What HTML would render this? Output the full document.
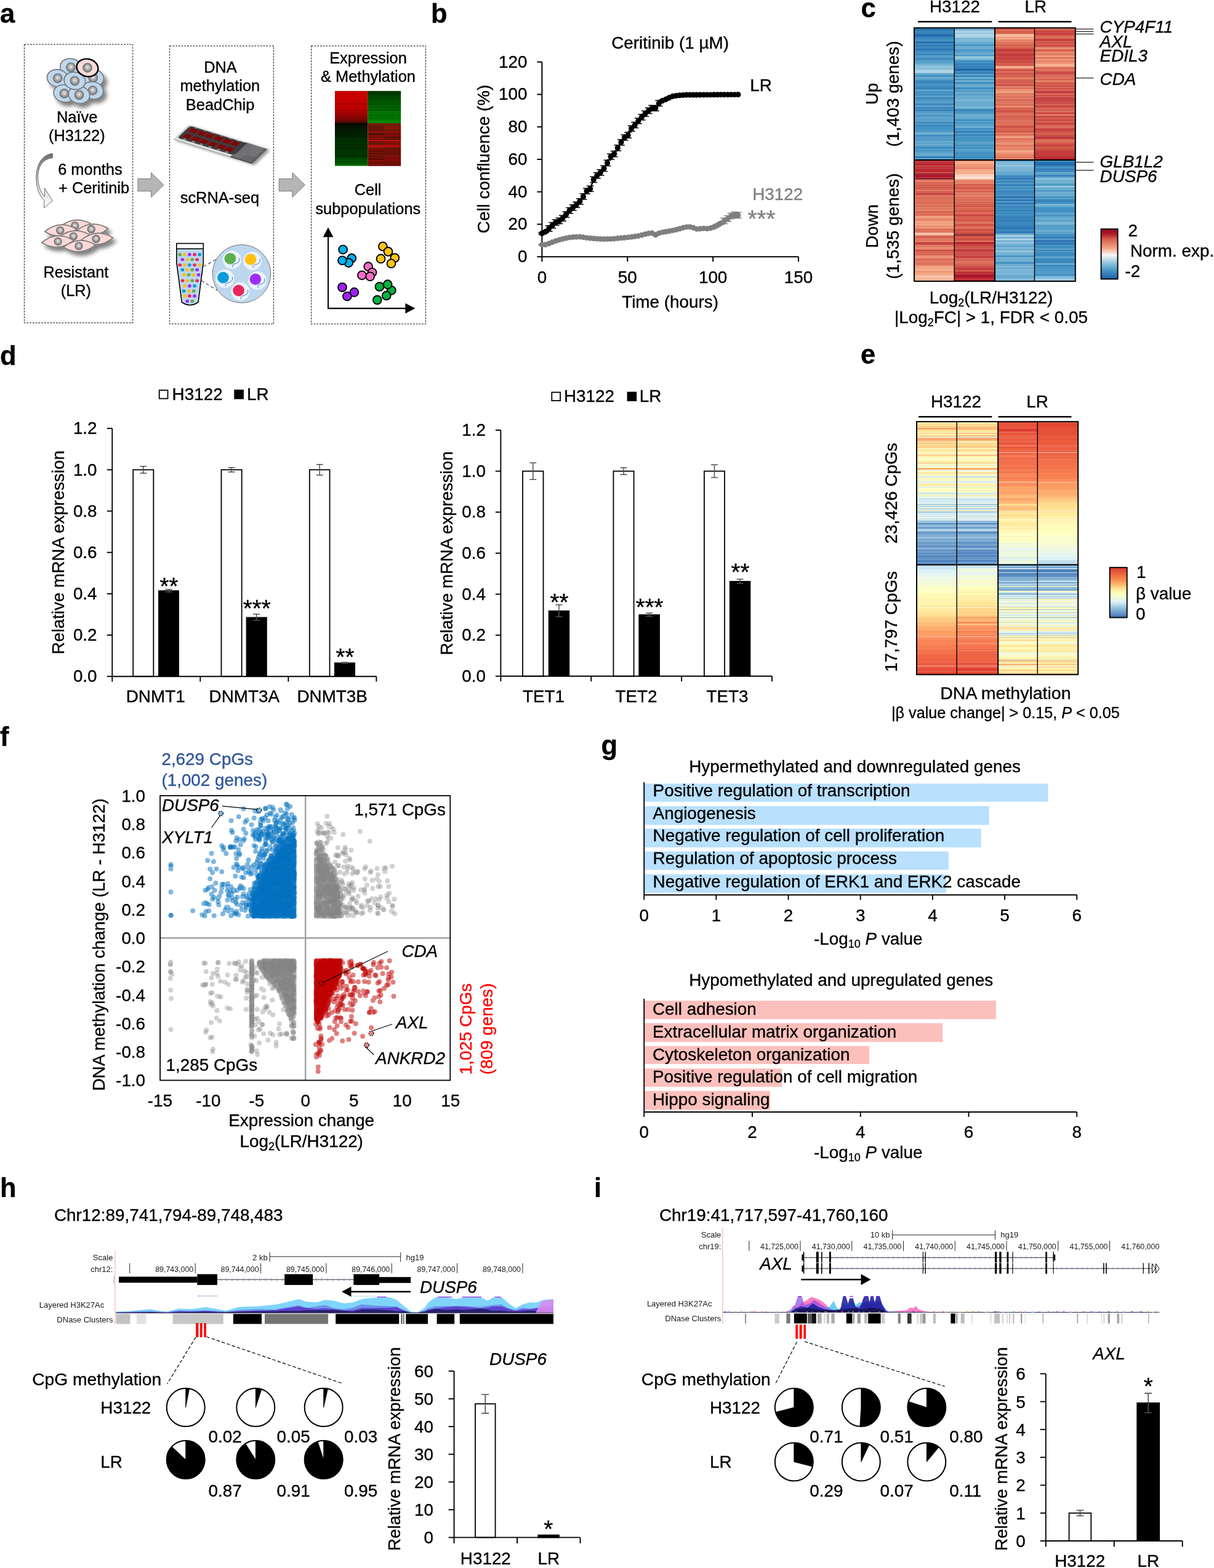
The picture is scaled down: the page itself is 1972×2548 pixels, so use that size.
<!DOCTYPE html>
<html lang="en"><head><meta charset="utf-8"><title>Figure</title>
<style>
html,body{margin:0;padding:0;background:#fff;}
body{width:1972px;height:2548px;font-family:"Liberation Sans", Arial, Helvetica, sans-serif;}
svg{display:block;}
svg text:not([fill]){fill:#000;stroke:#000;}svg text{font-family:"Liberation Sans", Arial, Helvetica, sans-serif;stroke-width:0.35px;stroke-linejoin:round;}
</style></head><body>
<svg width="1972" height="2548" viewBox="0 0 1972 2548">
<defs>
<filter id="sh" x="-30%" y="-30%" width="170%" height="180%"><feGaussianBlur in="SourceAlpha" stdDeviation="3"/><feOffset dx="4.5" dy="5.5"/><feComponentTransfer><feFuncA type="linear" slope="0.5"/></feComponentTransfer><feMerge><feMergeNode/><feMergeNode in="SourceGraphic"/></feMerge></filter>
<filter id="sh2" x="-20%" y="-30%" width="150%" height="180%"><feGaussianBlur in="SourceAlpha" stdDeviation="2"/><feOffset dx="4" dy="1.5"/><feComponentTransfer><feFuncA type="linear" slope="0.4"/></feComponentTransfer><feMerge><feMergeNode/><feMergeNode in="SourceGraphic"/></feMerge></filter>
<radialGradient id="nuc" cx="0.5" cy="0.45" r="0.55"><stop offset="0" stop-color="#f2f2f2"/><stop offset="0.45" stop-color="#b0b0b0"/><stop offset="1" stop-color="#7a7a7a"/></radialGradient>
<linearGradient id="cag" x1="0" y1="0" x2="0" y2="1"><stop offset="0" stop-color="#6a6a6a"/><stop offset="0.45" stop-color="#c8c8c8"/><stop offset="1" stop-color="#ffffff"/></linearGradient>
<linearGradient id="rim" x1="0" y1="0" x2="0" y2="1"><stop offset="0" stop-color="#d9d9d9"/><stop offset="0.8" stop-color="#cfcfcf"/><stop offset="0.93" stop-color="#e6e6e6"/><stop offset="1" stop-color="#8a8a8a"/></linearGradient>
<linearGradient id="hand" x1="0" y1="0" x2="1" y2="0"><stop offset="0" stop-color="#6c6c70"/><stop offset="0.8" stop-color="#77777a"/><stop offset="1" stop-color="#555558"/></linearGradient>
<linearGradient id="hmr" x1="0" y1="0" x2="0" y2="1"><stop offset="0" stop-color="#d80000"/><stop offset="0.55" stop-color="#c00000"/><stop offset="0.85" stop-color="#8a0505"/><stop offset="1" stop-color="#4a0a05"/></linearGradient>
<linearGradient id="hmg" x1="0" y1="0" x2="0" y2="1"><stop offset="0" stop-color="#003a00"/><stop offset="0.4" stop-color="#006a00"/><stop offset="0.8" stop-color="#008a00"/><stop offset="1" stop-color="#00a808"/></linearGradient>
<linearGradient id="hmb" x1="0" y1="0" x2="0" y2="1"><stop offset="0" stop-color="#3a2a08"/><stop offset="0.12" stop-color="#6a1208"/><stop offset="0.5" stop-color="#7a0e08"/><stop offset="1" stop-color="#8a0a08"/></linearGradient>
<linearGradient id="hmk" x1="0" y1="0" x2="0" y2="1"><stop offset="0" stop-color="#0a0a06"/><stop offset="0.3" stop-color="#002a00"/><stop offset="0.75" stop-color="#003a00"/><stop offset="1" stop-color="#006a00"/></linearGradient>

<linearGradient id="cbc" x1="0" y1="0" x2="0" y2="1"><stop offset="0" stop-color="#8e0c20"/><stop offset="0.1" stop-color="#b2182b"/><stop offset="0.2" stop-color="#d6604d"/><stop offset="0.38" stop-color="#f4a582"/><stop offset="0.52" stop-color="#f7f7f7"/><stop offset="0.68" stop-color="#92c5de"/><stop offset="0.84" stop-color="#4393c3"/><stop offset="1" stop-color="#1f5fa6"/></linearGradient>
<linearGradient id="cbe" x1="0" y1="0" x2="0" y2="1"><stop offset="0" stop-color="#dc3b2c"/><stop offset="0.25" stop-color="#f98e52"/><stop offset="0.42" stop-color="#fee090"/><stop offset="0.52" stop-color="#ffffbf"/><stop offset="0.68" stop-color="#e0f3f8"/><stop offset="0.82" stop-color="#91bfdb"/><stop offset="1" stop-color="#4272b4"/></linearGradient></defs>
<rect x="0" y="0" width="1972" height="2548" fill="#fff"/>
<text x="0" y="37" font-size="43.5" font-weight="bold">a</text>
<rect x="39.5" y="72" width="176.1" height="452.5" fill="none" stroke="#3a3a3a" stroke-width="1.25" stroke-dasharray="2.85 1.9"/>
<rect x="275.5" y="74.5" width="168.95" height="451.95" fill="none" stroke="#3a3a3a" stroke-width="1.25" stroke-dasharray="2.85 1.9"/>
<rect x="505.6" y="74.5" width="185.9" height="451.95" fill="none" stroke="#3a3a3a" stroke-width="1.25" stroke-dasharray="2.85 1.9"/>
<text x="125.2" y="199.3" font-size="25.4" text-anchor="middle">Naïve</text>
<text x="124.8" y="229.4" font-size="25.4" text-anchor="middle">(H3122)</text>
<text x="123.4" y="450.8" font-size="25.4" text-anchor="middle">Resistant</text>
<text x="123.4" y="480.7" font-size="25.4" text-anchor="middle">(LR)</text>
<text x="358" y="117.8" font-size="25.4" text-anchor="middle">DNA</text>
<text x="357.3" y="148" font-size="25.4" text-anchor="middle">methylation</text>
<text x="357.6" y="178.6" font-size="25.4" text-anchor="middle">BeadChip</text>
<text x="356.9" y="329.6" font-size="25.4" text-anchor="middle">scRNA-seq</text>
<text x="598" y="102.7" font-size="25.4" text-anchor="middle">Expression</text>
<text x="598" y="132.9" font-size="25.4" text-anchor="middle">&amp; Methylation</text>
<text x="597.6" y="317.4" font-size="25.4" text-anchor="middle">Cell</text>
<text x="597.8" y="347.5" font-size="25.4" text-anchor="middle">subpopulations</text>
<text x="94.2" y="284.3" font-size="25.4" >6 months</text>
<text x="95" y="314.2" font-size="25.4" >+ Ceritinib</text>
<g filter="url(#sh)">
<ellipse cx="151.24" cy="126.39" rx="17.4" ry="14" transform="rotate(12 151.24 126.39)" fill="#bdd7ee" stroke="#7a7a7a" stroke-width="1.7"/><circle cx="151.24" cy="126.39" r="7.2" fill="url(#nuc)" stroke="#6e6e6e" stroke-width="1.3"/>
<ellipse cx="115.03" cy="109.35" rx="17.4" ry="14" transform="rotate(12 115.03 109.35)" fill="#bdd7ee" stroke="#7a7a7a" stroke-width="1.7"/><circle cx="115.03" cy="109.35" r="7.2" fill="url(#nuc)" stroke="#6e6e6e" stroke-width="1.3"/>
<ellipse cx="93.73" cy="127.1" rx="17.4" ry="14" transform="rotate(12 93.73 127.1)" fill="#bdd7ee" stroke="#7a7a7a" stroke-width="1.7"/><circle cx="93.73" cy="127.1" r="7.2" fill="url(#nuc)" stroke="#6e6e6e" stroke-width="1.3"/>
<ellipse cx="150.53" cy="146.98" rx="17.4" ry="14" transform="rotate(12 150.53 146.98)" fill="#bdd7ee" stroke="#7a7a7a" stroke-width="1.7"/><circle cx="150.53" cy="146.98" r="7.2" fill="url(#nuc)" stroke="#6e6e6e" stroke-width="1.3"/>
<ellipse cx="104.38" cy="151.95" rx="17.4" ry="14" transform="rotate(12 104.38 151.95)" fill="#bdd7ee" stroke="#7a7a7a" stroke-width="1.7"/><circle cx="104.38" cy="151.95" r="7.2" fill="url(#nuc)" stroke="#6e6e6e" stroke-width="1.3"/>
<ellipse cx="128.52" cy="154.08" rx="17.4" ry="14" transform="rotate(12 128.52 154.08)" fill="#bdd7ee" stroke="#7a7a7a" stroke-width="1.7"/><circle cx="128.52" cy="154.08" r="7.2" fill="url(#nuc)" stroke="#6e6e6e" stroke-width="1.3"/>
<ellipse cx="121.42" cy="131.36" rx="17.4" ry="14" transform="rotate(12 121.42 131.36)" fill="#bdd7ee" stroke="#7a7a7a" stroke-width="1.7"/><circle cx="121.42" cy="131.36" r="7.2" fill="url(#nuc)" stroke="#6e6e6e" stroke-width="1.3"/>
</g>
<ellipse cx="142.01" cy="110.06" rx="17.6" ry="14.2" transform="rotate(14 142.01 110.06)" fill="#fbd9d9" stroke="#000" stroke-width="2.4"/><circle cx="142.01" cy="110.06" r="7.2" fill="url(#nuc)" stroke="#6e6e6e" stroke-width="1.3"/>
<path d="M85.3 249.5 C68 251.5 58.5 268 58.8 290 C59 305 63 317 71.8 325.5 L71.6 337.8 L85.4 326 L72.4 305.6 L72.2 319.5 C65.5 311 61.8 301 61.6 289 C61.5 272 68 258.5 85.3 256.6 Z" fill="url(#cag)" stroke="#4a4a4a" stroke-width="0.8" stroke-linejoin="round"/>
<g filter="url(#sh)">
<path d="M97.43 366.69 Q123.43 348.31 149.43 366.69 Q123.43 385.06 97.43 366.69 Z" transform="rotate(-4 123.43 366.69)" fill="#fbd9d8" stroke="#7a7a7a" stroke-width="1.7" stroke-linejoin="round"/>
<circle cx="121.78" cy="366.69" r="6" fill="url(#nuc)" stroke="#6e6e6e" stroke-width="1.3"/>
<path d="M72.58 374.47 Q98.58 356.1 124.58 374.47 Q98.58 392.85 72.58 374.47 Z" transform="rotate(-4 98.58 374.47)" fill="#fbd9d8" stroke="#7a7a7a" stroke-width="1.7" stroke-linejoin="round"/>
<circle cx="97.75" cy="374.47" r="6" fill="url(#nuc)" stroke="#6e6e6e" stroke-width="1.3"/>
<path d="M123.94 373.31 Q149.94 354.94 175.94 373.31 Q149.94 391.69 123.94 373.31 Z" transform="rotate(-4 149.94 373.31)" fill="#fbd9d8" stroke="#7a7a7a" stroke-width="1.7" stroke-linejoin="round"/>
<circle cx="148.28" cy="372.49" r="6" fill="url(#nuc)" stroke="#6e6e6e" stroke-width="1.3"/>
<path d="M94.95 384.08 Q120.95 365.71 146.95 384.08 Q120.95 402.46 94.95 384.08 Z" transform="rotate(-4 120.95 384.08)" fill="#fbd9d8" stroke="#7a7a7a" stroke-width="1.7" stroke-linejoin="round"/>
<circle cx="119.29" cy="384.08" r="6" fill="url(#nuc)" stroke="#6e6e6e" stroke-width="1.3"/>
<path d="M67.61 392.37 Q93.61 373.99 119.61 392.37 Q93.61 410.74 67.61 392.37 Z" transform="rotate(-4 93.61 392.37)" fill="#fbd9d8" stroke="#7a7a7a" stroke-width="1.7" stroke-linejoin="round"/>
<circle cx="94.11" cy="392.37" r="6" fill="url(#nuc)" stroke="#6e6e6e" stroke-width="1.3"/>
<path d="M131.73 388.23 Q157.73 369.85 183.73 388.23 Q157.73 406.6 131.73 388.23 Z" transform="rotate(-4 157.73 388.23)" fill="#fbd9d8" stroke="#7a7a7a" stroke-width="1.7" stroke-linejoin="round"/>
<circle cx="156.07" cy="388.23" r="6" fill="url(#nuc)" stroke="#6e6e6e" stroke-width="1.3"/>
<path d="M103.23 399.82 Q129.23 381.45 155.23 399.82 Q129.23 418.2 103.23 399.82 Z" transform="rotate(-4 129.23 399.82)" fill="#fbd9d8" stroke="#7a7a7a" stroke-width="1.7" stroke-linejoin="round"/>
<circle cx="127.91" cy="399.82" r="6" fill="url(#nuc)" stroke="#6e6e6e" stroke-width="1.3"/>
</g>
<path d="M224 290.5 H245.6 V280.6 L266 300.6 L245.6 320.7 V310.7 H224 Z" fill="#b5b5b5" stroke="#7a7a7a" stroke-width="1"/>
<path d="M453.3 290.5 H474.9 V280.6 L495.3 300.6 L474.9 320.7 V310.7 H453.3 Z" fill="#b5b5b5" stroke="#7a7a7a" stroke-width="1"/>
<g filter="url(#sh2)"><g transform="matrix(128.3 39.6 -25 24.1 306.2 202.6)">
<rect x="0" y="0" width="1" height="1" rx="0.015" ry="0.06" fill="url(#rim)"/>
<rect x="0.72" y="0" width="0.28" height="0.93" fill="url(#hand)"/>
<path d="M0.83 0.93L0.86 0.6L1 0.6L1 0.93Z" fill="#5c5c60" opacity="0.55"/>
<path d="M0.72 0.93H1V1H0.72Z" fill="#4a4a4d"/>
<path d="M0.055 0.03H0.745V0.6Q0.745 0.85 0.7 0.85H0.055Q0.025 0.85 0.025 0.7V0.18Q0.025 0.03 0.055 0.03Z" fill="#3c3d40"/>
<rect x="0.06" y="0.11" width="0.09" height="0.25" fill="#860a08"/>
<rect x="0.09" y="0.11" width="0.007" height="0.25" fill="#4a0505"/>
<rect x="0.12" y="0.11" width="0.007" height="0.25" fill="#4a0505"/>
<rect x="0.09" y="0.04" width="0.035" height="0.05" fill="#77777d"/>
<rect x="0.17" y="0.11" width="0.09" height="0.25" fill="#860a08"/>
<rect x="0.2" y="0.11" width="0.007" height="0.25" fill="#4a0505"/>
<rect x="0.23" y="0.11" width="0.007" height="0.25" fill="#4a0505"/>
<rect x="0.2" y="0.04" width="0.035" height="0.05" fill="#77777d"/>
<rect x="0.27" y="0.11" width="0.09" height="0.25" fill="#860a08"/>
<rect x="0.3" y="0.11" width="0.007" height="0.25" fill="#4a0505"/>
<rect x="0.33" y="0.11" width="0.007" height="0.25" fill="#4a0505"/>
<rect x="0.3" y="0.04" width="0.035" height="0.05" fill="#77777d"/>
<rect x="0.38" y="0.11" width="0.09" height="0.25" fill="#860a08"/>
<rect x="0.41" y="0.11" width="0.007" height="0.25" fill="#4a0505"/>
<rect x="0.44" y="0.11" width="0.007" height="0.25" fill="#4a0505"/>
<rect x="0.41" y="0.04" width="0.035" height="0.05" fill="#77777d"/>
<rect x="0.49" y="0.11" width="0.09" height="0.25" fill="#860a08"/>
<rect x="0.52" y="0.11" width="0.007" height="0.25" fill="#4a0505"/>
<rect x="0.55" y="0.11" width="0.007" height="0.25" fill="#4a0505"/>
<rect x="0.52" y="0.04" width="0.035" height="0.05" fill="#77777d"/>
<rect x="0.59" y="0.11" width="0.09" height="0.25" fill="#860a08"/>
<rect x="0.62" y="0.11" width="0.007" height="0.25" fill="#4a0505"/>
<rect x="0.65" y="0.11" width="0.007" height="0.25" fill="#4a0505"/>
<rect x="0.62" y="0.04" width="0.035" height="0.05" fill="#77777d"/>
<rect x="0.06" y="0.49" width="0.09" height="0.25" fill="#860a08"/>
<rect x="0.09" y="0.49" width="0.007" height="0.25" fill="#4a0505"/>
<rect x="0.12" y="0.49" width="0.007" height="0.25" fill="#4a0505"/>
<rect x="0.09" y="0.76" width="0.035" height="0.08" fill="#8a8a90"/>
<rect x="0.17" y="0.49" width="0.09" height="0.25" fill="#860a08"/>
<rect x="0.2" y="0.49" width="0.007" height="0.25" fill="#4a0505"/>
<rect x="0.23" y="0.49" width="0.007" height="0.25" fill="#4a0505"/>
<rect x="0.2" y="0.76" width="0.035" height="0.08" fill="#8a8a90"/>
<rect x="0.27" y="0.49" width="0.09" height="0.25" fill="#860a08"/>
<rect x="0.3" y="0.49" width="0.007" height="0.25" fill="#4a0505"/>
<rect x="0.33" y="0.49" width="0.007" height="0.25" fill="#4a0505"/>
<rect x="0.3" y="0.76" width="0.035" height="0.08" fill="#8a8a90"/>
<rect x="0.38" y="0.49" width="0.09" height="0.25" fill="#860a08"/>
<rect x="0.41" y="0.49" width="0.007" height="0.25" fill="#4a0505"/>
<rect x="0.44" y="0.49" width="0.007" height="0.25" fill="#4a0505"/>
<rect x="0.41" y="0.76" width="0.035" height="0.08" fill="#8a8a90"/>
<rect x="0.49" y="0.49" width="0.09" height="0.25" fill="#860a08"/>
<rect x="0.52" y="0.49" width="0.007" height="0.25" fill="#4a0505"/>
<rect x="0.55" y="0.49" width="0.007" height="0.25" fill="#4a0505"/>
<rect x="0.52" y="0.76" width="0.035" height="0.08" fill="#8a8a90"/>
<rect x="0.59" y="0.49" width="0.09" height="0.25" fill="#860a08"/>
<rect x="0.62" y="0.49" width="0.007" height="0.25" fill="#4a0505"/>
<rect x="0.65" y="0.49" width="0.007" height="0.25" fill="#4a0505"/>
<rect x="0.62" y="0.76" width="0.035" height="0.08" fill="#8a8a90"/>
</g></g>
<path d="M286.8 404.3 V426.7 L295.3 491 Q308.6 500.5 322 491 L330.3 426.7 V404.3 Z" fill="#bdd7ee" stroke="#000" stroke-width="1.6" stroke-linejoin="round"/>
<rect x="286.8" y="395.6" width="43.5" height="8.7" fill="#fff" stroke="#000" stroke-width="1.6"/>
<ellipse cx="292.28" cy="413.67" rx="2.9" ry="2.6" fill="#5fae4c"/>
<ellipse cx="299.96" cy="413.67" rx="2.9" ry="2.6" fill="#ffc010"/>
<ellipse cx="307.91" cy="413.67" rx="2.9" ry="2.6" fill="#9e2cff"/>
<ellipse cx="315.98" cy="413.67" rx="2.9" ry="2.6" fill="#e9285c"/>
<ellipse cx="324.18" cy="413.67" rx="2.9" ry="2.6" fill="#0a9ad9"/>
<ellipse cx="296.45" cy="421.74" rx="2.9" ry="2.6" fill="#9e2cff"/>
<ellipse cx="304.26" cy="421.74" rx="2.9" ry="2.6" fill="#ffc010"/>
<ellipse cx="312.33" cy="421.74" rx="2.9" ry="2.6" fill="#5fae4c"/>
<ellipse cx="320.14" cy="421.74" rx="2.9" ry="2.6" fill="#e9285c"/>
<ellipse cx="292.28" cy="430.59" rx="2.9" ry="2.6" fill="#e9285c"/>
<ellipse cx="299.96" cy="430.59" rx="2.9" ry="2.6" fill="#ffc010"/>
<ellipse cx="307.91" cy="430.59" rx="2.9" ry="2.6" fill="#0a9ad9"/>
<ellipse cx="315.98" cy="430.59" rx="2.9" ry="2.6" fill="#e9285c"/>
<ellipse cx="324.18" cy="430.59" rx="2.9" ry="2.6" fill="#ffc010"/>
<ellipse cx="296.45" cy="438.4" rx="2.9" ry="2.6" fill="#0a9ad9"/>
<ellipse cx="304.26" cy="438.4" rx="2.9" ry="2.6" fill="#ffc010"/>
<ellipse cx="312.33" cy="438.4" rx="2.9" ry="2.6" fill="#5fae4c"/>
<ellipse cx="320.14" cy="438.4" rx="2.9" ry="2.6" fill="#9e2cff"/>
<ellipse cx="298.66" cy="446.6" rx="2.9" ry="2.6" fill="#ffc010"/>
<ellipse cx="306.6" cy="446.6" rx="2.9" ry="2.6" fill="#5fae4c"/>
<ellipse cx="314.41" cy="446.6" rx="2.9" ry="2.6" fill="#ffc010"/>
<ellipse cx="322.49" cy="446.6" rx="2.9" ry="2.6" fill="#9e2cff"/>
<ellipse cx="296.45" cy="455.98" rx="2.9" ry="2.6" fill="#e9285c"/>
<ellipse cx="304.26" cy="455.98" rx="2.9" ry="2.6" fill="#ffc010"/>
<ellipse cx="312.33" cy="455.98" rx="2.9" ry="2.6" fill="#5fae4c"/>
<ellipse cx="320.14" cy="455.98" rx="2.9" ry="2.6" fill="#e9285c"/>
<ellipse cx="299.96" cy="464.7" rx="2.9" ry="2.6" fill="#ffc010"/>
<ellipse cx="307.91" cy="464.7" rx="2.9" ry="2.6" fill="#9e2cff"/>
<ellipse cx="315.98" cy="464.7" rx="2.9" ry="2.6" fill="#0a9ad9"/>
<ellipse cx="298.66" cy="472.9" rx="2.9" ry="2.6" fill="#0a9ad9"/>
<ellipse cx="306.86" cy="472.9" rx="2.9" ry="2.6" fill="#ffc010"/>
<ellipse cx="314.67" cy="472.9" rx="2.9" ry="2.6" fill="#5fae4c"/>
<ellipse cx="299.96" cy="480.97" rx="2.9" ry="2.6" fill="#ffc010"/>
<ellipse cx="307.91" cy="480.97" rx="2.9" ry="2.6" fill="#e9285c"/>
<ellipse cx="315.98" cy="480.97" rx="2.9" ry="2.6" fill="#9e2cff"/>
<ellipse cx="304.26" cy="489.43" rx="2.9" ry="2.6" fill="#9e2cff"/>
<ellipse cx="312.33" cy="489.43" rx="2.9" ry="2.6" fill="#5fae4c"/>
<line x1="330.3" y1="433.2" x2="351.78" y2="421.22" stroke="#595959" stroke-width="1.3" stroke-dasharray="5.5 3.5"/>
<line x1="327.04" y1="455.98" x2="352.69" y2="471.6" stroke="#595959" stroke-width="1.3" stroke-dasharray="5.5 3.5"/>
<circle cx="392.52" cy="444.91" r="47.3" fill="#bdd7ee" stroke="#7a7070" stroke-width="1"/>
<circle cx="376.9" cy="422.13" r="15" fill="#eaf2fb"/>
<circle cx="373.91" cy="420.18" r="9.3" fill="#5fae4c"/>
<path d="M378.11 434.18 q-1.5 -4 2 -5 q6 -1 8 -4 q2 -3 0.5 -6" fill="none" stroke="#2f80d0" stroke-width="1"/>
<circle cx="409.96" cy="424.08" r="15" fill="#eaf2fb"/>
<circle cx="407.1" cy="421.48" r="9.3" fill="#ffc010"/>
<path d="M411.3 435.48 q-1.5 -4 2 -5 q6 -1 8 -4 q2 -3 0.5 -6" fill="none" stroke="#2f80d0" stroke-width="1"/>
<circle cx="365.18" cy="452.98" r="15" fill="#eaf2fb"/>
<circle cx="362.45" cy="451.03" r="9.3" fill="#0a9ad9"/>
<path d="M366.65 465.03 q-1.5 -4 2 -5 q6 -1 8 -4 q2 -3 0.5 -6" fill="none" stroke="#2f80d0" stroke-width="1"/>
<circle cx="418.17" cy="455.98" r="15" fill="#eaf2fb"/>
<circle cx="414.91" cy="453.76" r="9.3" fill="#9e2cff"/>
<path d="M419.11 467.76 q-1.5 -4 2 -5 q6 -1 8 -4 q2 -3 0.5 -6" fill="none" stroke="#2f80d0" stroke-width="1"/>
<circle cx="390.44" cy="473.55" r="15" fill="#eaf2fb"/>
<circle cx="387.57" cy="471.99" r="9.3" fill="#e9285c"/>
<path d="M391.77 485.99 q-1.5 -4 2 -5 q6 -1 8 -4 q2 -3 0.5 -6" fill="none" stroke="#2f80d0" stroke-width="1"/>
<rect x="544" y="147.8" width="53.5" height="52.4" fill="url(#hmr)"/>
<rect x="597.3" y="147.8" width="53.9" height="52.4" fill="url(#hmg)"/>
<rect x="544" y="199.8" width="53.5" height="69.8" fill="url(#hmk)"/>
<rect x="597.5" y="199.8" width="53.7" height="69.8" fill="url(#hmb)"/>
<rect x="597.5" y="148.5" width="53.7" height="1.2" fill="#000" opacity="0.3"/>
<rect x="544" y="148.5" width="53.5" height="1.2" fill="#000" opacity="0.19"/>
<rect x="597.5" y="151.88" width="53.7" height="1.2" fill="#000" opacity="0.57"/>
<rect x="544" y="151.88" width="53.5" height="1.2" fill="#000" opacity="0.14"/>
<rect x="597.5" y="155.47" width="53.7" height="1.2" fill="#000" opacity="0.22"/>
<rect x="544" y="155.47" width="53.5" height="1.2" fill="#000" opacity="0.12"/>
<rect x="597.5" y="158.91" width="53.7" height="0.8" fill="#000" opacity="0.42"/>
<rect x="597.5" y="160.23" width="53.7" height="0.5" fill="#000" opacity="0.36"/>
<rect x="544" y="160.23" width="53.5" height="0.5" fill="#000" opacity="0.22"/>
<rect x="597.5" y="162.01" width="53.7" height="0.5" fill="#000" opacity="0.26"/>
<rect x="597.5" y="163.27" width="53.7" height="0.5" fill="#000" opacity="0.59"/>
<rect x="544" y="163.27" width="53.5" height="0.5" fill="#000" opacity="0.2"/>
<rect x="597.5" y="166.19" width="53.7" height="0.5" fill="#000" opacity="0.55"/>
<rect x="544" y="166.19" width="53.5" height="0.5" fill="#000" opacity="0.24"/>
<rect x="597.5" y="168.26" width="53.7" height="1.2" fill="#000" opacity="0.45"/>
<rect x="544" y="168.26" width="53.5" height="1.2" fill="#000" opacity="0.24"/>
<rect x="597.5" y="170.36" width="53.7" height="0.8" fill="#000" opacity="0.32"/>
<rect x="544" y="170.36" width="53.5" height="0.8" fill="#000" opacity="0.08"/>
<rect x="597.5" y="171.95" width="53.7" height="0.5" fill="#000" opacity="0.33"/>
<rect x="597.5" y="174.12" width="53.7" height="1.2" fill="#000" opacity="0.47"/>
<rect x="544" y="174.12" width="53.5" height="1.2" fill="#000" opacity="0.11"/>
<rect x="597.5" y="177.46" width="53.7" height="0.8" fill="#000" opacity="0.48"/>
<rect x="544" y="177.46" width="53.5" height="0.8" fill="#000" opacity="0.14"/>
<rect x="597.5" y="179.11" width="53.7" height="0.8" fill="#000" opacity="0.59"/>
<rect x="544" y="179.11" width="53.5" height="0.8" fill="#000" opacity="0.2"/>
<rect x="597.5" y="182.1" width="53.7" height="0.5" fill="#000" opacity="0.42"/>
<rect x="544" y="182.1" width="53.5" height="0.5" fill="#000" opacity="0.13"/>
<rect x="597.5" y="184.78" width="53.7" height="0.8" fill="#000" opacity="0.22"/>
<rect x="544" y="184.78" width="53.5" height="0.8" fill="#000" opacity="0.24"/>
<rect x="597.5" y="186.48" width="53.7" height="0.5" fill="#000" opacity="0.57"/>
<rect x="597.5" y="188.16" width="53.7" height="0.8" fill="#000" opacity="0.56"/>
<rect x="544" y="188.16" width="53.5" height="0.8" fill="#000" opacity="0.14"/>
<rect x="597.5" y="190.64" width="53.7" height="0.8" fill="#000" opacity="0.54"/>
<rect x="544" y="190.64" width="53.5" height="0.8" fill="#000" opacity="0.24"/>
<rect x="597.5" y="192.13" width="53.7" height="0.8" fill="#000" opacity="0.41"/>
<rect x="544" y="192.13" width="53.5" height="0.8" fill="#000" opacity="0.08"/>
<rect x="597.5" y="193.98" width="53.7" height="1.2" fill="#000" opacity="0.42"/>
<rect x="544" y="193.98" width="53.5" height="1.2" fill="#000" opacity="0.11"/>
<rect x="597.5" y="196.03" width="53.7" height="0.5" fill="#000" opacity="0.45"/>
<rect x="597.5" y="197.65" width="53.7" height="0.8" fill="#000" opacity="0.26"/>
<rect x="544" y="197.65" width="53.5" height="0.8" fill="#000" opacity="0.25"/>
<rect x="597.5" y="201" width="53.7" height="1" fill="#c81010" opacity="0.83"/>
<rect x="544" y="201" width="53.5" height="0.7" fill="#000" opacity="0.3"/>
<rect x="597.5" y="203.15" width="53.7" height="0.6" fill="#c81010" opacity="0.86"/>
<rect x="544" y="203.15" width="53.5" height="0.7" fill="#000" opacity="0.28"/>
<rect x="623.5" y="205.32" width="27.7" height="1.5" fill="#d81515" opacity="0.55"/>
<rect x="544" y="205.32" width="53.5" height="0.7" fill="#000" opacity="0.26"/>
<rect x="623.5" y="208.22" width="27.7" height="1" fill="#d81515" opacity="0.91"/>
<rect x="623.5" y="209.74" width="27.7" height="1.5" fill="#4a2a00" opacity="0.81"/>
<rect x="544" y="209.74" width="53.5" height="0.7" fill="#000" opacity="0.31"/>
<rect x="623.5" y="212.15" width="27.7" height="0.6" fill="#c81010" opacity="0.87"/>
<rect x="544" y="212.15" width="53.5" height="0.7" fill="#000" opacity="0.27"/>
<rect x="597.5" y="214.27" width="53.7" height="1" fill="#d81515" opacity="0.72"/>
<rect x="544" y="214.27" width="53.5" height="0.7" fill="#000" opacity="0.42"/>
<rect x="597.5" y="216.22" width="26" height="0.6" fill="#3a1800" opacity="0.81"/>
<rect x="597.5" y="218.11" width="26" height="1" fill="#2a0800" opacity="0.88"/>
<rect x="544" y="218.11" width="53.5" height="0.7" fill="#000" opacity="0.59"/>
<rect x="597.5" y="220.34" width="53.7" height="1" fill="#b00c0c" opacity="0.76"/>
<rect x="544" y="220.34" width="53.5" height="0.7" fill="#000" opacity="0.42"/>
<rect x="623.5" y="221.97" width="27.7" height="1.5" fill="#401000" opacity="0.63"/>
<rect x="544" y="221.97" width="53.5" height="0.7" fill="#000" opacity="0.47"/>
<rect x="597.5" y="224.23" width="26" height="1" fill="#b00c0c" opacity="0.83"/>
<rect x="623.5" y="225.99" width="27.7" height="0.6" fill="#3a1800" opacity="0.94"/>
<rect x="597.5" y="227.56" width="53.7" height="1.5" fill="#d81515" opacity="0.88"/>
<rect x="623.5" y="229.98" width="27.7" height="1.5" fill="#c81010" opacity="0.58"/>
<rect x="597.5" y="232.54" width="26" height="1.5" fill="#4a2a00" opacity="0.78"/>
<rect x="597.5" y="235.16" width="53.7" height="1.5" fill="#c81010" opacity="0.57"/>
<rect x="544" y="235.16" width="53.5" height="0.7" fill="#000" opacity="0.46"/>
<rect x="597.5" y="237.25" width="53.7" height="1.5" fill="#d81515" opacity="0.94"/>
<rect x="597.5" y="239.26" width="26" height="0.6" fill="#c81010" opacity="0.94"/>
<rect x="544" y="239.26" width="53.5" height="0.7" fill="#000" opacity="0.42"/>
<rect x="597.5" y="240.7" width="53.7" height="1" fill="#4a2a00" opacity="0.77"/>
<rect x="544" y="240.7" width="53.5" height="0.7" fill="#000" opacity="0.56"/>
<rect x="623.5" y="242" width="27.7" height="1" fill="#401000" opacity="0.89"/>
<rect x="597.5" y="244.02" width="26" height="0.6" fill="#2a0800" opacity="0.54"/>
<rect x="544" y="244.02" width="53.5" height="0.7" fill="#000" opacity="0.34"/>
<rect x="597.5" y="245.67" width="53.7" height="1" fill="#3a1800" opacity="0.69"/>
<rect x="597.5" y="247.81" width="53.7" height="1" fill="#4a2a00" opacity="0.57"/>
<rect x="544" y="247.81" width="53.5" height="0.7" fill="#000" opacity="0.39"/>
<rect x="597.5" y="249.36" width="53.7" height="0.6" fill="#2a0800" opacity="0.66"/>
<rect x="597.5" y="250.27" width="53.7" height="0.6" fill="#401000" opacity="0.65"/>
<rect x="597.5" y="251.9" width="53.7" height="1" fill="#4a2a00" opacity="0.72"/>
<rect x="544" y="251.9" width="53.5" height="0.7" fill="#000" opacity="0.48"/>
<rect x="597.5" y="253.7" width="26" height="0.6" fill="#2a0800" opacity="0.83"/>
<rect x="544" y="253.7" width="53.5" height="0.7" fill="#000" opacity="0.3"/>
<rect x="597.5" y="254.62" width="26" height="1" fill="#4a2a00" opacity="0.56"/>
<rect x="544" y="254.62" width="53.5" height="0.7" fill="#000" opacity="0.46"/>
<rect x="597.5" y="257.17" width="53.7" height="0.6" fill="#401000" opacity="0.85"/>
<rect x="597.5" y="258.09" width="26" height="1.5" fill="#2a0800" opacity="0.61"/>
<rect x="544" y="258.09" width="53.5" height="0.7" fill="#000" opacity="0.21"/>
<rect x="597.5" y="260.53" width="26" height="0.6" fill="#b00c0c" opacity="0.63"/>
<rect x="597.5" y="262.04" width="53.7" height="1.5" fill="#3a1800" opacity="0.51"/>
<rect x="544" y="262.04" width="53.5" height="0.7" fill="#000" opacity="0.31"/>
<rect x="597.5" y="264.77" width="53.7" height="1.5" fill="#401000" opacity="0.71"/>
<rect x="544" y="264.77" width="53.5" height="0.7" fill="#000" opacity="0.5"/>
<rect x="597.5" y="267.33" width="26" height="0.6" fill="#c81010" opacity="0.75"/>
<rect x="597.5" y="268.37" width="53.7" height="1.5" fill="#2a0800" opacity="0.51"/>
<path d="M533.1 384 V501.1 H660" fill="none" stroke="#000" stroke-width="2.1"/>
<path d="M533.1 369.4 L524.8 385.2 H541.4 Z" fill="#000"/>
<path d="M674.4 501.1 L658.4 492.8 V509.4 Z" fill="#000"/>
<circle cx="557.14" cy="405.53" r="6.9" fill="#00b0f0" stroke="#000" stroke-width="1.9"/>
<circle cx="571.22" cy="419.61" r="6.9" fill="#00b0f0" stroke="#000" stroke-width="1.9"/>
<circle cx="566.25" cy="427.07" r="6.9" fill="#00b0f0" stroke="#000" stroke-width="1.9"/>
<circle cx="555.98" cy="423.25" r="6.9" fill="#00b0f0" stroke="#000" stroke-width="1.9"/>
<circle cx="621.92" cy="400.39" r="6.9" fill="#ffc412" stroke="#000" stroke-width="1.9"/>
<circle cx="630.53" cy="408.84" r="6.9" fill="#ffc412" stroke="#000" stroke-width="1.9"/>
<circle cx="641.3" cy="419.11" r="6.9" fill="#ffc412" stroke="#000" stroke-width="1.9"/>
<circle cx="618.6" cy="420.44" r="6.9" fill="#ffc412" stroke="#000" stroke-width="1.9"/>
<circle cx="635.5" cy="428.23" r="6.9" fill="#ffc412" stroke="#000" stroke-width="1.9"/>
<circle cx="598.23" cy="433.2" r="6.9" fill="#f86cc8" stroke="#000" stroke-width="1.9"/>
<circle cx="604.52" cy="442.81" r="6.9" fill="#f86cc8" stroke="#000" stroke-width="1.9"/>
<circle cx="587.95" cy="447.28" r="6.9" fill="#f86cc8" stroke="#000" stroke-width="1.9"/>
<circle cx="601.21" cy="449.27" r="6.9" fill="#f86cc8" stroke="#000" stroke-width="1.9"/>
<circle cx="555.98" cy="466.83" r="6.9" fill="#a020f8" stroke="#000" stroke-width="1.9"/>
<circle cx="575.36" cy="474.95" r="6.9" fill="#a020f8" stroke="#000" stroke-width="1.9"/>
<circle cx="563.93" cy="481.57" r="6.9" fill="#a020f8" stroke="#000" stroke-width="1.9"/>
<circle cx="616.45" cy="465.83" r="6.9" fill="#00b341" stroke="#000" stroke-width="1.9"/>
<circle cx="635.83" cy="471.8" r="6.9" fill="#00b341" stroke="#000" stroke-width="1.9"/>
<circle cx="629.7" cy="462.19" r="6.9" fill="#00b341" stroke="#000" stroke-width="1.9"/>
<circle cx="627.72" cy="480.41" r="6.9" fill="#00b341" stroke="#000" stroke-width="1.9"/>
<circle cx="612.81" cy="487.37" r="6.9" fill="#00b341" stroke="#000" stroke-width="1.9"/>
<text x="700" y="37" font-size="43.5" font-weight="bold">b</text>
<text x="1088.6" y="79.3" font-size="27.85" text-anchor="middle">Ceritinib (1 µM)</text>
<path d="M880.4 100.7 V417.2 H1297" fill="none" stroke="#000" stroke-width="2"/>
<line x1="872.4" y1="417.2" x2="880.4" y2="417.2" stroke="#000" stroke-width="2" />
<text x="856.5" y="426.1" font-size="27.85" text-anchor="end">0</text>
<line x1="872.4" y1="364.45" x2="880.4" y2="364.45" stroke="#000" stroke-width="2" />
<text x="856.5" y="373.35" font-size="27.85" text-anchor="end">20</text>
<line x1="872.4" y1="311.7" x2="880.4" y2="311.7" stroke="#000" stroke-width="2" />
<text x="856.5" y="320.6" font-size="27.85" text-anchor="end">40</text>
<line x1="872.4" y1="258.95" x2="880.4" y2="258.95" stroke="#000" stroke-width="2" />
<text x="856.5" y="267.85" font-size="27.85" text-anchor="end">60</text>
<line x1="872.4" y1="206.2" x2="880.4" y2="206.2" stroke="#000" stroke-width="2" />
<text x="856.5" y="215.1" font-size="27.85" text-anchor="end">80</text>
<line x1="872.4" y1="153.45" x2="880.4" y2="153.45" stroke="#000" stroke-width="2" />
<text x="856.5" y="162.35" font-size="27.85" text-anchor="end">100</text>
<line x1="872.4" y1="100.7" x2="880.4" y2="100.7" stroke="#000" stroke-width="2" />
<text x="856.5" y="109.6" font-size="27.85" text-anchor="end">120</text>
<line x1="880.4" y1="417.2" x2="880.4" y2="425.2" stroke="#000" stroke-width="2" />
<text x="880.4" y="459.5" font-size="27.85" text-anchor="middle">0</text>
<line x1="1019.27" y1="417.2" x2="1019.27" y2="425.2" stroke="#000" stroke-width="2" />
<text x="1019.27" y="459.5" font-size="27.85" text-anchor="middle">50</text>
<line x1="1158.13" y1="417.2" x2="1158.13" y2="425.2" stroke="#000" stroke-width="2" />
<text x="1158.13" y="459.5" font-size="27.85" text-anchor="middle">100</text>
<line x1="1297" y1="417.2" x2="1297" y2="425.2" stroke="#000" stroke-width="2" />
<text x="1297" y="459.5" font-size="27.85" text-anchor="middle">150</text>
<text x="1088.6" y="499.5" font-size="27.85" text-anchor="middle">Time (hours)</text>
<text font-size="27.85" text-anchor="middle" transform="translate(795 258.5) rotate(-90)">Cell confluence (%)</text>
<text x="1218.2" y="147.6" font-size="27.85" >LR</text>
<text x="1222.2" y="325.4" font-size="27.85" fill="#808080" stroke="#808080">H3122</text>
<text x="1214.5" y="369.4" font-size="38.5" fill="#808080" stroke="#808080">***</text>
<path d="M880.41 397.58L886 397.58L891.59 395.83L897.18 393.59L902.76 391.55L908.35 389.87L913.94 388.2L919.52 387.03L925.11 385.91L930.7 385.22L936.28 385L941.87 384.81L947.46 385.59L953.05 386.38L958.63 387.02L964.22 387.58L969.81 388.09L975.39 388.31L980.98 388.53L986.57 388.43L992.16 388.21L997.74 387.88L1003.33 387.32L1008.92 386.77L1014.5 386.21L1020.09 385.65L1025.68 385L1031.27 384.21L1036.85 383.43L1042.44 381.99L1048.03 380.53L1053.61 379.37L1059.2 378.85L1064.79 381.74L1070.37 378.94L1075.96 377.39L1081.55 376.5L1087.14 375.56L1092.72 374.44L1098.31 373.32L1103.9 371.77L1109.48 370.09L1115.07 368.88L1120.66 368.68L1126.25 370.12L1131.83 372.13L1137.42 371.74L1143.01 371.18L1148.59 371.54L1154.18 370.74L1159.77 368.82L1165.35 366.02L1170.94 362.67L1176.53 358.94L1182.12 355.22L1187.7 350.99L1193.29 349.01L1198.88 349.94" fill="none" stroke="#7f7f7f" stroke-width="2.4"/>
<path d="M880.41 396.78V398.38M874.41 396.78h12M874.41 398.38h12M886 396.78V398.38M880 396.78h12M880 398.38h12M891.59 395.03V396.63M885.59 395.03h12M885.59 396.63h12M897.18 392.79V394.39M891.18 392.79h12M891.18 394.39h12M902.76 390.75V392.35M896.76 390.75h12M896.76 392.35h12M908.35 389.07V390.67M902.35 389.07h12M902.35 390.67h12M913.94 387.4V389M907.94 387.4h12M907.94 389h12M919.52 386.23V387.83M913.52 386.23h12M913.52 387.83h12M925.11 385.11V386.71M919.11 385.11h12M919.11 386.71h12M930.7 384.42V386.02M924.7 384.42h12M924.7 386.02h12M936.28 384.2V385.8M930.28 384.2h12M930.28 385.8h12M941.87 384.01V385.61M935.87 384.01h12M935.87 385.61h12M947.46 384.79V386.39M941.46 384.79h12M941.46 386.39h12M953.05 385.58V387.18M947.05 385.58h12M947.05 387.18h12M958.63 386.22V387.82M952.63 386.22h12M952.63 387.82h12M964.22 386.78V388.38M958.22 386.78h12M958.22 388.38h12M969.81 387.29V388.89M963.81 387.29h12M963.81 388.89h12M975.39 387.51V389.11M969.39 387.51h12M969.39 389.11h12M980.98 387.73V389.33M974.98 387.73h12M974.98 389.33h12M986.57 387.63V389.23M980.57 387.63h12M980.57 389.23h12M992.16 387.41V389.01M986.16 387.41h12M986.16 389.01h12M997.74 387.08V388.68M991.74 387.08h12M991.74 388.68h12M1003.33 386.52V388.12M997.33 386.52h12M997.33 388.12h12M1008.92 385.97V387.57M1002.92 385.97h12M1002.92 387.57h12M1014.5 385.41V387.01M1008.5 385.41h12M1008.5 387.01h12M1020.09 384.85V386.45M1014.09 384.85h12M1014.09 386.45h12M1025.68 384.2V385.8M1019.68 384.2h12M1019.68 385.8h12M1031.27 383.41V385.01M1025.27 383.41h12M1025.27 385.01h12M1036.85 382.63V384.23M1030.85 382.63h12M1030.85 384.23h12M1042.44 381.19V382.79M1036.44 381.19h12M1036.44 382.79h12M1048.03 379.73V381.33M1042.03 379.73h12M1042.03 381.33h12M1053.61 378.57V380.17M1047.61 378.57h12M1047.61 380.17h12M1059.2 378.05V379.65M1053.2 378.05h12M1053.2 379.65h12M1064.79 380.94V382.54M1058.79 380.94h12M1058.79 382.54h12M1070.37 378.14V379.74M1064.37 378.14h12M1064.37 379.74h12M1075.96 376.59V378.19M1069.96 376.59h12M1069.96 378.19h12M1081.55 375.7V377.3M1075.55 375.7h12M1075.55 377.3h12M1087.14 374.76V376.36M1081.14 374.76h12M1081.14 376.36h12M1092.72 373.64V375.24M1086.72 373.64h12M1086.72 375.24h12M1098.31 372.52V374.12M1092.31 372.52h12M1092.31 374.12h12M1103.9 370.97V372.57M1097.9 370.97h12M1097.9 372.57h12M1109.48 369.29V370.89M1103.48 369.29h12M1103.48 370.89h12M1115.07 368.08V369.68M1109.07 368.08h12M1109.07 369.68h12M1120.66 367.88V369.48M1114.66 367.88h12M1114.66 369.48h12M1126.25 369.32V370.92M1120.25 369.32h12M1120.25 370.92h12M1131.83 371.33V372.93M1125.83 371.33h12M1125.83 372.93h12M1137.42 370.94V372.54M1131.42 370.94h12M1131.42 372.54h12M1143.01 370.38V371.98M1137.01 370.38h12M1137.01 371.98h12M1148.59 370.74V372.34M1142.59 370.74h12M1142.59 372.34h12M1154.18 368.74V372.74M1148.18 368.74h12M1148.18 372.74h12M1159.77 366.82V370.82M1153.77 366.82h12M1153.77 370.82h12M1165.35 364.02V368.02M1159.35 364.02h12M1159.35 368.02h12M1170.94 360.67V364.67M1164.94 360.67h12M1164.94 364.67h12M1176.53 354.34V363.54M1170.53 354.34h12M1170.53 363.54h12M1182.12 350.62V359.82M1176.12 350.62h12M1176.12 359.82h12M1187.7 346.39V355.59M1181.7 346.39h12M1181.7 355.59h12M1193.29 344.41V353.61M1187.29 344.41h12M1187.29 353.61h12M1198.88 345.34V354.54M1192.88 345.34h12M1192.88 354.54h12" fill="none" stroke="#7f7f7f" stroke-width="1.5"/>
<path d="M875.91 397.58a4.5 4.5 0 1 0 9 0a4.5 4.5 0 1 0 -9 0M881.5 397.58a4.5 4.5 0 1 0 9 0a4.5 4.5 0 1 0 -9 0M887.09 395.83a4.5 4.5 0 1 0 9 0a4.5 4.5 0 1 0 -9 0M892.68 393.59a4.5 4.5 0 1 0 9 0a4.5 4.5 0 1 0 -9 0M898.26 391.55a4.5 4.5 0 1 0 9 0a4.5 4.5 0 1 0 -9 0M903.85 389.87a4.5 4.5 0 1 0 9 0a4.5 4.5 0 1 0 -9 0M909.44 388.2a4.5 4.5 0 1 0 9 0a4.5 4.5 0 1 0 -9 0M915.02 387.03a4.5 4.5 0 1 0 9 0a4.5 4.5 0 1 0 -9 0M920.61 385.91a4.5 4.5 0 1 0 9 0a4.5 4.5 0 1 0 -9 0M926.2 385.22a4.5 4.5 0 1 0 9 0a4.5 4.5 0 1 0 -9 0M931.78 385a4.5 4.5 0 1 0 9 0a4.5 4.5 0 1 0 -9 0M937.37 384.81a4.5 4.5 0 1 0 9 0a4.5 4.5 0 1 0 -9 0M942.96 385.59a4.5 4.5 0 1 0 9 0a4.5 4.5 0 1 0 -9 0M948.55 386.38a4.5 4.5 0 1 0 9 0a4.5 4.5 0 1 0 -9 0M954.13 387.02a4.5 4.5 0 1 0 9 0a4.5 4.5 0 1 0 -9 0M959.72 387.58a4.5 4.5 0 1 0 9 0a4.5 4.5 0 1 0 -9 0M965.31 388.09a4.5 4.5 0 1 0 9 0a4.5 4.5 0 1 0 -9 0M970.89 388.31a4.5 4.5 0 1 0 9 0a4.5 4.5 0 1 0 -9 0M976.48 388.53a4.5 4.5 0 1 0 9 0a4.5 4.5 0 1 0 -9 0M982.07 388.43a4.5 4.5 0 1 0 9 0a4.5 4.5 0 1 0 -9 0M987.66 388.21a4.5 4.5 0 1 0 9 0a4.5 4.5 0 1 0 -9 0M993.24 387.88a4.5 4.5 0 1 0 9 0a4.5 4.5 0 1 0 -9 0M998.83 387.32a4.5 4.5 0 1 0 9 0a4.5 4.5 0 1 0 -9 0M1004.42 386.77a4.5 4.5 0 1 0 9 0a4.5 4.5 0 1 0 -9 0M1010 386.21a4.5 4.5 0 1 0 9 0a4.5 4.5 0 1 0 -9 0M1015.59 385.65a4.5 4.5 0 1 0 9 0a4.5 4.5 0 1 0 -9 0M1021.18 385a4.5 4.5 0 1 0 9 0a4.5 4.5 0 1 0 -9 0M1026.77 384.21a4.5 4.5 0 1 0 9 0a4.5 4.5 0 1 0 -9 0M1032.35 383.43a4.5 4.5 0 1 0 9 0a4.5 4.5 0 1 0 -9 0M1037.94 381.99a4.5 4.5 0 1 0 9 0a4.5 4.5 0 1 0 -9 0M1043.53 380.53a4.5 4.5 0 1 0 9 0a4.5 4.5 0 1 0 -9 0M1049.11 379.37a4.5 4.5 0 1 0 9 0a4.5 4.5 0 1 0 -9 0M1054.7 378.85a4.5 4.5 0 1 0 9 0a4.5 4.5 0 1 0 -9 0M1060.29 381.74a4.5 4.5 0 1 0 9 0a4.5 4.5 0 1 0 -9 0M1065.87 378.94a4.5 4.5 0 1 0 9 0a4.5 4.5 0 1 0 -9 0M1071.46 377.39a4.5 4.5 0 1 0 9 0a4.5 4.5 0 1 0 -9 0M1077.05 376.5a4.5 4.5 0 1 0 9 0a4.5 4.5 0 1 0 -9 0M1082.64 375.56a4.5 4.5 0 1 0 9 0a4.5 4.5 0 1 0 -9 0M1088.22 374.44a4.5 4.5 0 1 0 9 0a4.5 4.5 0 1 0 -9 0M1093.81 373.32a4.5 4.5 0 1 0 9 0a4.5 4.5 0 1 0 -9 0M1099.4 371.77a4.5 4.5 0 1 0 9 0a4.5 4.5 0 1 0 -9 0M1104.98 370.09a4.5 4.5 0 1 0 9 0a4.5 4.5 0 1 0 -9 0M1110.57 368.88a4.5 4.5 0 1 0 9 0a4.5 4.5 0 1 0 -9 0M1116.16 368.68a4.5 4.5 0 1 0 9 0a4.5 4.5 0 1 0 -9 0M1121.75 370.12a4.5 4.5 0 1 0 9 0a4.5 4.5 0 1 0 -9 0M1127.33 372.13a4.5 4.5 0 1 0 9 0a4.5 4.5 0 1 0 -9 0M1132.92 371.74a4.5 4.5 0 1 0 9 0a4.5 4.5 0 1 0 -9 0M1138.51 371.18a4.5 4.5 0 1 0 9 0a4.5 4.5 0 1 0 -9 0M1144.09 371.54a4.5 4.5 0 1 0 9 0a4.5 4.5 0 1 0 -9 0M1149.68 370.74a4.5 4.5 0 1 0 9 0a4.5 4.5 0 1 0 -9 0M1155.27 368.82a4.5 4.5 0 1 0 9 0a4.5 4.5 0 1 0 -9 0M1160.85 366.02a4.5 4.5 0 1 0 9 0a4.5 4.5 0 1 0 -9 0M1166.44 362.67a4.5 4.5 0 1 0 9 0a4.5 4.5 0 1 0 -9 0M1172.03 358.94a4.5 4.5 0 1 0 9 0a4.5 4.5 0 1 0 -9 0M1177.62 355.22a4.5 4.5 0 1 0 9 0a4.5 4.5 0 1 0 -9 0M1183.2 350.99a4.5 4.5 0 1 0 9 0a4.5 4.5 0 1 0 -9 0M1188.79 349.01a4.5 4.5 0 1 0 9 0a4.5 4.5 0 1 0 -9 0M1194.38 349.94a4.5 4.5 0 1 0 9 0a4.5 4.5 0 1 0 -9 0" fill="#7f7f7f"/>
<path d="M880.41 379.34L886 376.43L891.59 371.43L897.18 366.14L902.76 361.49L908.35 358.91L913.94 354.53L919.52 348.54L925.11 342.03L930.7 337.3L936.28 332.74L941.87 327.32L947.46 319.43L953.05 310.49L958.63 306.75L964.22 291.84L969.81 285.13L975.39 280.32L980.98 273.8L986.57 264.85L992.16 254.56L997.74 250.09L1003.33 240.36L1008.92 231.29L1014.5 223.51L1020.09 219.63L1025.68 208.76L1031.27 203.17L1036.85 196.51L1042.44 190.31L1048.03 184.74L1053.61 179.81L1059.2 175.74L1064.79 175.74L1070.37 167.95L1075.96 163.63L1081.55 161.59L1087.14 158.8L1092.72 156.46L1098.31 155.53L1103.9 154.98L1109.48 154.53L1115.07 154.22L1120.66 154.19L1126.25 154.15L1131.83 154.12L1137.42 154.08L1143.01 154.05L1148.59 154.01L1154.18 153.98L1159.77 153.94L1165.35 153.91L1170.94 153.87L1176.53 153.83L1182.12 153.8L1187.7 153.76L1193.29 153.73L1198.88 153.69" fill="none" stroke="#000" stroke-width="2.4"/>
<path d="M880.41 377.84V380.84M874.41 377.84h12M874.41 380.84h12M886 374.93V377.93M880 374.93h12M880 377.93h12M891.59 366.83V376.03M885.59 366.83h12M885.59 376.03h12M897.18 361.54V370.74M891.18 361.54h12M891.18 370.74h12M902.76 356.89V366.09M896.76 356.89h12M896.76 366.09h12M908.35 354.31V363.51M902.35 354.31h12M902.35 363.51h12M913.94 349.93V359.13M907.94 349.93h12M907.94 359.13h12M919.52 343.94V353.14M913.52 343.94h12M913.52 353.14h12M925.11 337.43V346.63M919.11 337.43h12M919.11 346.63h12M930.7 332.7V341.9M924.7 332.7h12M924.7 341.9h12M936.28 328.14V337.34M930.28 328.14h12M930.28 337.34h12M941.87 322.72V331.92M935.87 322.72h12M935.87 331.92h12M947.46 314.83V324.03M941.46 314.83h12M941.46 324.03h12M953.05 305.89V315.09M947.05 305.89h12M947.05 315.09h12M958.63 302.15V311.35M952.63 302.15h12M952.63 311.35h12M964.22 287.24V296.44M958.22 287.24h12M958.22 296.44h12M969.81 280.53V289.73M963.81 280.53h12M963.81 289.73h12M975.39 275.72V284.92M969.39 275.72h12M969.39 284.92h12M980.98 269.2V278.4M974.98 269.2h12M974.98 278.4h12M986.57 260.25V269.45M980.57 260.25h12M980.57 269.45h12M992.16 249.96V259.16M986.16 249.96h12M986.16 259.16h12M997.74 245.49V254.69M991.74 245.49h12M991.74 254.69h12M1003.33 235.76V244.96M997.33 235.76h12M997.33 244.96h12M1008.92 226.69V235.89M1002.92 226.69h12M1002.92 235.89h12M1014.5 218.91V228.11M1008.5 218.91h12M1008.5 228.11h12M1020.09 215.03V224.23M1014.09 215.03h12M1014.09 224.23h12M1025.68 204.16V213.36M1019.68 204.16h12M1019.68 213.36h12M1031.27 198.57V207.77M1025.27 198.57h12M1025.27 207.77h12M1036.85 191.91V201.11M1030.85 191.91h12M1030.85 201.11h12M1042.44 185.71V194.91M1036.44 185.71h12M1036.44 194.91h12M1048.03 180.14V189.34M1042.03 180.14h12M1042.03 189.34h12M1053.61 175.21V184.41M1047.61 175.21h12M1047.61 184.41h12M1059.2 171.14V180.34M1053.2 171.14h12M1053.2 180.34h12M1064.79 171.14V180.34M1058.79 171.14h12M1058.79 180.34h12M1070.37 163.35V172.55M1064.37 163.35h12M1064.37 172.55h12M1075.96 162.13V165.13M1069.96 162.13h12M1069.96 165.13h12M1081.55 160.09V163.09M1075.55 160.09h12M1075.55 163.09h12M1087.14 157.3V160.3M1081.14 157.3h12M1081.14 160.3h12M1092.72 154.96V157.96M1086.72 154.96h12M1086.72 157.96h12M1098.31 154.03V157.03M1092.31 154.03h12M1092.31 157.03h12" fill="none" stroke="#000" stroke-width="1.5"/>
<path d="M875.81 379.34a4.6 4.6 0 1 0 9.2 0a4.6 4.6 0 1 0 -9.2 0M881.4 376.43a4.6 4.6 0 1 0 9.2 0a4.6 4.6 0 1 0 -9.2 0M886.99 371.43a4.6 4.6 0 1 0 9.2 0a4.6 4.6 0 1 0 -9.2 0M892.58 366.14a4.6 4.6 0 1 0 9.2 0a4.6 4.6 0 1 0 -9.2 0M898.16 361.49a4.6 4.6 0 1 0 9.2 0a4.6 4.6 0 1 0 -9.2 0M903.75 358.91a4.6 4.6 0 1 0 9.2 0a4.6 4.6 0 1 0 -9.2 0M909.34 354.53a4.6 4.6 0 1 0 9.2 0a4.6 4.6 0 1 0 -9.2 0M914.92 348.54a4.6 4.6 0 1 0 9.2 0a4.6 4.6 0 1 0 -9.2 0M920.51 342.03a4.6 4.6 0 1 0 9.2 0a4.6 4.6 0 1 0 -9.2 0M926.1 337.3a4.6 4.6 0 1 0 9.2 0a4.6 4.6 0 1 0 -9.2 0M931.68 332.74a4.6 4.6 0 1 0 9.2 0a4.6 4.6 0 1 0 -9.2 0M937.27 327.32a4.6 4.6 0 1 0 9.2 0a4.6 4.6 0 1 0 -9.2 0M942.86 319.43a4.6 4.6 0 1 0 9.2 0a4.6 4.6 0 1 0 -9.2 0M948.45 310.49a4.6 4.6 0 1 0 9.2 0a4.6 4.6 0 1 0 -9.2 0M954.03 306.75a4.6 4.6 0 1 0 9.2 0a4.6 4.6 0 1 0 -9.2 0M959.62 291.84a4.6 4.6 0 1 0 9.2 0a4.6 4.6 0 1 0 -9.2 0M965.21 285.13a4.6 4.6 0 1 0 9.2 0a4.6 4.6 0 1 0 -9.2 0M970.79 280.32a4.6 4.6 0 1 0 9.2 0a4.6 4.6 0 1 0 -9.2 0M976.38 273.8a4.6 4.6 0 1 0 9.2 0a4.6 4.6 0 1 0 -9.2 0M981.97 264.85a4.6 4.6 0 1 0 9.2 0a4.6 4.6 0 1 0 -9.2 0M987.56 254.56a4.6 4.6 0 1 0 9.2 0a4.6 4.6 0 1 0 -9.2 0M993.14 250.09a4.6 4.6 0 1 0 9.2 0a4.6 4.6 0 1 0 -9.2 0M998.73 240.36a4.6 4.6 0 1 0 9.2 0a4.6 4.6 0 1 0 -9.2 0M1004.32 231.29a4.6 4.6 0 1 0 9.2 0a4.6 4.6 0 1 0 -9.2 0M1009.9 223.51a4.6 4.6 0 1 0 9.2 0a4.6 4.6 0 1 0 -9.2 0M1015.49 219.63a4.6 4.6 0 1 0 9.2 0a4.6 4.6 0 1 0 -9.2 0M1021.08 208.76a4.6 4.6 0 1 0 9.2 0a4.6 4.6 0 1 0 -9.2 0M1026.67 203.17a4.6 4.6 0 1 0 9.2 0a4.6 4.6 0 1 0 -9.2 0M1032.25 196.51a4.6 4.6 0 1 0 9.2 0a4.6 4.6 0 1 0 -9.2 0M1037.84 190.31a4.6 4.6 0 1 0 9.2 0a4.6 4.6 0 1 0 -9.2 0M1043.43 184.74a4.6 4.6 0 1 0 9.2 0a4.6 4.6 0 1 0 -9.2 0M1049.01 179.81a4.6 4.6 0 1 0 9.2 0a4.6 4.6 0 1 0 -9.2 0M1054.6 175.74a4.6 4.6 0 1 0 9.2 0a4.6 4.6 0 1 0 -9.2 0M1060.19 175.74a4.6 4.6 0 1 0 9.2 0a4.6 4.6 0 1 0 -9.2 0M1065.77 167.95a4.6 4.6 0 1 0 9.2 0a4.6 4.6 0 1 0 -9.2 0M1071.36 163.63a4.6 4.6 0 1 0 9.2 0a4.6 4.6 0 1 0 -9.2 0M1076.95 161.59a4.6 4.6 0 1 0 9.2 0a4.6 4.6 0 1 0 -9.2 0M1082.54 158.8a4.6 4.6 0 1 0 9.2 0a4.6 4.6 0 1 0 -9.2 0M1088.12 156.46a4.6 4.6 0 1 0 9.2 0a4.6 4.6 0 1 0 -9.2 0M1093.71 155.53a4.6 4.6 0 1 0 9.2 0a4.6 4.6 0 1 0 -9.2 0M1099.3 154.98a4.6 4.6 0 1 0 9.2 0a4.6 4.6 0 1 0 -9.2 0M1104.88 154.53a4.6 4.6 0 1 0 9.2 0a4.6 4.6 0 1 0 -9.2 0M1110.47 154.22a4.6 4.6 0 1 0 9.2 0a4.6 4.6 0 1 0 -9.2 0M1116.06 154.19a4.6 4.6 0 1 0 9.2 0a4.6 4.6 0 1 0 -9.2 0M1121.65 154.15a4.6 4.6 0 1 0 9.2 0a4.6 4.6 0 1 0 -9.2 0M1127.23 154.12a4.6 4.6 0 1 0 9.2 0a4.6 4.6 0 1 0 -9.2 0M1132.82 154.08a4.6 4.6 0 1 0 9.2 0a4.6 4.6 0 1 0 -9.2 0M1138.41 154.05a4.6 4.6 0 1 0 9.2 0a4.6 4.6 0 1 0 -9.2 0M1143.99 154.01a4.6 4.6 0 1 0 9.2 0a4.6 4.6 0 1 0 -9.2 0M1149.58 153.98a4.6 4.6 0 1 0 9.2 0a4.6 4.6 0 1 0 -9.2 0M1155.17 153.94a4.6 4.6 0 1 0 9.2 0a4.6 4.6 0 1 0 -9.2 0M1160.75 153.91a4.6 4.6 0 1 0 9.2 0a4.6 4.6 0 1 0 -9.2 0M1166.34 153.87a4.6 4.6 0 1 0 9.2 0a4.6 4.6 0 1 0 -9.2 0M1171.93 153.83a4.6 4.6 0 1 0 9.2 0a4.6 4.6 0 1 0 -9.2 0M1177.52 153.8a4.6 4.6 0 1 0 9.2 0a4.6 4.6 0 1 0 -9.2 0M1183.1 153.76a4.6 4.6 0 1 0 9.2 0a4.6 4.6 0 1 0 -9.2 0M1188.69 153.73a4.6 4.6 0 1 0 9.2 0a4.6 4.6 0 1 0 -9.2 0M1194.28 153.69a4.6 4.6 0 1 0 9.2 0a4.6 4.6 0 1 0 -9.2 0" fill="#000"/>
<text x="1398.5" y="27.5" font-size="43.5" font-weight="bold">c</text>
<text x="1551" y="20.3" font-size="27.85" text-anchor="middle">H3122</text>
<text x="1682.3" y="20.3" font-size="27.85" text-anchor="middle">LR</text>
<line x1="1491" y1="35.2" x2="1611.3" y2="35.2" stroke="#000" stroke-width="2.6" />
<line x1="1621.5" y1="35.2" x2="1740.5" y2="35.2" stroke="#000" stroke-width="2.6" />
<path d="M1485 55.91h65.2M1485 57.16h65.2M1485 68.39h65.2" stroke="#2166ac" stroke-width="1.6" fill="none"/>
<path d="M1485 47.17h65.2M1485 48.42h65.2M1485 58.41h65.2M1485 59.65h65.2M1485 69.64h65.2M1485 79.63h65.2M1485 80.88h65.2M1485 175.74h65.2M1485 186.98h65.2" stroke="#2a71b2" stroke-width="1.6" fill="none"/>
<path d="M1485 45.92h65.2M1485 49.67h65.2M1485 53.41h65.2M1485 67.14h65.2M1485 70.89h65.2M1485 73.39h65.2M1485 74.63h65.2M1485 75.88h65.2M1485 82.12h65.2M1485 88.36h65.2M1485 95.85h65.2M1485 135.8h65.2M1485 142.04h65.2M1485 143.29h65.2M1485 170.75h65.2M1485 176.99h65.2M1485 179.49h65.2M1485 203.2h65.2M1485 220.68h65.2M1485 254.38h65.2M1485 255.63h65.2" stroke="#327cb8" stroke-width="1.6" fill="none"/>
<path d="M1485 50.92h65.2M1485 52.17h65.2M1485 54.66h65.2M1485 60.9h65.2M1485 62.15h65.2M1485 63.4h65.2M1485 72.14h65.2M1485 77.13h65.2M1485 78.38h65.2M1485 83.37h65.2M1485 89.61h65.2M1485 92.11h65.2M1485 94.61h65.2M1485 97.1h65.2M1485 130.81h65.2M1485 132.05h65.2M1485 133.3h65.2M1485 134.55h65.2M1485 138.3h65.2M1485 140.79h65.2M1485 144.54h65.2M1485 153.27h65.2M1485 154.52h65.2M1485 158.27h65.2M1485 159.52h65.2M1485 160.76h65.2M1485 169.5h65.2M1485 178.24h65.2M1485 181.98h65.2M1485 198.21h65.2M1485 200.71h65.2M1485 204.45h65.2M1485 210.69h65.2M1485 221.93h65.2M1485 228.17h65.2M1485 239.4h65.2M1485 241.9h65.2M1485 256.88h65.2M1485 259.38h65.2" stroke="#3a88bd" stroke-width="1.6" fill="none"/>
<path d="M1485 64.65h65.2M1485 65.9h65.2M1485 84.62h65.2M1485 85.87h65.2M1485 87.12h65.2M1485 102.1h65.2M1485 122.07h65.2M1485 123.32h65.2M1485 124.56h65.2M1485 127.06h65.2M1485 137.05h65.2M1485 139.54h65.2M1485 148.28h65.2M1485 149.53h65.2M1485 150.78h65.2M1485 152.03h65.2M1485 157.02h65.2M1485 162.01h65.2M1485 163.26h65.2M1485 167h65.2M1485 168.25h65.2M1485 174.49h65.2M1485 180.74h65.2M1485 183.23h65.2M1485 188.23h65.2M1485 191.97h65.2M1485 196.96h65.2M1485 199.46h65.2M1485 201.96h65.2M1485 205.7h65.2M1485 206.95h65.2M1485 208.2h65.2M1485 209.45h65.2M1485 211.94h65.2M1485 213.19h65.2M1485 219.43h65.2M1485 223.18h65.2M1485 226.92h65.2M1485 238.16h65.2M1485 240.65h65.2M1485 244.4h65.2M1485 245.65h65.2M1485 248.14h65.2" stroke="#4393c3" stroke-width="1.6" fill="none"/>
<path d="M1485 90.86h65.2M1485 93.36h65.2M1485 98.35h65.2M1485 99.6h65.2M1485 100.85h65.2M1485 120.82h65.2M1485 128.31h65.2M1485 129.56h65.2M1485 145.78h65.2M1485 147.03h65.2M1485 155.77h65.2M1485 164.51h65.2M1485 165.76h65.2M1485 172h65.2M1485 173.25h65.2M1485 185.73h65.2M1485 189.47h65.2M1485 190.72h65.2M1485 193.22h65.2M1485 194.47h65.2M1485 195.71h65.2M1485 214.44h65.2M1485 216.94h65.2M1485 224.42h65.2M1485 225.67h65.2M1485 231.91h65.2M1485 233.16h65.2M1485 236.91h65.2M1485 243.15h65.2M1485 246.89h65.2M1485 250.64h65.2M1485 253.13h65.2M1485 258.13h65.2" stroke="#57a0ca" stroke-width="1.6" fill="none"/>
<path d="M1485 103.34h65.2M1485 104.59h65.2M1485 119.57h65.2M1485 125.81h65.2M1485 184.48h65.2M1485 215.69h65.2M1485 218.18h65.2M1485 229.42h65.2M1485 230.67h65.2M1485 234.41h65.2M1485 235.66h65.2M1485 249.39h65.2M1485 251.89h65.2" stroke="#6aacd0" stroke-width="1.6" fill="none"/>
<path d="M1485 105.84h65.2M1485 107.09h65.2M1485 110.83h65.2M1485 112.08h65.2" stroke="#7eb8d7" stroke-width="1.6" fill="none"/>
<path d="M1485 108.34h65.2M1485 109.59h65.2M1485 118.32h65.2" stroke="#92c5de" stroke-width="1.6" fill="none"/>
<path d="M1485 113.33h65.2M1485 114.58h65.2" stroke="#a2cde2" stroke-width="1.6" fill="none"/>
<path d="M1485 115.83h65.2M1485 117.07h65.2" stroke="#b1d5e7" stroke-width="1.6" fill="none"/>
<path d="M1485 456.38h65.2" stroke="#fce2d3" stroke-width="1.6" fill="none"/>
<path d="M1485 380.32h65.2" stroke="#fddbc7" stroke-width="1.6" fill="none"/>
<path d="M1485 450.14h65.2" stroke="#fbceb6" stroke-width="1.6" fill="none"/>
<path d="M1485 379.07h65.2M1485 447.65h65.2M1485 448.9h65.2M1485 451.39h65.2M1485 455.13h65.2" stroke="#f8c0a4" stroke-width="1.6" fill="none"/>
<path d="M1485 360.37h65.2M1485 364.11h65.2M1485 381.57h65.2M1485 437.67h65.2M1485 438.92h65.2M1485 452.64h65.2M1485 453.88h65.2" stroke="#f6b293" stroke-width="1.6" fill="none"/>
<path d="M1485 351.64h65.2M1485 352.89h65.2M1485 361.62h65.2M1485 365.36h65.2M1485 433.93h65.2M1485 435.18h65.2M1485 436.43h65.2M1485 440.17h65.2M1485 442.66h65.2M1485 443.91h65.2M1485 445.16h65.2M1485 446.4h65.2" stroke="#f4a582" stroke-width="1.6" fill="none"/>
<path d="M1485 319.22h65.2M1485 354.14h65.2M1485 355.38h65.2M1485 359.12h65.2M1485 362.86h65.2M1485 366.6h65.2M1485 367.85h65.2M1485 369.1h65.2M1485 370.34h65.2M1485 371.59h65.2M1485 377.83h65.2M1485 402.76h65.2M1485 416.48h65.2M1485 417.72h65.2M1485 431.44h65.2M1485 432.69h65.2M1485 441.41h65.2" stroke="#ec9475" stroke-width="1.6" fill="none"/>
<path d="M1485 294.29h65.2M1485 295.53h65.2M1485 310.5h65.2M1485 331.69h65.2M1485 336.68h65.2M1485 337.93h65.2M1485 340.42h65.2M1485 341.67h65.2M1485 342.91h65.2M1485 346.66h65.2M1485 350.4h65.2M1485 356.63h65.2M1485 357.88h65.2M1485 374.09h65.2M1485 382.81h65.2M1485 387.8h65.2M1485 391.54h65.2M1485 392.79h65.2M1485 399.02h65.2M1485 401.52h65.2M1485 404.01h65.2M1485 405.26h65.2M1485 411.49h65.2M1485 415.23h65.2M1485 418.97h65.2M1485 425.21h65.2" stroke="#e58268" stroke-width="1.6" fill="none"/>
<path d="M1485 293.04h65.2M1485 299.28h65.2M1485 309.25h65.2M1485 321.72h65.2M1485 322.97h65.2M1485 324.21h65.2M1485 325.46h65.2M1485 326.71h65.2M1485 327.95h65.2M1485 329.2h65.2M1485 332.94h65.2M1485 335.43h65.2M1485 339.17h65.2M1485 347.9h65.2M1485 375.33h65.2M1485 376.58h65.2M1485 389.05h65.2M1485 390.29h65.2M1485 400.27h65.2M1485 420.22h65.2M1485 421.47h65.2M1485 423.96h65.2M1485 426.45h65.2M1485 427.7h65.2M1485 430.19h65.2" stroke="#de715a" stroke-width="1.6" fill="none"/>
<path d="M1485 280.57h65.2M1485 296.78h65.2M1485 298.03h65.2M1485 300.52h65.2M1485 303.02h65.2M1485 305.51h65.2M1485 306.76h65.2M1485 308h65.2M1485 312.99h65.2M1485 317.98h65.2M1485 320.47h65.2M1485 330.45h65.2M1485 334.19h65.2M1485 344.16h65.2M1485 345.41h65.2M1485 349.15h65.2M1485 372.84h65.2M1485 384.06h65.2M1485 386.55h65.2M1485 409h65.2M1485 410.24h65.2M1485 412.74h65.2M1485 413.98h65.2M1485 422.71h65.2M1485 428.95h65.2" stroke="#d6604d" stroke-width="1.6" fill="none"/>
<path d="M1485 269.35h65.2M1485 270.6h65.2M1485 279.33h65.2M1485 291.79h65.2M1485 301.77h65.2M1485 304.26h65.2M1485 311.74h65.2M1485 315.48h65.2M1485 316.73h65.2M1485 385.31h65.2M1485 396.53h65.2M1485 397.78h65.2M1485 406.5h65.2M1485 407.75h65.2" stroke="#cd4e45" stroke-width="1.6" fill="none"/>
<path d="M1485 260.62h65.2M1485 261.87h65.2M1485 264.36h65.2M1485 265.61h65.2M1485 273.09h65.2M1485 274.34h65.2M1485 314.24h65.2M1485 394.03h65.2M1485 395.28h65.2" stroke="#c43c3c" stroke-width="1.6" fill="none"/>
<path d="M1485 263.12h65.2M1485 268.1h65.2M1485 271.84h65.2M1485 275.59h65.2M1485 276.83h65.2M1485 281.82h65.2M1485 289.3h65.2M1485 290.55h65.2" stroke="#bb2a34" stroke-width="1.6" fill="none"/>
<path d="M1485 266.86h65.2M1485 278.08h65.2M1485 284.31h65.2M1485 285.56h65.2M1485 286.81h65.2M1485 288.05h65.2" stroke="#b2182b" stroke-width="1.6" fill="none"/>
<path d="M1485 283.07h65.2" stroke="#8d0c25" stroke-width="1.6" fill="none"/>
<path d="M1550.2 113.33h65.8" stroke="#1a5899" stroke-width="1.6" fill="none"/>
<path d="M1550.2 112.08h65.8" stroke="#2166ac" stroke-width="1.6" fill="none"/>
<path d="M1550.2 110.83h65.8M1550.2 114.58h65.8M1550.2 118.32h65.8" stroke="#2a71b2" stroke-width="1.6" fill="none"/>
<path d="M1550.2 103.34h65.8M1550.2 104.59h65.8M1550.2 107.09h65.8M1550.2 108.34h65.8M1550.2 117.07h65.8M1550.2 123.32h65.8M1550.2 179.49h65.8M1550.2 213.19h65.8M1550.2 214.44h65.8M1550.2 219.43h65.8M1550.2 256.88h65.8" stroke="#327cb8" stroke-width="1.6" fill="none"/>
<path d="M1550.2 99.6h65.8M1550.2 100.85h65.8M1550.2 105.84h65.8M1550.2 109.59h65.8M1550.2 115.83h65.8M1550.2 119.57h65.8M1550.2 122.07h65.8M1550.2 124.56h65.8M1550.2 134.55h65.8M1550.2 137.05h65.8M1550.2 142.04h65.8M1550.2 143.29h65.8M1550.2 148.28h65.8M1550.2 180.74h65.8M1550.2 200.71h65.8M1550.2 209.45h65.8M1550.2 211.94h65.8M1550.2 215.69h65.8M1550.2 218.18h65.8M1550.2 220.68h65.8M1550.2 235.66h65.8M1550.2 236.91h65.8M1550.2 239.4h65.8M1550.2 251.89h65.8M1550.2 255.63h65.8" stroke="#3a88bd" stroke-width="1.6" fill="none"/>
<path d="M1550.2 72.14h65.8M1550.2 73.39h65.8M1550.2 80.88h65.8M1550.2 82.12h65.8M1550.2 89.61h65.8M1550.2 90.86h65.8M1550.2 102.1h65.8M1550.2 128.31h65.8M1550.2 129.56h65.8M1550.2 133.3h65.8M1550.2 135.8h65.8M1550.2 144.54h65.8M1550.2 147.03h65.8M1550.2 176.99h65.8M1550.2 178.24h65.8M1550.2 181.98h65.8M1550.2 183.23h65.8M1550.2 191.97h65.8M1550.2 194.47h65.8M1550.2 195.71h65.8M1550.2 196.96h65.8M1550.2 199.46h65.8M1550.2 208.2h65.8M1550.2 210.69h65.8M1550.2 216.94h65.8M1550.2 221.93h65.8M1550.2 223.18h65.8M1550.2 224.42h65.8M1550.2 225.67h65.8M1550.2 226.92h65.8M1550.2 228.17h65.8M1550.2 229.42h65.8M1550.2 240.65h65.8M1550.2 241.9h65.8M1550.2 246.89h65.8M1550.2 248.14h65.8M1550.2 249.39h65.8M1550.2 250.64h65.8M1550.2 253.13h65.8M1550.2 254.38h65.8M1550.2 258.13h65.8" stroke="#4393c3" stroke-width="1.6" fill="none"/>
<path d="M1550.2 74.63h65.8M1550.2 83.37h65.8M1550.2 84.62h65.8M1550.2 85.87h65.8M1550.2 97.1h65.8M1550.2 98.35h65.8M1550.2 120.82h65.8M1550.2 125.81h65.8M1550.2 130.81h65.8M1550.2 145.78h65.8M1550.2 152.03h65.8M1550.2 153.27h65.8M1550.2 154.52h65.8M1550.2 175.74h65.8M1550.2 184.48h65.8M1550.2 185.73h65.8M1550.2 193.22h65.8M1550.2 198.21h65.8M1550.2 201.96h65.8M1550.2 203.2h65.8M1550.2 204.45h65.8M1550.2 230.67h65.8M1550.2 231.91h65.8M1550.2 233.16h65.8M1550.2 234.41h65.8M1550.2 238.16h65.8M1550.2 243.15h65.8M1550.2 244.4h65.8M1550.2 245.65h65.8" stroke="#57a0ca" stroke-width="1.6" fill="none"/>
<path d="M1550.2 45.92h65.8M1550.2 47.17h65.8M1550.2 48.42h65.8M1550.2 62.15h65.8M1550.2 68.39h65.8M1550.2 69.64h65.8M1550.2 70.89h65.8M1550.2 75.88h65.8M1550.2 77.13h65.8M1550.2 78.38h65.8M1550.2 79.63h65.8M1550.2 87.12h65.8M1550.2 88.36h65.8M1550.2 127.06h65.8M1550.2 132.05h65.8M1550.2 138.3h65.8M1550.2 139.54h65.8M1550.2 140.79h65.8M1550.2 149.53h65.8M1550.2 150.78h65.8M1550.2 155.77h65.8M1550.2 157.02h65.8M1550.2 158.27h65.8M1550.2 159.52h65.8M1550.2 160.76h65.8M1550.2 162.01h65.8M1550.2 164.51h65.8M1550.2 165.76h65.8M1550.2 167h65.8M1550.2 168.25h65.8M1550.2 169.5h65.8M1550.2 170.75h65.8M1550.2 172h65.8M1550.2 173.25h65.8M1550.2 186.98h65.8M1550.2 188.23h65.8M1550.2 189.47h65.8M1550.2 190.72h65.8M1550.2 205.7h65.8M1550.2 206.95h65.8M1550.2 259.38h65.8" stroke="#6aacd0" stroke-width="1.6" fill="none"/>
<path d="M1550.2 63.4h65.8M1550.2 64.65h65.8M1550.2 65.9h65.8M1550.2 67.14h65.8M1550.2 95.85h65.8M1550.2 163.26h65.8" stroke="#7eb8d7" stroke-width="1.6" fill="none"/>
<path d="M1550.2 49.67h65.8M1550.2 53.41h65.8M1550.2 54.66h65.8M1550.2 60.9h65.8M1550.2 92.11h65.8M1550.2 93.36h65.8M1550.2 94.61h65.8M1550.2 174.49h65.8" stroke="#92c5de" stroke-width="1.6" fill="none"/>
<path d="M1550.2 50.92h65.8M1550.2 57.16h65.8" stroke="#a2cde2" stroke-width="1.6" fill="none"/>
<path d="M1550.2 52.17h65.8M1550.2 55.91h65.8M1550.2 58.41h65.8M1550.2 59.65h65.8" stroke="#b1d5e7" stroke-width="1.6" fill="none"/>
<path d="M1550.2 288.05h65.8M1550.2 289.3h65.8" stroke="#fae9df" stroke-width="1.6" fill="none"/>
<path d="M1550.2 285.56h65.8" stroke="#fddbc7" stroke-width="1.6" fill="none"/>
<path d="M1550.2 284.31h65.8M1550.2 286.81h65.8M1550.2 290.55h65.8" stroke="#fbceb6" stroke-width="1.6" fill="none"/>
<path d="M1550.2 283.07h65.8" stroke="#f8c0a4" stroke-width="1.6" fill="none"/>
<path d="M1550.2 263.12h65.8M1550.2 264.36h65.8M1550.2 275.59h65.8M1550.2 278.08h65.8M1550.2 279.33h65.8M1550.2 280.57h65.8M1550.2 291.79h65.8" stroke="#f6b293" stroke-width="1.6" fill="none"/>
<path d="M1550.2 265.61h65.8M1550.2 266.86h65.8M1550.2 276.83h65.8M1550.2 281.82h65.8" stroke="#f4a582" stroke-width="1.6" fill="none"/>
<path d="M1550.2 261.87h65.8M1550.2 268.1h65.8M1550.2 269.35h65.8M1550.2 270.6h65.8M1550.2 271.84h65.8M1550.2 274.34h65.8" stroke="#ec9475" stroke-width="1.6" fill="none"/>
<path d="M1550.2 260.62h65.8M1550.2 273.09h65.8M1550.2 293.04h65.8M1550.2 294.29h65.8M1550.2 295.53h65.8M1550.2 296.78h65.8M1550.2 298.03h65.8M1550.2 314.24h65.8M1550.2 317.98h65.8M1550.2 330.45h65.8M1550.2 345.41h65.8M1550.2 362.86h65.8M1550.2 391.54h65.8" stroke="#e58268" stroke-width="1.6" fill="none"/>
<path d="M1550.2 299.28h65.8M1550.2 301.77h65.8M1550.2 308h65.8M1550.2 309.25h65.8M1550.2 310.5h65.8M1550.2 312.99h65.8M1550.2 315.48h65.8M1550.2 316.73h65.8M1550.2 319.22h65.8M1550.2 320.47h65.8M1550.2 321.72h65.8M1550.2 322.97h65.8M1550.2 325.46h65.8M1550.2 326.71h65.8M1550.2 336.68h65.8M1550.2 337.93h65.8M1550.2 340.42h65.8M1550.2 347.9h65.8M1550.2 351.64h65.8M1550.2 360.37h65.8M1550.2 361.62h65.8M1550.2 367.85h65.8M1550.2 369.1h65.8M1550.2 370.34h65.8M1550.2 371.59h65.8M1550.2 376.58h65.8M1550.2 392.79h65.8M1550.2 421.47h65.8M1550.2 425.21h65.8M1550.2 426.45h65.8M1550.2 427.7h65.8" stroke="#de715a" stroke-width="1.6" fill="none"/>
<path d="M1550.2 303.02h65.8M1550.2 304.26h65.8M1550.2 305.51h65.8M1550.2 324.21h65.8M1550.2 327.95h65.8M1550.2 331.69h65.8M1550.2 332.94h65.8M1550.2 334.19h65.8M1550.2 339.17h65.8M1550.2 341.67h65.8M1550.2 344.16h65.8M1550.2 346.66h65.8M1550.2 352.89h65.8M1550.2 354.14h65.8M1550.2 355.38h65.8M1550.2 356.63h65.8M1550.2 359.12h65.8M1550.2 364.11h65.8M1550.2 385.31h65.8M1550.2 386.55h65.8M1550.2 402.76h65.8M1550.2 410.24h65.8M1550.2 420.22h65.8M1550.2 423.96h65.8M1550.2 430.19h65.8M1550.2 431.44h65.8M1550.2 440.17h65.8" stroke="#d6604d" stroke-width="1.6" fill="none"/>
<path d="M1550.2 300.52h65.8M1550.2 306.76h65.8M1550.2 311.74h65.8M1550.2 329.2h65.8M1550.2 335.43h65.8M1550.2 342.91h65.8M1550.2 349.15h65.8M1550.2 357.88h65.8M1550.2 365.36h65.8M1550.2 366.6h65.8M1550.2 372.84h65.8M1550.2 374.09h65.8M1550.2 375.33h65.8M1550.2 377.83h65.8M1550.2 379.07h65.8M1550.2 380.32h65.8M1550.2 381.57h65.8M1550.2 387.8h65.8M1550.2 389.05h65.8M1550.2 390.29h65.8M1550.2 396.53h65.8M1550.2 400.27h65.8M1550.2 401.52h65.8M1550.2 404.01h65.8M1550.2 411.49h65.8M1550.2 412.74h65.8M1550.2 415.23h65.8M1550.2 416.48h65.8M1550.2 418.97h65.8M1550.2 422.71h65.8M1550.2 428.95h65.8M1550.2 432.69h65.8M1550.2 433.93h65.8M1550.2 438.92h65.8M1550.2 441.41h65.8" stroke="#cd4e45" stroke-width="1.6" fill="none"/>
<path d="M1550.2 350.4h65.8M1550.2 382.81h65.8M1550.2 384.06h65.8M1550.2 397.78h65.8M1550.2 399.02h65.8M1550.2 405.26h65.8M1550.2 406.5h65.8M1550.2 407.75h65.8M1550.2 409h65.8M1550.2 413.98h65.8M1550.2 435.18h65.8M1550.2 436.43h65.8M1550.2 437.67h65.8M1550.2 445.16h65.8M1550.2 452.64h65.8M1550.2 453.88h65.8" stroke="#c43c3c" stroke-width="1.6" fill="none"/>
<path d="M1550.2 417.72h65.8M1550.2 442.66h65.8M1550.2 443.91h65.8M1550.2 446.4h65.8" stroke="#bb2a34" stroke-width="1.6" fill="none"/>
<path d="M1550.2 394.03h65.8M1550.2 395.28h65.8M1550.2 448.9h65.8M1550.2 450.14h65.8M1550.2 451.39h65.8M1550.2 455.13h65.8" stroke="#b2182b" stroke-width="1.6" fill="none"/>
<path d="M1550.2 447.65h65.8" stroke="#9f1228" stroke-width="1.6" fill="none"/>
<path d="M1550.2 456.38h65.8" stroke="#8d0c25" stroke-width="1.6" fill="none"/>
<path d="M1616 57.16h64.5" stroke="#fbceb6" stroke-width="1.6" fill="none"/>
<path d="M1616 55.91h64.5M1616 59.65h64.5M1616 109.59h64.5" stroke="#f8c0a4" stroke-width="1.6" fill="none"/>
<path d="M1616 58.41h64.5M1616 62.15h64.5M1616 108.34h64.5" stroke="#f6b293" stroke-width="1.6" fill="none"/>
<path d="M1616 63.4h64.5M1616 149.53h64.5M1616 150.78h64.5M1616 223.18h64.5M1616 244.4h64.5M1616 245.65h64.5M1616 246.89h64.5M1616 249.39h64.5" stroke="#f4a582" stroke-width="1.6" fill="none"/>
<path d="M1616 60.9h64.5M1616 64.65h64.5M1616 107.09h64.5M1616 110.83h64.5M1616 145.78h64.5M1616 148.28h64.5M1616 154.52h64.5M1616 173.25h64.5M1616 221.93h64.5M1616 224.42h64.5M1616 231.91h64.5M1616 233.16h64.5M1616 234.41h64.5M1616 240.65h64.5M1616 248.14h64.5M1616 256.88h64.5" stroke="#ec9475" stroke-width="1.6" fill="none"/>
<path d="M1616 65.9h64.5M1616 67.14h64.5M1616 68.39h64.5M1616 75.88h64.5M1616 112.08h64.5M1616 127.06h64.5M1616 128.31h64.5M1616 142.04h64.5M1616 144.54h64.5M1616 147.03h64.5M1616 159.52h64.5M1616 160.76h64.5M1616 164.51h64.5M1616 168.25h64.5M1616 174.49h64.5M1616 215.69h64.5M1616 216.94h64.5M1616 220.68h64.5M1616 228.17h64.5M1616 229.42h64.5M1616 230.67h64.5M1616 235.66h64.5M1616 238.16h64.5M1616 239.4h64.5M1616 241.9h64.5M1616 243.15h64.5M1616 250.64h64.5M1616 251.89h64.5M1616 253.13h64.5M1616 254.38h64.5M1616 258.13h64.5" stroke="#e58268" stroke-width="1.6" fill="none"/>
<path d="M1616 48.42h64.5M1616 49.67h64.5M1616 54.66h64.5M1616 69.64h64.5M1616 70.89h64.5M1616 72.14h64.5M1616 103.34h64.5M1616 115.83h64.5M1616 117.07h64.5M1616 125.81h64.5M1616 134.55h64.5M1616 139.54h64.5M1616 140.79h64.5M1616 152.03h64.5M1616 153.27h64.5M1616 155.77h64.5M1616 158.27h64.5M1616 165.76h64.5M1616 169.5h64.5M1616 172h64.5M1616 184.48h64.5M1616 185.73h64.5M1616 186.98h64.5M1616 188.23h64.5M1616 190.72h64.5M1616 194.47h64.5M1616 195.71h64.5M1616 198.21h64.5M1616 199.46h64.5M1616 200.71h64.5M1616 201.96h64.5M1616 203.2h64.5M1616 209.45h64.5M1616 219.43h64.5M1616 225.67h64.5M1616 226.92h64.5M1616 236.91h64.5M1616 255.63h64.5M1616 259.38h64.5" stroke="#de715a" stroke-width="1.6" fill="none"/>
<path d="M1616 50.92h64.5M1616 52.17h64.5M1616 53.41h64.5M1616 73.39h64.5M1616 74.63h64.5M1616 77.13h64.5M1616 78.38h64.5M1616 84.62h64.5M1616 104.59h64.5M1616 118.32h64.5M1616 120.82h64.5M1616 123.32h64.5M1616 124.56h64.5M1616 129.56h64.5M1616 130.81h64.5M1616 132.05h64.5M1616 135.8h64.5M1616 143.29h64.5M1616 157.02h64.5M1616 163.26h64.5M1616 167h64.5M1616 170.75h64.5M1616 175.74h64.5M1616 176.99h64.5M1616 178.24h64.5M1616 179.49h64.5M1616 183.23h64.5M1616 191.97h64.5M1616 193.22h64.5M1616 196.96h64.5M1616 204.45h64.5M1616 208.2h64.5M1616 210.69h64.5M1616 211.94h64.5M1616 213.19h64.5M1616 218.18h64.5" stroke="#d6604d" stroke-width="1.6" fill="none"/>
<path d="M1616 47.17h64.5M1616 79.63h64.5M1616 85.87h64.5M1616 92.11h64.5M1616 93.36h64.5M1616 97.1h64.5M1616 98.35h64.5M1616 99.6h64.5M1616 100.85h64.5M1616 102.1h64.5M1616 105.84h64.5M1616 113.33h64.5M1616 114.58h64.5M1616 119.57h64.5M1616 122.07h64.5M1616 133.3h64.5M1616 137.05h64.5M1616 162.01h64.5M1616 180.74h64.5M1616 181.98h64.5M1616 189.47h64.5M1616 205.7h64.5M1616 206.95h64.5M1616 214.44h64.5" stroke="#cd4e45" stroke-width="1.6" fill="none"/>
<path d="M1616 45.92h64.5M1616 80.88h64.5M1616 82.12h64.5M1616 83.37h64.5M1616 87.12h64.5M1616 88.36h64.5M1616 89.61h64.5M1616 90.86h64.5M1616 94.61h64.5M1616 95.85h64.5M1616 138.3h64.5" stroke="#c43c3c" stroke-width="1.6" fill="none"/>
<path d="M1616 291.79h64.5M1616 312.99h64.5M1616 319.22h64.5M1616 325.46h64.5M1616 330.45h64.5M1616 331.69h64.5M1616 352.89h64.5M1616 370.34h64.5M1616 371.59h64.5M1616 377.83h64.5" stroke="#2a71b2" stroke-width="1.6" fill="none"/>
<path d="M1616 286.81h64.5M1616 290.55h64.5M1616 294.29h64.5M1616 300.52h64.5M1616 301.77h64.5M1616 308h64.5M1616 311.74h64.5M1616 314.24h64.5M1616 317.98h64.5M1616 320.47h64.5M1616 321.72h64.5M1616 324.21h64.5M1616 326.71h64.5M1616 334.19h64.5M1616 341.67h64.5M1616 342.91h64.5M1616 346.66h64.5M1616 354.14h64.5M1616 357.88h64.5M1616 359.12h64.5M1616 362.86h64.5M1616 365.36h64.5M1616 367.85h64.5M1616 369.1h64.5M1616 376.58h64.5M1616 379.07h64.5" stroke="#327cb8" stroke-width="1.6" fill="none"/>
<path d="M1616 288.05h64.5M1616 289.3h64.5M1616 295.53h64.5M1616 296.78h64.5M1616 299.28h64.5M1616 303.02h64.5M1616 306.76h64.5M1616 310.5h64.5M1616 322.97h64.5M1616 329.2h64.5M1616 335.43h64.5M1616 336.68h64.5M1616 337.93h64.5M1616 339.17h64.5M1616 344.16h64.5M1616 347.9h64.5M1616 350.4h64.5M1616 351.64h64.5M1616 355.38h64.5M1616 356.63h64.5M1616 360.37h64.5M1616 361.62h64.5M1616 364.11h64.5M1616 366.6h64.5M1616 372.84h64.5M1616 374.09h64.5M1616 375.33h64.5M1616 416.48h64.5M1616 427.7h64.5" stroke="#3a88bd" stroke-width="1.6" fill="none"/>
<path d="M1616 285.56h64.5M1616 293.04h64.5M1616 298.03h64.5M1616 304.26h64.5M1616 305.51h64.5M1616 309.25h64.5M1616 315.48h64.5M1616 316.73h64.5M1616 327.95h64.5M1616 332.94h64.5M1616 340.42h64.5M1616 345.41h64.5M1616 349.15h64.5M1616 400.27h64.5M1616 413.98h64.5M1616 426.45h64.5M1616 428.95h64.5" stroke="#4393c3" stroke-width="1.6" fill="none"/>
<path d="M1616 260.62h64.5M1616 261.87h64.5M1616 263.12h64.5M1616 266.86h64.5M1616 280.57h64.5M1616 283.07h64.5M1616 284.31h64.5M1616 380.32h64.5M1616 399.02h64.5M1616 415.23h64.5M1616 417.72h64.5M1616 420.22h64.5M1616 422.71h64.5M1616 425.21h64.5M1616 447.65h64.5M1616 450.14h64.5" stroke="#57a0ca" stroke-width="1.6" fill="none"/>
<path d="M1616 275.59h64.5M1616 278.08h64.5M1616 279.33h64.5M1616 281.82h64.5M1616 386.55h64.5M1616 391.54h64.5M1616 392.79h64.5M1616 397.78h64.5M1616 404.01h64.5M1616 405.26h64.5M1616 410.24h64.5M1616 411.49h64.5M1616 418.97h64.5M1616 423.96h64.5M1616 430.19h64.5M1616 431.44h64.5M1616 433.93h64.5M1616 435.18h64.5M1616 436.43h64.5M1616 440.17h64.5M1616 442.66h64.5M1616 448.9h64.5M1616 451.39h64.5" stroke="#6aacd0" stroke-width="1.6" fill="none"/>
<path d="M1616 265.61h64.5M1616 270.6h64.5M1616 271.84h64.5M1616 273.09h64.5M1616 274.34h64.5M1616 276.83h64.5M1616 381.57h64.5M1616 385.31h64.5M1616 387.8h64.5M1616 395.28h64.5M1616 396.53h64.5M1616 401.52h64.5M1616 402.76h64.5M1616 406.5h64.5M1616 407.75h64.5M1616 412.74h64.5M1616 421.47h64.5M1616 432.69h64.5M1616 437.67h64.5M1616 438.92h64.5M1616 441.41h64.5M1616 443.91h64.5M1616 445.16h64.5M1616 446.4h64.5M1616 452.64h64.5M1616 453.88h64.5M1616 455.13h64.5M1616 456.38h64.5" stroke="#7eb8d7" stroke-width="1.6" fill="none"/>
<path d="M1616 264.36h64.5M1616 268.1h64.5M1616 269.35h64.5M1616 384.06h64.5M1616 390.29h64.5M1616 394.03h64.5M1616 409h64.5" stroke="#92c5de" stroke-width="1.6" fill="none"/>
<path d="M1616 382.81h64.5" stroke="#a2cde2" stroke-width="1.6" fill="none"/>
<path d="M1616 389.05h64.5" stroke="#b1d5e7" stroke-width="1.6" fill="none"/>
<path d="M1680.5 104.59h66.3" stroke="#f8c0a4" stroke-width="1.6" fill="none"/>
<path d="M1680.5 90.86h66.3M1680.5 105.84h66.3M1680.5 107.09h66.3" stroke="#f6b293" stroke-width="1.6" fill="none"/>
<path d="M1680.5 92.11h66.3M1680.5 95.85h66.3M1680.5 102.1h66.3M1680.5 108.34h66.3" stroke="#f4a582" stroke-width="1.6" fill="none"/>
<path d="M1680.5 78.38h66.3M1680.5 79.63h66.3M1680.5 84.62h66.3M1680.5 87.12h66.3M1680.5 97.1h66.3M1680.5 98.35h66.3M1680.5 103.34h66.3" stroke="#ec9475" stroke-width="1.6" fill="none"/>
<path d="M1680.5 77.13h66.3M1680.5 85.87h66.3M1680.5 89.61h66.3M1680.5 99.6h66.3M1680.5 100.85h66.3M1680.5 113.33h66.3M1680.5 130.81h66.3M1680.5 132.05h66.3M1680.5 186.98h66.3" stroke="#e58268" stroke-width="1.6" fill="none"/>
<path d="M1680.5 47.17h66.3M1680.5 59.65h66.3M1680.5 60.9h66.3M1680.5 62.15h66.3M1680.5 75.88h66.3M1680.5 83.37h66.3M1680.5 88.36h66.3M1680.5 93.36h66.3M1680.5 94.61h66.3M1680.5 109.59h66.3M1680.5 112.08h66.3M1680.5 114.58h66.3M1680.5 123.32h66.3M1680.5 124.56h66.3M1680.5 127.06h66.3M1680.5 133.3h66.3M1680.5 145.78h66.3M1680.5 153.27h66.3M1680.5 169.5h66.3M1680.5 180.74h66.3M1680.5 203.2h66.3M1680.5 205.7h66.3M1680.5 228.17h66.3M1680.5 229.42h66.3M1680.5 230.67h66.3" stroke="#de715a" stroke-width="1.6" fill="none"/>
<path d="M1680.5 45.92h66.3M1680.5 48.42h66.3M1680.5 49.67h66.3M1680.5 57.16h66.3M1680.5 58.41h66.3M1680.5 67.14h66.3M1680.5 68.39h66.3M1680.5 70.89h66.3M1680.5 72.14h66.3M1680.5 73.39h66.3M1680.5 80.88h66.3M1680.5 82.12h66.3M1680.5 110.83h66.3M1680.5 115.83h66.3M1680.5 120.82h66.3M1680.5 125.81h66.3M1680.5 128.31h66.3M1680.5 129.56h66.3M1680.5 134.55h66.3M1680.5 137.05h66.3M1680.5 138.3h66.3M1680.5 142.04h66.3M1680.5 154.52h66.3M1680.5 157.02h66.3M1680.5 170.75h66.3M1680.5 174.49h66.3M1680.5 175.74h66.3M1680.5 178.24h66.3M1680.5 179.49h66.3M1680.5 181.98h66.3M1680.5 185.73h66.3M1680.5 188.23h66.3M1680.5 191.97h66.3M1680.5 193.22h66.3M1680.5 196.96h66.3M1680.5 198.21h66.3M1680.5 199.46h66.3M1680.5 204.45h66.3M1680.5 206.95h66.3M1680.5 215.69h66.3M1680.5 216.94h66.3M1680.5 218.18h66.3M1680.5 225.67h66.3M1680.5 226.92h66.3M1680.5 231.91h66.3M1680.5 233.16h66.3M1680.5 239.4h66.3M1680.5 240.65h66.3" stroke="#d6604d" stroke-width="1.6" fill="none"/>
<path d="M1680.5 52.17h66.3M1680.5 53.41h66.3M1680.5 63.4h66.3M1680.5 69.64h66.3M1680.5 117.07h66.3M1680.5 119.57h66.3M1680.5 122.07h66.3M1680.5 135.8h66.3M1680.5 139.54h66.3M1680.5 140.79h66.3M1680.5 143.29h66.3M1680.5 144.54h66.3M1680.5 147.03h66.3M1680.5 152.03h66.3M1680.5 158.27h66.3M1680.5 164.51h66.3M1680.5 165.76h66.3M1680.5 167h66.3M1680.5 176.99h66.3M1680.5 184.48h66.3M1680.5 190.72h66.3M1680.5 194.47h66.3M1680.5 208.2h66.3M1680.5 209.45h66.3M1680.5 213.19h66.3M1680.5 214.44h66.3M1680.5 219.43h66.3M1680.5 220.68h66.3M1680.5 234.41h66.3M1680.5 235.66h66.3M1680.5 238.16h66.3M1680.5 241.9h66.3M1680.5 243.15h66.3M1680.5 244.4h66.3" stroke="#cd4e45" stroke-width="1.6" fill="none"/>
<path d="M1680.5 50.92h66.3M1680.5 54.66h66.3M1680.5 55.91h66.3M1680.5 64.65h66.3M1680.5 65.9h66.3M1680.5 74.63h66.3M1680.5 118.32h66.3M1680.5 148.28h66.3M1680.5 149.53h66.3M1680.5 150.78h66.3M1680.5 155.77h66.3M1680.5 159.52h66.3M1680.5 160.76h66.3M1680.5 163.26h66.3M1680.5 168.25h66.3M1680.5 172h66.3M1680.5 173.25h66.3M1680.5 183.23h66.3M1680.5 189.47h66.3M1680.5 195.71h66.3M1680.5 200.71h66.3M1680.5 201.96h66.3M1680.5 210.69h66.3M1680.5 211.94h66.3M1680.5 223.18h66.3M1680.5 236.91h66.3M1680.5 245.65h66.3M1680.5 246.89h66.3M1680.5 248.14h66.3M1680.5 249.39h66.3M1680.5 250.64h66.3M1680.5 251.89h66.3M1680.5 253.13h66.3M1680.5 254.38h66.3" stroke="#c43c3c" stroke-width="1.6" fill="none"/>
<path d="M1680.5 162.01h66.3M1680.5 221.93h66.3M1680.5 224.42h66.3M1680.5 255.63h66.3M1680.5 256.88h66.3M1680.5 258.13h66.3" stroke="#bb2a34" stroke-width="1.6" fill="none"/>
<path d="M1680.5 259.38h66.3" stroke="#b2182b" stroke-width="1.6" fill="none"/>
<path d="M1680.5 266.86h66.3M1680.5 268.1h66.3M1680.5 391.54h66.3M1680.5 395.28h66.3" stroke="#2166ac" stroke-width="1.6" fill="none"/>
<path d="M1680.5 263.12h66.3M1680.5 264.36h66.3M1680.5 265.61h66.3M1680.5 278.08h66.3M1680.5 392.79h66.3" stroke="#2a71b2" stroke-width="1.6" fill="none"/>
<path d="M1680.5 269.35h66.3M1680.5 274.34h66.3M1680.5 275.59h66.3M1680.5 326.71h66.3M1680.5 327.95h66.3M1680.5 342.91h66.3M1680.5 384.06h66.3M1680.5 385.31h66.3M1680.5 394.03h66.3M1680.5 396.53h66.3M1680.5 397.78h66.3M1680.5 406.5h66.3M1680.5 410.24h66.3M1680.5 431.44h66.3" stroke="#327cb8" stroke-width="1.6" fill="none"/>
<path d="M1680.5 261.87h66.3M1680.5 270.6h66.3M1680.5 276.83h66.3M1680.5 284.31h66.3M1680.5 285.56h66.3M1680.5 286.81h66.3M1680.5 320.47h66.3M1680.5 325.46h66.3M1680.5 329.2h66.3M1680.5 349.15h66.3M1680.5 381.57h66.3M1680.5 386.55h66.3M1680.5 387.8h66.3M1680.5 390.29h66.3M1680.5 401.52h66.3M1680.5 412.74h66.3M1680.5 413.98h66.3M1680.5 415.23h66.3M1680.5 420.22h66.3M1680.5 421.47h66.3M1680.5 422.71h66.3M1680.5 423.96h66.3M1680.5 425.21h66.3M1680.5 426.45h66.3M1680.5 432.69h66.3M1680.5 440.17h66.3M1680.5 446.4h66.3" stroke="#3a88bd" stroke-width="1.6" fill="none"/>
<path d="M1680.5 260.62h66.3M1680.5 271.84h66.3M1680.5 273.09h66.3M1680.5 279.33h66.3M1680.5 283.07h66.3M1680.5 288.05h66.3M1680.5 300.52h66.3M1680.5 309.25h66.3M1680.5 310.5h66.3M1680.5 319.22h66.3M1680.5 322.97h66.3M1680.5 324.21h66.3M1680.5 330.45h66.3M1680.5 336.68h66.3M1680.5 337.93h66.3M1680.5 339.17h66.3M1680.5 340.42h66.3M1680.5 341.67h66.3M1680.5 344.16h66.3M1680.5 345.41h66.3M1680.5 350.4h66.3M1680.5 359.12h66.3M1680.5 367.85h66.3M1680.5 372.84h66.3M1680.5 380.32h66.3M1680.5 382.81h66.3M1680.5 389.05h66.3M1680.5 399.02h66.3M1680.5 400.27h66.3M1680.5 402.76h66.3M1680.5 404.01h66.3M1680.5 407.75h66.3M1680.5 409h66.3M1680.5 411.49h66.3M1680.5 418.97h66.3M1680.5 427.7h66.3M1680.5 430.19h66.3M1680.5 433.93h66.3M1680.5 435.18h66.3M1680.5 436.43h66.3M1680.5 438.92h66.3M1680.5 442.66h66.3M1680.5 445.16h66.3M1680.5 447.65h66.3" stroke="#4393c3" stroke-width="1.6" fill="none"/>
<path d="M1680.5 281.82h66.3M1680.5 298.03h66.3M1680.5 299.28h66.3M1680.5 301.77h66.3M1680.5 306.76h66.3M1680.5 312.99h66.3M1680.5 321.72h66.3M1680.5 331.69h66.3M1680.5 334.19h66.3M1680.5 347.9h66.3M1680.5 351.64h66.3M1680.5 352.89h66.3M1680.5 357.88h66.3M1680.5 365.36h66.3M1680.5 366.6h66.3M1680.5 369.1h66.3M1680.5 370.34h66.3M1680.5 371.59h66.3M1680.5 377.83h66.3M1680.5 379.07h66.3M1680.5 405.26h66.3M1680.5 416.48h66.3M1680.5 417.72h66.3M1680.5 437.67h66.3M1680.5 441.41h66.3M1680.5 443.91h66.3" stroke="#57a0ca" stroke-width="1.6" fill="none"/>
<path d="M1680.5 280.57h66.3M1680.5 289.3h66.3M1680.5 293.04h66.3M1680.5 294.29h66.3M1680.5 296.78h66.3M1680.5 305.51h66.3M1680.5 308h66.3M1680.5 311.74h66.3M1680.5 314.24h66.3M1680.5 315.48h66.3M1680.5 316.73h66.3M1680.5 317.98h66.3M1680.5 335.43h66.3M1680.5 346.66h66.3M1680.5 354.14h66.3M1680.5 355.38h66.3M1680.5 356.63h66.3M1680.5 360.37h66.3M1680.5 374.09h66.3M1680.5 375.33h66.3M1680.5 376.58h66.3M1680.5 428.95h66.3M1680.5 448.9h66.3" stroke="#6aacd0" stroke-width="1.6" fill="none"/>
<path d="M1680.5 291.79h66.3M1680.5 295.53h66.3M1680.5 304.26h66.3M1680.5 332.94h66.3M1680.5 361.62h66.3M1680.5 362.86h66.3M1680.5 364.11h66.3M1680.5 450.14h66.3M1680.5 451.39h66.3" stroke="#7eb8d7" stroke-width="1.6" fill="none"/>
<path d="M1680.5 290.55h66.3M1680.5 303.02h66.3M1680.5 452.64h66.3M1680.5 453.88h66.3" stroke="#92c5de" stroke-width="1.6" fill="none"/>
<path d="M1680.5 455.13h66.3M1680.5 456.38h66.3" stroke="#a2cde2" stroke-width="1.6" fill="none"/>
<rect x="1485" y="45.3" width="261.8" height="411.7" fill="none" stroke="#000" stroke-width="2"/>
<line x1="1550.2" y1="45.3" x2="1550.2" y2="457" stroke="#000" stroke-width="1.4" />
<line x1="1616" y1="45.3" x2="1616" y2="457" stroke="#000" stroke-width="2" />
<line x1="1680.5" y1="45.3" x2="1680.5" y2="457" stroke="#000" stroke-width="1.4" />
<line x1="1485" y1="260" x2="1746.8" y2="260" stroke="#000" stroke-width="2" />
<line x1="1485" y1="290.3" x2="1550.2" y2="290.3" stroke="#222" stroke-width="0.8" />
<line x1="1550.2" y1="381.3" x2="1616" y2="381.3" stroke="#222" stroke-width="0.8" />
<text x="1786.6" y="52.6" font-size="27.85" font-style="italic">CYP4F11</text>
<text x="1786.6" y="76.8" font-size="27.85" font-style="italic">AXL</text>
<text x="1786.6" y="99.7" font-size="27.85" font-style="italic">EDIL3</text>
<text x="1786.6" y="138.3" font-size="27.85" font-style="italic">CDA</text>
<text x="1786.6" y="271.6" font-size="27.85" font-style="italic">GLB1L2</text>
<text x="1786.6" y="296" font-size="27.85" font-style="italic">DUSP6</text>
<line x1="1746.8" y1="47.2" x2="1776.5" y2="47.2" stroke="#000" stroke-width="1.1" />
<line x1="1746.8" y1="51.2" x2="1776.5" y2="51.2" stroke="#000" stroke-width="1.1" />
<line x1="1746.8" y1="55.2" x2="1776.5" y2="55.2" stroke="#000" stroke-width="1.1" />
<line x1="1746.8" y1="126.8" x2="1776.5" y2="126.8" stroke="#000" stroke-width="1.1" />
<line x1="1746.8" y1="263.6" x2="1776.5" y2="263.6" stroke="#000" stroke-width="1.1" />
<line x1="1746.8" y1="276.7" x2="1776.5" y2="276.7" stroke="#000" stroke-width="1.1" />
<text font-size="27.85" text-anchor="middle" transform="translate(1426 152.5) rotate(-90)">Up</text>
<text font-size="27.85" text-anchor="middle" transform="translate(1460.3 152.5) rotate(-90)">(1,403 genes)</text>
<text font-size="27.85" text-anchor="middle" transform="translate(1426 367.5) rotate(-90)">Down</text>
<text font-size="27.85" text-anchor="middle" transform="translate(1460.3 367.5) rotate(-90)">(1,535 genes)</text>
<rect x="1788.6" y="372.2" width="27" height="81.2" fill="url(#cbc)" stroke="#000" stroke-width="1.9"/>
<text x="1832.6" y="383.6" font-size="27.85" >2</text>
<text x="1836" y="417.3" font-size="27.85" >Norm. exp.</text>
<text x="1827.5" y="449.6" font-size="27.85" >-2</text>
<text x="1610" y="492.5" font-size="27.85" text-anchor="middle">Log<tspan font-size="18" dy="5">2</tspan><tspan dy="-5">(LR/H3122)</tspan></text>
<text x="1610" y="525.3" font-size="27.85" text-anchor="middle">|Log<tspan font-size="18" dy="5">2</tspan><tspan dy="-5">FC| &gt; 1, FDR &lt; 0.05</tspan></text>
<text x="0" y="593" font-size="43.5" font-weight="bold">d</text>
<rect x="216.21" y="763.37" width="33.14" height="335.83" fill="#fff" stroke="#000" stroke-width="1.8"/>
<rect x="257.63" y="959.83" width="32.72" height="139.37" fill="#000" stroke="#000" stroke-width="1"/>
<path d="M232.78 757.66V769.08M227.28 757.66h11M227.28 769.08h11" fill="none" stroke="#505050" stroke-width="1.5"/>
<path d="M273.99 957.81V961.84M268.49 957.81h11M268.49 961.84h11" fill="none" stroke="#505050" stroke-width="1.5"/>
<text x="274.49" y="965.6" font-size="38.5" text-anchor="middle">**</text>
<text x="252.7" y="1140.6" font-size="27.85" text-anchor="middle">DNMT1</text>
<rect x="359.52" y="763.37" width="33.14" height="335.83" fill="#fff" stroke="#000" stroke-width="1.8"/>
<rect x="400.12" y="1003.15" width="33.14" height="96.05" fill="#000" stroke="#000" stroke-width="1"/>
<path d="M376.09 759.67V767.06M370.59 759.67h11M370.59 767.06h11" fill="none" stroke="#505050" stroke-width="1.5"/>
<path d="M416.68 998.11V1008.19M411.18 998.11h11M411.18 1008.19h11" fill="none" stroke="#505050" stroke-width="1.5"/>
<text x="417.18" y="1002.3" font-size="38.5" text-anchor="middle">***</text>
<text x="396.8" y="1140.6" font-size="27.85" text-anchor="middle">DNMT3A</text>
<rect x="502.84" y="763.37" width="32.72" height="335.83" fill="#fff" stroke="#000" stroke-width="1.8"/>
<rect x="543.43" y="1077.04" width="33.14" height="22.16" fill="#000" stroke="#000" stroke-width="1"/>
<path d="M519.2 754.63V772.1M513.7 754.63h11M513.7 772.1h11" fill="none" stroke="#505050" stroke-width="1.5"/>
<path d="M560 1076.36V1077.71M554.5 1076.36h11M554.5 1077.71h11" fill="none" stroke="#505050" stroke-width="1.5"/>
<text x="560.5" y="1080.6" font-size="38.5" text-anchor="middle">**</text>
<text x="539.7" y="1140.6" font-size="27.85" text-anchor="middle">DNMT3B</text>
<path d="M182.3 696.2V1099.2H611.4" fill="none" stroke="#000" stroke-width="1.9"/>
<line x1="173.8" y1="1099.2" x2="182.3" y2="1099.2" stroke="#000" stroke-width="1.9" />
<text x="157.6" y="1108.4" font-size="27.85" text-anchor="end">0.0</text>
<line x1="173.8" y1="1032.03" x2="182.3" y2="1032.03" stroke="#000" stroke-width="1.9" />
<text x="157.6" y="1041.23" font-size="27.85" text-anchor="end">0.2</text>
<line x1="173.8" y1="964.87" x2="182.3" y2="964.87" stroke="#000" stroke-width="1.9" />
<text x="157.6" y="974.07" font-size="27.85" text-anchor="end">0.4</text>
<line x1="173.8" y1="897.7" x2="182.3" y2="897.7" stroke="#000" stroke-width="1.9" />
<text x="157.6" y="906.9" font-size="27.85" text-anchor="end">0.6</text>
<line x1="173.8" y1="830.53" x2="182.3" y2="830.53" stroke="#000" stroke-width="1.9" />
<text x="157.6" y="839.73" font-size="27.85" text-anchor="end">0.8</text>
<line x1="173.8" y1="763.37" x2="182.3" y2="763.37" stroke="#000" stroke-width="1.9" />
<text x="157.6" y="772.57" font-size="27.85" text-anchor="end">1.0</text>
<line x1="173.8" y1="696.2" x2="182.3" y2="696.2" stroke="#000" stroke-width="1.9" />
<text x="157.6" y="705.4" font-size="27.85" text-anchor="end">1.2</text>
<line x1="182.3" y1="1099.2" x2="182.3" y2="1107.7" stroke="#000" stroke-width="1.9" />
<line x1="325.33" y1="1099.2" x2="325.33" y2="1107.7" stroke="#000" stroke-width="1.9" />
<line x1="468.37" y1="1099.2" x2="468.37" y2="1107.7" stroke="#000" stroke-width="1.9" />
<line x1="611.4" y1="1099.2" x2="611.4" y2="1107.7" stroke="#000" stroke-width="1.9" />
<text font-size="27.85" text-anchor="middle" transform="translate(103.6 897.7) rotate(-90)">Relative mRNA expression</text>
<rect x="258.7" y="634.1" width="13.8" height="13.6" fill="#fff" stroke="#000" stroke-width="1.8"/>
<text x="279.6" y="649.7" font-size="27.85" >H3122</text>
<rect x="381.2" y="634.1" width="13.8" height="13.6" fill="#000" stroke="#000" stroke-width="1.8"/>
<text x="401" y="649.7" font-size="27.85" >LR</text>
<rect x="848.99" y="765.63" width="33.55" height="333.17" fill="#fff" stroke="#000" stroke-width="1.8"/>
<rect x="891.24" y="992.52" width="33.55" height="106.28" fill="#000" stroke="#000" stroke-width="1"/>
<path d="M865.77 751.97V779.29M860.27 751.97h11M860.27 779.29h11" fill="none" stroke="#505050" stroke-width="1.5"/>
<path d="M908.02 982.86V1002.18M902.52 982.86h11M902.52 1002.18h11" fill="none" stroke="#505050" stroke-width="1.5"/>
<text x="908.52" y="991.5" font-size="38.5" text-anchor="middle">**</text>
<text x="883" y="1140.6" font-size="27.85" text-anchor="middle">TET1</text>
<rect x="996.45" y="765.63" width="33.14" height="333.17" fill="#fff" stroke="#000" stroke-width="1.8"/>
<rect x="1037.87" y="998.85" width="33.55" height="99.95" fill="#000" stroke="#000" stroke-width="1"/>
<path d="M1013.02 759.97V771.3M1007.52 759.97h11M1007.52 771.3h11" fill="none" stroke="#505050" stroke-width="1.5"/>
<path d="M1054.64 996.18V1001.52M1049.14 996.18h11M1049.14 1001.52h11" fill="none" stroke="#505050" stroke-width="1.5"/>
<text x="1055.14" y="999.8" font-size="38.5" text-anchor="middle">***</text>
<text x="1033.5" y="1140.6" font-size="27.85" text-anchor="middle">TET2</text>
<rect x="1143.9" y="765.63" width="33.14" height="333.17" fill="#fff" stroke="#000" stroke-width="1.8"/>
<rect x="1185.32" y="944.54" width="33.55" height="154.26" fill="#000" stroke="#000" stroke-width="1"/>
<path d="M1160.47 755.31V775.96M1154.97 755.31h11M1154.97 775.96h11" fill="none" stroke="#505050" stroke-width="1.5"/>
<path d="M1202.1 941.21V947.88M1196.6 941.21h11M1196.6 947.88h11" fill="none" stroke="#505050" stroke-width="1.5"/>
<text x="1202.6" y="943.1" font-size="38.5" text-anchor="middle">**</text>
<text x="1181.5" y="1140.6" font-size="27.85" text-anchor="middle">TET3</text>
<path d="M813.4 699V1098.8H1254" fill="none" stroke="#000" stroke-width="1.9"/>
<line x1="804.9" y1="1098.8" x2="813.4" y2="1098.8" stroke="#000" stroke-width="1.9" />
<text x="789" y="1108" font-size="27.85" text-anchor="end">0.0</text>
<line x1="804.9" y1="1032.17" x2="813.4" y2="1032.17" stroke="#000" stroke-width="1.9" />
<text x="789" y="1041.37" font-size="27.85" text-anchor="end">0.2</text>
<line x1="804.9" y1="965.53" x2="813.4" y2="965.53" stroke="#000" stroke-width="1.9" />
<text x="789" y="974.73" font-size="27.85" text-anchor="end">0.4</text>
<line x1="804.9" y1="898.9" x2="813.4" y2="898.9" stroke="#000" stroke-width="1.9" />
<text x="789" y="908.1" font-size="27.85" text-anchor="end">0.6</text>
<line x1="804.9" y1="832.27" x2="813.4" y2="832.27" stroke="#000" stroke-width="1.9" />
<text x="789" y="841.47" font-size="27.85" text-anchor="end">0.8</text>
<line x1="804.9" y1="765.63" x2="813.4" y2="765.63" stroke="#000" stroke-width="1.9" />
<text x="789" y="774.83" font-size="27.85" text-anchor="end">1.0</text>
<line x1="804.9" y1="699" x2="813.4" y2="699" stroke="#000" stroke-width="1.9" />
<text x="789" y="708.2" font-size="27.85" text-anchor="end">1.2</text>
<line x1="813.4" y1="1098.8" x2="813.4" y2="1107.3" stroke="#000" stroke-width="1.9" />
<line x1="960.27" y1="1098.8" x2="960.27" y2="1107.3" stroke="#000" stroke-width="1.9" />
<line x1="1107.13" y1="1098.8" x2="1107.13" y2="1107.3" stroke="#000" stroke-width="1.9" />
<line x1="1254" y1="1098.8" x2="1254" y2="1107.3" stroke="#000" stroke-width="1.9" />
<text font-size="27.85" text-anchor="middle" transform="translate(734.7 898.9) rotate(-90)">Relative mRNA expression</text>
<rect x="896.3" y="637.5" width="13.8" height="13.6" fill="#fff" stroke="#000" stroke-width="1.8"/>
<text x="916" y="653.1" font-size="27.85" >H3122</text>
<rect x="1019.5" y="637.5" width="13.8" height="13.6" fill="#000" stroke="#000" stroke-width="1.8"/>
<text x="1038.7" y="653.1" font-size="27.85" >LR</text>
<text x="1398" y="591" font-size="43.5" font-weight="bold">e</text>
<text x="1553" y="662.4" font-size="27.85" text-anchor="middle">H3122</text>
<text x="1685" y="662.4" font-size="27.85" text-anchor="middle">LR</text>
<line x1="1492" y1="677.3" x2="1611.3" y2="677.3" stroke="#000" stroke-width="2.6" />
<line x1="1621.5" y1="677.3" x2="1740.5" y2="677.3" stroke="#000" stroke-width="2.6" />
<path d="M1489 903.31h65.2M1489 910.22h65.2" stroke="#497ab7" stroke-width="1.5" fill="none"/>
<path d="M1489 864.18h65.2M1489 887.2h65.2M1489 892.95h65.2M1489 912.52h65.2" stroke="#4e7fba" stroke-width="1.5" fill="none"/>
<path d="M1489 856.12h65.2M1489 882.59h65.2M1489 895.26h65.2M1489 898.71h65.2M1489 901.01h65.2M1489 907.92h65.2M1489 911.37h65.2M1489 915.97h65.2M1489 917.12h65.2" stroke="#5283bd" stroke-width="1.5" fill="none"/>
<path d="M1489 850.37h65.2M1489 851.52h65.2M1489 859.58h65.2M1489 876.84h65.2M1489 879.14h65.2M1489 890.65h65.2M1489 894.1h65.2M1489 904.46h65.2M1489 914.82h65.2" stroke="#5688c0" stroke-width="1.5" fill="none"/>
<path d="M1489 857.27h65.2M1489 888.35h65.2M1489 899.86h65.2M1489 905.61h65.2M1489 906.77h65.2M1489 909.07h65.2" stroke="#5c8ec4" stroke-width="1.5" fill="none"/>
<path d="M1489 853.82h65.2M1489 866.48h65.2M1489 869.93h65.2M1489 872.24h65.2M1489 881.44h65.2M1489 884.9h65.2M1489 886.05h65.2M1489 902.16h65.2M1489 913.67h65.2" stroke="#6798c9" stroke-width="1.5" fill="none"/>
<path d="M1489 826.2h65.2M1489 865.33h65.2M1489 867.63h65.2M1489 874.54h65.2M1489 891.8h65.2M1489 897.56h65.2" stroke="#71a2cd" stroke-width="1.5" fill="none"/>
<path d="M1489 868.78h65.2M1489 871.08h65.2M1489 877.99h65.2M1489 883.75h65.2M1489 889.5h65.2M1489 896.41h65.2" stroke="#7cabd2" stroke-width="1.5" fill="none"/>
<path d="M1489 831.95h65.2M1489 846.91h65.2M1489 848.07h65.2M1489 875.69h65.2" stroke="#86b5d6" stroke-width="1.5" fill="none"/>
<path d="M1489 802.03h65.2M1489 820.44h65.2M1489 852.67h65.2M1489 858.42h65.2M1489 863.03h65.2M1489 880.29h65.2" stroke="#91bfdb" stroke-width="1.5" fill="none"/>
<path d="M1489 819.29h65.2M1489 822.74h65.2M1489 833.1h65.2M1489 849.22h65.2M1489 854.97h65.2M1489 861.88h65.2" stroke="#a0c9e1" stroke-width="1.5" fill="none"/>
<path d="M1489 810.08h65.2M1489 823.89h65.2M1489 828.5h65.2" stroke="#afd3e6" stroke-width="1.5" fill="none"/>
<path d="M1489 709.95h65.2M1489 775.55h65.2M1489 791.67h65.2M1489 811.23h65.2M1489 814.69h65.2M1489 816.99h65.2M1489 830.8h65.2M1489 835.4h65.2M1489 842.31h65.2M1489 844.61h65.2M1489 845.76h65.2M1489 873.39h65.2" stroke="#bfddec" stroke-width="1.5" fill="none"/>
<path d="M1489 783.61h65.2M1489 813.54h65.2M1489 838.86h65.2M1489 840.01h65.2M1489 860.73h65.2" stroke="#cee7f1" stroke-width="1.5" fill="none"/>
<path d="M1489 764.04h65.2M1489 769.8h65.2M1489 774.4h65.2M1489 800.87h65.2M1489 812.38h65.2M1489 834.25h65.2M1489 836.56h65.2M1489 837.71h65.2M1489 843.46h65.2" stroke="#ddf1f7" stroke-width="1.5" fill="none"/>
<path d="M1489 728.36h65.2M1489 782.46h65.2M1489 784.76h65.2M1489 804.33h65.2M1489 806.63h65.2M1489 807.78h65.2M1489 815.84h65.2M1489 818.14h65.2M1489 827.35h65.2" stroke="#e5f5ee" stroke-width="1.5" fill="none"/>
<path d="M1489 753.68h65.2M1489 757.14h65.2M1489 758.29h65.2M1489 765.19h65.2M1489 781.31h65.2M1489 808.93h65.2" stroke="#ecf8e3" stroke-width="1.5" fill="none"/>
<path d="M1489 688.08h65.2M1489 736.42h65.2M1489 738.72h65.2M1489 744.48h65.2M1489 746.78h65.2M1489 773.25h65.2M1489 789.36h65.2M1489 792.82h65.2M1489 799.72h65.2M1489 803.18h65.2M1489 821.59h65.2M1489 825.05h65.2M1489 841.16h65.2" stroke="#f2fad7" stroke-width="1.5" fill="none"/>
<path d="M1489 703.04h65.2M1489 711.1h65.2M1489 719.15h65.2M1489 732.97h65.2M1489 754.83h65.2M1489 759.44h65.2M1489 776.7h65.2M1489 779.01h65.2M1489 795.12h65.2M1489 797.42h65.2" stroke="#f9fccb" stroke-width="1.5" fill="none"/>
<path d="M1489 721.46h65.2M1489 745.63h65.2M1489 766.34h65.2M1489 790.52h65.2M1489 793.97h65.2M1489 796.27h65.2" stroke="#ffffbf" stroke-width="1.5" fill="none"/>
<path d="M1489 705.34h65.2M1489 706.49h65.2M1489 735.27h65.2M1489 743.33h65.2M1489 747.93h65.2M1489 755.99h65.2M1489 787.06h65.2M1489 798.57h65.2" stroke="#fff9b5" stroke-width="1.5" fill="none"/>
<path d="M1489 686.93h65.2M1489 698.44h65.2M1489 718h65.2M1489 729.51h65.2M1489 730.66h65.2M1489 742.17h65.2M1489 749.08h65.2M1489 750.23h65.2M1489 770.95h65.2M1489 772.1h65.2M1489 777.85h65.2M1489 780.16h65.2M1489 805.48h65.2M1489 829.65h65.2" stroke="#fff2ab" stroke-width="1.5" fill="none"/>
<path d="M1489 685.78h65.2M1489 690.38h65.2M1489 701.89h65.2M1489 715.7h65.2M1489 737.57h65.2M1489 741.02h65.2M1489 751.38h65.2M1489 760.59h65.2M1489 767.5h65.2M1489 785.91h65.2" stroke="#feeca2" stroke-width="1.5" fill="none"/>
<path d="M1489 691.53h65.2M1489 699.59h65.2M1489 724.91h65.2M1489 734.12h65.2M1489 762.89h65.2M1489 768.65h65.2" stroke="#fee598" stroke-width="1.5" fill="none"/>
<path d="M1489 692.68h65.2M1489 694.98h65.2M1489 700.74h65.2M1489 707.64h65.2M1489 713.4h65.2M1489 722.61h65.2M1489 731.82h65.2M1489 788.21h65.2" stroke="#fedd8e" stroke-width="1.5" fill="none"/>
<path d="M1489 689.23h65.2M1489 704.19h65.2M1489 708.8h65.2M1489 723.76h65.2M1489 726.06h65.2M1489 727.21h65.2M1489 752.53h65.2" stroke="#fecd83" stroke-width="1.5" fill="none"/>
<path d="M1489 693.83h65.2M1489 739.87h65.2" stroke="#fdbd79" stroke-width="1.5" fill="none"/>
<path d="M1489 696.13h65.2M1489 716.85h65.2M1489 720.31h65.2" stroke="#fdad6e" stroke-width="1.5" fill="none"/>
<path d="M1489 712.25h65.2" stroke="#fc9d64" stroke-width="1.5" fill="none"/>
<path d="M1489 697.29h65.2" stroke="#fc8d59" stroke-width="1.5" fill="none"/>
<path d="M1489 714.55h65.2M1489 761.74h65.2" stroke="#f98454" stroke-width="1.5" fill="none"/>
<path d="M1554.2 903.31h67" stroke="#4575b4" stroke-width="1.5" fill="none"/>
<path d="M1554.2 907.92h67" stroke="#497ab7" stroke-width="1.5" fill="none"/>
<path d="M1554.2 856.12h67M1554.2 864.18h67M1554.2 892.95h67M1554.2 915.97h67" stroke="#4e7fba" stroke-width="1.5" fill="none"/>
<path d="M1554.2 887.2h67M1554.2 895.26h67M1554.2 898.71h67M1554.2 899.86h67M1554.2 910.22h67M1554.2 911.37h67M1554.2 912.52h67M1554.2 917.12h67" stroke="#5283bd" stroke-width="1.5" fill="none"/>
<path d="M1554.2 851.52h67M1554.2 857.27h67M1554.2 869.93h67M1554.2 879.14h67M1554.2 881.44h67M1554.2 888.35h67M1554.2 894.1h67M1554.2 901.01h67M1554.2 904.46h67" stroke="#5688c0" stroke-width="1.5" fill="none"/>
<path d="M1554.2 850.37h67M1554.2 859.58h67M1554.2 865.33h67M1554.2 866.48h67M1554.2 876.84h67M1554.2 882.59h67M1554.2 890.65h67M1554.2 897.56h67M1554.2 902.16h67M1554.2 906.77h67M1554.2 914.82h67" stroke="#5c8ec4" stroke-width="1.5" fill="none"/>
<path d="M1554.2 826.2h67M1554.2 831.95h67M1554.2 872.24h67M1554.2 886.05h67M1554.2 889.5h67M1554.2 896.41h67M1554.2 905.61h67M1554.2 909.07h67" stroke="#6798c9" stroke-width="1.5" fill="none"/>
<path d="M1554.2 874.54h67M1554.2 883.75h67M1554.2 884.9h67" stroke="#71a2cd" stroke-width="1.5" fill="none"/>
<path d="M1554.2 846.91h67M1554.2 848.07h67M1554.2 853.82h67M1554.2 867.63h67M1554.2 868.78h67M1554.2 875.69h67M1554.2 877.99h67M1554.2 891.8h67M1554.2 913.67h67" stroke="#7cabd2" stroke-width="1.5" fill="none"/>
<path d="M1554.2 852.67h67M1554.2 871.08h67M1554.2 880.29h67" stroke="#86b5d6" stroke-width="1.5" fill="none"/>
<path d="M1554.2 802.03h67M1554.2 819.29h67M1554.2 820.44h67M1554.2 849.22h67M1554.2 863.03h67" stroke="#91bfdb" stroke-width="1.5" fill="none"/>
<path d="M1554.2 775.55h67M1554.2 822.74h67M1554.2 840.01h67M1554.2 858.42h67M1554.2 861.88h67" stroke="#a0c9e1" stroke-width="1.5" fill="none"/>
<path d="M1554.2 811.23h67M1554.2 833.1h67M1554.2 854.97h67" stroke="#afd3e6" stroke-width="1.5" fill="none"/>
<path d="M1554.2 709.95h67M1554.2 791.67h67M1554.2 814.69h67M1554.2 816.99h67M1554.2 823.89h67M1554.2 830.8h67M1554.2 873.39h67" stroke="#bfddec" stroke-width="1.5" fill="none"/>
<path d="M1554.2 774.4h67M1554.2 783.61h67M1554.2 804.33h67M1554.2 810.08h67M1554.2 812.38h67M1554.2 827.35h67M1554.2 828.5h67M1554.2 835.4h67M1554.2 837.71h67M1554.2 838.86h67M1554.2 842.31h67M1554.2 845.76h67M1554.2 860.73h67" stroke="#cee7f1" stroke-width="1.5" fill="none"/>
<path d="M1554.2 781.31h67M1554.2 784.76h67M1554.2 800.87h67M1554.2 807.78h67M1554.2 813.54h67M1554.2 834.25h67M1554.2 843.46h67M1554.2 844.61h67" stroke="#ddf1f7" stroke-width="1.5" fill="none"/>
<path d="M1554.2 757.14h67M1554.2 764.04h67M1554.2 765.19h67M1554.2 769.8h67M1554.2 782.46h67M1554.2 797.42h67M1554.2 815.84h67M1554.2 836.56h67" stroke="#e5f5ee" stroke-width="1.5" fill="none"/>
<path d="M1554.2 736.42h67M1554.2 746.78h67M1554.2 753.68h67M1554.2 808.93h67M1554.2 818.14h67M1554.2 821.59h67" stroke="#ecf8e3" stroke-width="1.5" fill="none"/>
<path d="M1554.2 688.08h67M1554.2 711.1h67M1554.2 719.15h67M1554.2 728.36h67M1554.2 738.72h67M1554.2 744.48h67M1554.2 754.83h67M1554.2 758.29h67M1554.2 766.34h67M1554.2 773.25h67M1554.2 806.63h67M1554.2 825.05h67M1554.2 841.16h67" stroke="#f2fad7" stroke-width="1.5" fill="none"/>
<path d="M1554.2 703.04h67M1554.2 776.7h67M1554.2 779.01h67M1554.2 795.12h67M1554.2 799.72h67M1554.2 803.18h67" stroke="#f9fccb" stroke-width="1.5" fill="none"/>
<path d="M1554.2 718h67M1554.2 732.97h67M1554.2 743.33h67M1554.2 759.44h67M1554.2 777.85h67M1554.2 789.36h67M1554.2 792.82h67" stroke="#ffffbf" stroke-width="1.5" fill="none"/>
<path d="M1554.2 686.93h67M1554.2 705.34h67M1554.2 721.46h67M1554.2 745.63h67M1554.2 750.23h67M1554.2 770.95h67M1554.2 780.16h67M1554.2 785.91h67M1554.2 787.06h67M1554.2 790.52h67M1554.2 796.27h67" stroke="#fff9b5" stroke-width="1.5" fill="none"/>
<path d="M1554.2 706.49h67M1554.2 730.66h67M1554.2 735.27h67M1554.2 737.57h67M1554.2 741.02h67M1554.2 742.17h67M1554.2 747.93h67M1554.2 749.08h67M1554.2 767.5h67M1554.2 772.1h67M1554.2 793.97h67M1554.2 798.57h67M1554.2 829.65h67" stroke="#fff2ab" stroke-width="1.5" fill="none"/>
<path d="M1554.2 692.68h67M1554.2 698.44h67M1554.2 701.89h67M1554.2 729.51h67M1554.2 734.12h67M1554.2 755.99h67M1554.2 805.48h67" stroke="#feeca2" stroke-width="1.5" fill="none"/>
<path d="M1554.2 690.38h67M1554.2 700.74h67M1554.2 724.91h67M1554.2 751.38h67M1554.2 760.59h67M1554.2 788.21h67" stroke="#fee598" stroke-width="1.5" fill="none"/>
<path d="M1554.2 685.78h67M1554.2 691.53h67M1554.2 694.98h67M1554.2 699.59h67M1554.2 713.4h67M1554.2 715.7h67M1554.2 722.61h67" stroke="#fedd8e" stroke-width="1.5" fill="none"/>
<path d="M1554.2 689.23h67M1554.2 716.85h67M1554.2 723.76h67M1554.2 727.21h67M1554.2 752.53h67M1554.2 762.89h67M1554.2 768.65h67" stroke="#fecd83" stroke-width="1.5" fill="none"/>
<path d="M1554.2 707.64h67M1554.2 708.8h67M1554.2 720.31h67M1554.2 726.06h67M1554.2 731.82h67" stroke="#fdbd79" stroke-width="1.5" fill="none"/>
<path d="M1554.2 693.83h67M1554.2 696.13h67M1554.2 697.29h67M1554.2 704.19h67M1554.2 739.87h67" stroke="#fdad6e" stroke-width="1.5" fill="none"/>
<path d="M1554.2 712.25h67M1554.2 761.74h67" stroke="#fc8d59" stroke-width="1.5" fill="none"/>
<path d="M1554.2 714.55h67" stroke="#f98454" stroke-width="1.5" fill="none"/>
<path d="M1621.2 906.77h64.1M1621.2 917.12h64.1" stroke="#bfddec" stroke-width="1.5" fill="none"/>
<path d="M1621.2 892.95h64.1M1621.2 910.22h64.1" stroke="#cee7f1" stroke-width="1.5" fill="none"/>
<path d="M1621.2 899.86h64.1M1621.2 915.97h64.1" stroke="#ddf1f7" stroke-width="1.5" fill="none"/>
<path d="M1621.2 883.75h64.1M1621.2 884.9h64.1M1621.2 890.65h64.1M1621.2 894.1h64.1M1621.2 896.41h64.1M1621.2 897.56h64.1M1621.2 901.01h64.1M1621.2 905.61h64.1M1621.2 909.07h64.1M1621.2 914.82h64.1" stroke="#e5f5ee" stroke-width="1.5" fill="none"/>
<path d="M1621.2 888.35h64.1M1621.2 889.5h64.1M1621.2 891.8h64.1M1621.2 904.46h64.1M1621.2 907.92h64.1M1621.2 913.67h64.1" stroke="#ecf8e3" stroke-width="1.5" fill="none"/>
<path d="M1621.2 879.14h64.1M1621.2 887.2h64.1M1621.2 895.26h64.1M1621.2 902.16h64.1M1621.2 903.31h64.1M1621.2 911.37h64.1M1621.2 912.52h64.1" stroke="#f2fad7" stroke-width="1.5" fill="none"/>
<path d="M1621.2 865.33h64.1M1621.2 867.63h64.1M1621.2 869.93h64.1M1621.2 871.08h64.1M1621.2 872.24h64.1M1621.2 876.84h64.1M1621.2 882.59h64.1M1621.2 886.05h64.1M1621.2 898.71h64.1" stroke="#f9fccb" stroke-width="1.5" fill="none"/>
<path d="M1621.2 860.73h64.1M1621.2 863.03h64.1M1621.2 868.78h64.1M1621.2 874.54h64.1M1621.2 875.69h64.1M1621.2 880.29h64.1M1621.2 881.44h64.1" stroke="#ffffbf" stroke-width="1.5" fill="none"/>
<path d="M1621.2 844.61h64.1M1621.2 854.97h64.1M1621.2 857.27h64.1M1621.2 864.18h64.1M1621.2 866.48h64.1M1621.2 873.39h64.1M1621.2 877.99h64.1" stroke="#fff9b5" stroke-width="1.5" fill="none"/>
<path d="M1621.2 842.31h64.1M1621.2 845.76h64.1M1621.2 846.91h64.1M1621.2 848.07h64.1M1621.2 849.22h64.1M1621.2 852.67h64.1M1621.2 859.58h64.1M1621.2 861.88h64.1" stroke="#fff2ab" stroke-width="1.5" fill="none"/>
<path d="M1621.2 834.25h64.1M1621.2 843.46h64.1M1621.2 851.52h64.1M1621.2 856.12h64.1" stroke="#feeca2" stroke-width="1.5" fill="none"/>
<path d="M1621.2 819.29h64.1M1621.2 820.44h64.1M1621.2 826.2h64.1M1621.2 831.95h64.1M1621.2 835.4h64.1M1621.2 836.56h64.1M1621.2 840.01h64.1M1621.2 841.16h64.1M1621.2 850.37h64.1M1621.2 853.82h64.1M1621.2 858.42h64.1" stroke="#fee598" stroke-width="1.5" fill="none"/>
<path d="M1621.2 810.08h64.1M1621.2 833.1h64.1M1621.2 837.71h64.1M1621.2 838.86h64.1" stroke="#fedd8e" stroke-width="1.5" fill="none"/>
<path d="M1621.2 821.59h64.1M1621.2 822.74h64.1M1621.2 828.5h64.1M1621.2 829.65h64.1M1621.2 830.8h64.1" stroke="#fecd83" stroke-width="1.5" fill="none"/>
<path d="M1621.2 796.27h64.1M1621.2 803.18h64.1M1621.2 805.48h64.1M1621.2 806.63h64.1M1621.2 807.78h64.1M1621.2 813.54h64.1M1621.2 815.84h64.1M1621.2 818.14h64.1M1621.2 823.89h64.1" stroke="#fdbd79" stroke-width="1.5" fill="none"/>
<path d="M1621.2 782.46h64.1M1621.2 790.52h64.1M1621.2 792.82h64.1M1621.2 793.97h64.1M1621.2 797.42h64.1M1621.2 799.72h64.1M1621.2 804.33h64.1M1621.2 812.38h64.1M1621.2 814.69h64.1M1621.2 816.99h64.1M1621.2 825.05h64.1M1621.2 827.35h64.1" stroke="#fdad6e" stroke-width="1.5" fill="none"/>
<path d="M1621.2 783.61h64.1M1621.2 791.67h64.1M1621.2 798.57h64.1M1621.2 800.87h64.1M1621.2 808.93h64.1" stroke="#fc9d64" stroke-width="1.5" fill="none"/>
<path d="M1621.2 758.29h64.1M1621.2 774.4h64.1M1621.2 775.55h64.1M1621.2 785.91h64.1M1621.2 787.06h64.1M1621.2 789.36h64.1M1621.2 795.12h64.1M1621.2 802.03h64.1M1621.2 811.23h64.1" stroke="#fc8d59" stroke-width="1.5" fill="none"/>
<path d="M1621.2 760.59h64.1M1621.2 766.34h64.1M1621.2 768.65h64.1M1621.2 769.8h64.1M1621.2 772.1h64.1M1621.2 780.16h64.1M1621.2 781.31h64.1M1621.2 784.76h64.1M1621.2 788.21h64.1" stroke="#f98454" stroke-width="1.5" fill="none"/>
<path d="M1621.2 743.33h64.1M1621.2 752.53h64.1M1621.2 764.04h64.1M1621.2 770.95h64.1M1621.2 773.25h64.1M1621.2 776.7h64.1M1621.2 777.85h64.1M1621.2 779.01h64.1" stroke="#f67c50" stroke-width="1.5" fill="none"/>
<path d="M1621.2 723.76h64.1M1621.2 739.87h64.1M1621.2 742.17h64.1M1621.2 745.63h64.1M1621.2 751.38h64.1M1621.2 755.99h64.1M1621.2 761.74h64.1M1621.2 762.89h64.1M1621.2 765.19h64.1" stroke="#f4744c" stroke-width="1.5" fill="none"/>
<path d="M1621.2 719.15h64.1M1621.2 724.91h64.1M1621.2 728.36h64.1M1621.2 731.82h64.1M1621.2 732.97h64.1M1621.2 738.72h64.1M1621.2 741.02h64.1M1621.2 746.78h64.1M1621.2 749.08h64.1M1621.2 753.68h64.1M1621.2 757.14h64.1M1621.2 767.5h64.1" stroke="#f16b47" stroke-width="1.5" fill="none"/>
<path d="M1621.2 690.38h64.1M1621.2 704.19h64.1M1621.2 706.49h64.1M1621.2 707.64h64.1M1621.2 708.8h64.1M1621.2 711.1h64.1M1621.2 713.4h64.1M1621.2 715.7h64.1M1621.2 716.85h64.1M1621.2 722.61h64.1M1621.2 729.51h64.1M1621.2 730.66h64.1M1621.2 734.12h64.1M1621.2 735.27h64.1M1621.2 736.42h64.1M1621.2 737.57h64.1M1621.2 744.48h64.1M1621.2 747.93h64.1M1621.2 750.23h64.1M1621.2 754.83h64.1M1621.2 759.44h64.1" stroke="#ee6242" stroke-width="1.5" fill="none"/>
<path d="M1621.2 692.68h64.1M1621.2 694.98h64.1M1621.2 696.13h64.1M1621.2 703.04h64.1M1621.2 712.25h64.1M1621.2 714.55h64.1M1621.2 721.46h64.1M1621.2 726.06h64.1" stroke="#eb5a3e" stroke-width="1.5" fill="none"/>
<path d="M1621.2 688.08h64.1M1621.2 691.53h64.1M1621.2 701.89h64.1M1621.2 709.95h64.1M1621.2 718h64.1M1621.2 720.31h64.1" stroke="#e64f38" stroke-width="1.5" fill="none"/>
<path d="M1621.2 685.78h64.1M1621.2 686.93h64.1M1621.2 689.23h64.1M1621.2 693.83h64.1M1621.2 700.74h64.1M1621.2 705.34h64.1M1621.2 727.21h64.1" stroke="#e14533" stroke-width="1.5" fill="none"/>
<path d="M1621.2 697.29h64.1M1621.2 698.44h64.1M1621.2 699.59h64.1" stroke="#dc3b2d" stroke-width="1.5" fill="none"/>
<path d="M1685.3 915.97h65.9M1685.3 917.12h65.9" stroke="#afd3e6" stroke-width="1.5" fill="none"/>
<path d="M1685.3 911.37h65.9M1685.3 912.52h65.9M1685.3 913.67h65.9M1685.3 914.82h65.9" stroke="#bfddec" stroke-width="1.5" fill="none"/>
<path d="M1685.3 907.92h65.9M1685.3 910.22h65.9" stroke="#cee7f1" stroke-width="1.5" fill="none"/>
<path d="M1685.3 905.61h65.9M1685.3 906.77h65.9M1685.3 909.07h65.9" stroke="#ddf1f7" stroke-width="1.5" fill="none"/>
<path d="M1685.3 898.71h65.9M1685.3 899.86h65.9M1685.3 901.01h65.9M1685.3 902.16h65.9M1685.3 903.31h65.9M1685.3 904.46h65.9" stroke="#e5f5ee" stroke-width="1.5" fill="none"/>
<path d="M1685.3 891.8h65.9M1685.3 892.95h65.9M1685.3 894.1h65.9M1685.3 895.26h65.9M1685.3 896.41h65.9M1685.3 897.56h65.9" stroke="#ecf8e3" stroke-width="1.5" fill="none"/>
<path d="M1685.3 884.9h65.9M1685.3 886.05h65.9M1685.3 887.2h65.9M1685.3 888.35h65.9M1685.3 889.5h65.9M1685.3 890.65h65.9" stroke="#f2fad7" stroke-width="1.5" fill="none"/>
<path d="M1685.3 867.63h65.9M1685.3 871.08h65.9M1685.3 872.24h65.9M1685.3 873.39h65.9M1685.3 874.54h65.9M1685.3 875.69h65.9M1685.3 876.84h65.9M1685.3 877.99h65.9M1685.3 879.14h65.9M1685.3 880.29h65.9M1685.3 881.44h65.9M1685.3 882.59h65.9M1685.3 883.75h65.9" stroke="#f9fccb" stroke-width="1.5" fill="none"/>
<path d="M1685.3 853.82h65.9M1685.3 854.97h65.9M1685.3 856.12h65.9M1685.3 857.27h65.9M1685.3 858.42h65.9M1685.3 860.73h65.9M1685.3 861.88h65.9M1685.3 863.03h65.9M1685.3 864.18h65.9M1685.3 865.33h65.9M1685.3 866.48h65.9M1685.3 868.78h65.9M1685.3 869.93h65.9" stroke="#ffffbf" stroke-width="1.5" fill="none"/>
<path d="M1685.3 845.76h65.9M1685.3 849.22h65.9M1685.3 850.37h65.9M1685.3 851.52h65.9M1685.3 852.67h65.9M1685.3 859.58h65.9" stroke="#fff9b5" stroke-width="1.5" fill="none"/>
<path d="M1685.3 838.86h65.9M1685.3 840.01h65.9M1685.3 841.16h65.9M1685.3 842.31h65.9M1685.3 843.46h65.9M1685.3 844.61h65.9M1685.3 846.91h65.9M1685.3 848.07h65.9" stroke="#fff2ab" stroke-width="1.5" fill="none"/>
<path d="M1685.3 834.25h65.9M1685.3 835.4h65.9M1685.3 837.71h65.9" stroke="#feeca2" stroke-width="1.5" fill="none"/>
<path d="M1685.3 826.2h65.9M1685.3 827.35h65.9M1685.3 828.5h65.9M1685.3 829.65h65.9M1685.3 830.8h65.9M1685.3 831.95h65.9M1685.3 833.1h65.9M1685.3 836.56h65.9" stroke="#fee598" stroke-width="1.5" fill="none"/>
<path d="M1685.3 816.99h65.9M1685.3 818.14h65.9M1685.3 819.29h65.9M1685.3 820.44h65.9M1685.3 821.59h65.9M1685.3 822.74h65.9M1685.3 823.89h65.9M1685.3 825.05h65.9" stroke="#fedd8e" stroke-width="1.5" fill="none"/>
<path d="M1685.3 810.08h65.9M1685.3 812.38h65.9M1685.3 813.54h65.9M1685.3 814.69h65.9M1685.3 815.84h65.9" stroke="#fecd83" stroke-width="1.5" fill="none"/>
<path d="M1685.3 804.33h65.9M1685.3 806.63h65.9M1685.3 807.78h65.9M1685.3 808.93h65.9M1685.3 811.23h65.9" stroke="#fdbd79" stroke-width="1.5" fill="none"/>
<path d="M1685.3 796.27h65.9M1685.3 797.42h65.9M1685.3 798.57h65.9M1685.3 799.72h65.9M1685.3 800.87h65.9M1685.3 802.03h65.9M1685.3 803.18h65.9M1685.3 805.48h65.9" stroke="#fdad6e" stroke-width="1.5" fill="none"/>
<path d="M1685.3 784.76h65.9M1685.3 785.91h65.9M1685.3 787.06h65.9M1685.3 788.21h65.9M1685.3 789.36h65.9M1685.3 790.52h65.9M1685.3 791.67h65.9M1685.3 792.82h65.9M1685.3 793.97h65.9M1685.3 795.12h65.9" stroke="#fc9d64" stroke-width="1.5" fill="none"/>
<path d="M1685.3 780.16h65.9M1685.3 781.31h65.9M1685.3 782.46h65.9M1685.3 783.61h65.9" stroke="#fc8d59" stroke-width="1.5" fill="none"/>
<path d="M1685.3 769.8h65.9M1685.3 770.95h65.9M1685.3 774.4h65.9M1685.3 775.55h65.9M1685.3 776.7h65.9M1685.3 777.85h65.9M1685.3 779.01h65.9" stroke="#f98454" stroke-width="1.5" fill="none"/>
<path d="M1685.3 764.04h65.9M1685.3 765.19h65.9M1685.3 766.34h65.9M1685.3 767.5h65.9M1685.3 768.65h65.9M1685.3 772.1h65.9M1685.3 773.25h65.9" stroke="#f67c50" stroke-width="1.5" fill="none"/>
<path d="M1685.3 746.78h65.9M1685.3 751.38h65.9M1685.3 752.53h65.9M1685.3 754.83h65.9M1685.3 755.99h65.9M1685.3 757.14h65.9M1685.3 758.29h65.9M1685.3 759.44h65.9M1685.3 760.59h65.9M1685.3 761.74h65.9M1685.3 762.89h65.9" stroke="#f4744c" stroke-width="1.5" fill="none"/>
<path d="M1685.3 739.87h65.9M1685.3 741.02h65.9M1685.3 742.17h65.9M1685.3 743.33h65.9M1685.3 744.48h65.9M1685.3 745.63h65.9M1685.3 747.93h65.9M1685.3 749.08h65.9M1685.3 750.23h65.9M1685.3 753.68h65.9" stroke="#f16b47" stroke-width="1.5" fill="none"/>
<path d="M1685.3 722.61h65.9M1685.3 723.76h65.9M1685.3 726.06h65.9M1685.3 728.36h65.9M1685.3 729.51h65.9M1685.3 730.66h65.9M1685.3 731.82h65.9M1685.3 734.12h65.9M1685.3 735.27h65.9M1685.3 736.42h65.9M1685.3 737.57h65.9M1685.3 738.72h65.9" stroke="#ee6242" stroke-width="1.5" fill="none"/>
<path d="M1685.3 707.64h65.9M1685.3 708.8h65.9M1685.3 709.95h65.9M1685.3 711.1h65.9M1685.3 712.25h65.9M1685.3 714.55h65.9M1685.3 715.7h65.9M1685.3 716.85h65.9M1685.3 718h65.9M1685.3 719.15h65.9M1685.3 720.31h65.9M1685.3 721.46h65.9M1685.3 724.91h65.9M1685.3 727.21h65.9M1685.3 732.97h65.9" stroke="#eb5a3e" stroke-width="1.5" fill="none"/>
<path d="M1685.3 686.93h65.9M1685.3 691.53h65.9M1685.3 693.83h65.9M1685.3 694.98h65.9M1685.3 696.13h65.9M1685.3 697.29h65.9M1685.3 698.44h65.9M1685.3 699.59h65.9M1685.3 700.74h65.9M1685.3 701.89h65.9M1685.3 703.04h65.9M1685.3 704.19h65.9M1685.3 705.34h65.9M1685.3 706.49h65.9M1685.3 713.4h65.9" stroke="#e64f38" stroke-width="1.5" fill="none"/>
<path d="M1685.3 685.78h65.9M1685.3 688.08h65.9M1685.3 689.23h65.9M1685.3 690.38h65.9M1685.3 692.68h65.9" stroke="#e14533" stroke-width="1.5" fill="none"/>
<path d="M1489 918.28h65.2M1489 919.43h65.2M1489 920.58h65.2" stroke="#bfddec" stroke-width="1.5" fill="none"/>
<path d="M1489 921.73h65.2M1489 922.88h65.2M1489 924.03h65.2M1489 925.19h65.2" stroke="#cee7f1" stroke-width="1.5" fill="none"/>
<path d="M1489 926.34h65.2M1489 927.49h65.2M1489 928.64h65.2M1489 929.79h65.2M1489 930.94h65.2" stroke="#ddf1f7" stroke-width="1.5" fill="none"/>
<path d="M1489 932.1h65.2M1489 933.25h65.2M1489 934.4h65.2M1489 935.55h65.2M1489 936.7h65.2M1489 939h65.2" stroke="#e5f5ee" stroke-width="1.5" fill="none"/>
<path d="M1489 937.85h65.2M1489 940.16h65.2M1489 942.46h65.2M1489 943.61h65.2M1489 948.22h65.2" stroke="#ecf8e3" stroke-width="1.5" fill="none"/>
<path d="M1489 941.31h65.2M1489 944.76h65.2M1489 945.91h65.2M1489 947.07h65.2M1489 949.37h65.2M1489 950.52h65.2" stroke="#f2fad7" stroke-width="1.5" fill="none"/>
<path d="M1489 951.67h65.2M1489 952.82h65.2M1489 953.98h65.2M1489 955.13h65.2M1489 957.43h65.2M1489 958.58h65.2M1489 959.73h65.2" stroke="#f9fccb" stroke-width="1.5" fill="none"/>
<path d="M1489 956.28h65.2M1489 960.89h65.2M1489 962.04h65.2M1489 963.19h65.2M1489 965.49h65.2" stroke="#ffffbf" stroke-width="1.5" fill="none"/>
<path d="M1489 964.34h65.2M1489 966.64h65.2M1489 967.8h65.2M1489 968.95h65.2M1489 970.1h65.2M1489 971.25h65.2M1489 972.4h65.2M1489 977.01h65.2" stroke="#fff9b5" stroke-width="1.5" fill="none"/>
<path d="M1489 973.55h65.2M1489 974.7h65.2M1489 975.86h65.2M1489 978.16h65.2M1489 979.31h65.2M1489 980.46h65.2M1489 981.61h65.2M1489 982.77h65.2" stroke="#fff2ab" stroke-width="1.5" fill="none"/>
<path d="M1489 983.92h65.2M1489 985.07h65.2M1489 986.22h65.2M1489 987.37h65.2M1489 988.52h65.2M1489 989.68h65.2M1489 990.83h65.2M1489 991.98h65.2" stroke="#feeca2" stroke-width="1.5" fill="none"/>
<path d="M1489 993.13h65.2M1489 994.28h65.2M1489 995.43h65.2M1489 996.59h65.2M1489 998.89h65.2" stroke="#fee598" stroke-width="1.5" fill="none"/>
<path d="M1489 997.74h65.2M1489 1000.04h65.2M1489 1001.19h65.2M1489 1002.34h65.2" stroke="#fedd8e" stroke-width="1.5" fill="none"/>
<path d="M1489 1003.5h65.2M1489 1004.65h65.2M1489 1005.8h65.2M1489 1006.95h65.2M1489 1009.25h65.2M1489 1010.4h65.2" stroke="#fecd83" stroke-width="1.5" fill="none"/>
<path d="M1489 1008.1h65.2M1489 1011.56h65.2M1489 1012.71h65.2M1489 1013.86h65.2M1489 1015.01h65.2M1489 1016.16h65.2M1489 1017.31h65.2" stroke="#fdbd79" stroke-width="1.5" fill="none"/>
<path d="M1489 1018.47h65.2M1489 1019.62h65.2M1489 1020.77h65.2M1489 1021.92h65.2M1489 1023.07h65.2M1489 1024.22h65.2" stroke="#fdad6e" stroke-width="1.5" fill="none"/>
<path d="M1489 1025.38h65.2M1489 1026.53h65.2M1489 1027.68h65.2M1489 1028.83h65.2M1489 1029.98h65.2M1489 1031.13h65.2M1489 1032.29h65.2M1489 1033.44h65.2" stroke="#fc9d64" stroke-width="1.5" fill="none"/>
<path d="M1489 1034.59h65.2M1489 1035.74h65.2M1489 1036.89h65.2M1489 1038.04h65.2M1489 1040.35h65.2" stroke="#fc8d59" stroke-width="1.5" fill="none"/>
<path d="M1489 1039.2h65.2M1489 1041.5h65.2M1489 1042.65h65.2M1489 1043.8h65.2M1489 1046.1h65.2M1489 1047.26h65.2M1489 1048.41h65.2" stroke="#f98454" stroke-width="1.5" fill="none"/>
<path d="M1489 1044.95h65.2M1489 1049.56h65.2M1489 1050.71h65.2M1489 1051.86h65.2M1489 1053.01h65.2M1489 1056.47h65.2" stroke="#f67c50" stroke-width="1.5" fill="none"/>
<path d="M1489 1054.17h65.2M1489 1055.32h65.2M1489 1057.62h65.2M1489 1058.77h65.2M1489 1059.92h65.2M1489 1061.08h65.2M1489 1062.23h65.2" stroke="#f4744c" stroke-width="1.5" fill="none"/>
<path d="M1489 1063.38h65.2M1489 1064.53h65.2M1489 1066.83h65.2M1489 1067.99h65.2M1489 1069.14h65.2" stroke="#f16b47" stroke-width="1.5" fill="none"/>
<path d="M1489 1065.68h65.2M1489 1070.29h65.2M1489 1071.44h65.2M1489 1072.59h65.2M1489 1073.74h65.2M1489 1074.9h65.2M1489 1077.2h65.2" stroke="#ee6242" stroke-width="1.5" fill="none"/>
<path d="M1489 1076.05h65.2M1489 1078.35h65.2M1489 1079.5h65.2M1489 1080.65h65.2M1489 1081.8h65.2M1489 1082.96h65.2M1489 1084.11h65.2M1489 1086.41h65.2" stroke="#eb5a3e" stroke-width="1.5" fill="none"/>
<path d="M1489 1085.26h65.2M1489 1087.56h65.2M1489 1088.71h65.2M1489 1089.87h65.2M1489 1092.17h65.2" stroke="#e64f38" stroke-width="1.5" fill="none"/>
<path d="M1489 1091.02h65.2M1489 1093.32h65.2M1489 1094.47h65.2M1489 1095.62h65.2" stroke="#e14533" stroke-width="1.5" fill="none"/>
<path d="M1554.2 918.28h67" stroke="#afd3e6" stroke-width="1.5" fill="none"/>
<path d="M1554.2 920.58h67" stroke="#bfddec" stroke-width="1.5" fill="none"/>
<path d="M1554.2 921.73h67M1554.2 922.88h67" stroke="#cee7f1" stroke-width="1.5" fill="none"/>
<path d="M1554.2 919.43h67M1554.2 930.94h67M1554.2 932.1h67M1554.2 939h67" stroke="#ddf1f7" stroke-width="1.5" fill="none"/>
<path d="M1554.2 924.03h67M1554.2 933.25h67" stroke="#e5f5ee" stroke-width="1.5" fill="none"/>
<path d="M1554.2 925.19h67M1554.2 926.34h67M1554.2 928.64h67M1554.2 929.79h67M1554.2 934.4h67M1554.2 935.55h67M1554.2 942.46h67M1554.2 948.22h67" stroke="#ecf8e3" stroke-width="1.5" fill="none"/>
<path d="M1554.2 927.49h67M1554.2 936.7h67M1554.2 943.61h67M1554.2 951.67h67" stroke="#f2fad7" stroke-width="1.5" fill="none"/>
<path d="M1554.2 940.16h67M1554.2 941.31h67M1554.2 944.76h67M1554.2 947.07h67M1554.2 949.37h67M1554.2 950.52h67M1554.2 952.82h67" stroke="#f9fccb" stroke-width="1.5" fill="none"/>
<path d="M1554.2 937.85h67M1554.2 953.98h67M1554.2 955.13h67M1554.2 956.28h67M1554.2 958.58h67M1554.2 959.73h67M1554.2 964.34h67M1554.2 974.7h67" stroke="#ffffbf" stroke-width="1.5" fill="none"/>
<path d="M1554.2 945.91h67M1554.2 957.43h67M1554.2 965.49h67M1554.2 966.64h67M1554.2 970.1h67" stroke="#fff9b5" stroke-width="1.5" fill="none"/>
<path d="M1554.2 960.89h67M1554.2 962.04h67M1554.2 963.19h67" stroke="#fff2ab" stroke-width="1.5" fill="none"/>
<path d="M1554.2 967.8h67M1554.2 968.95h67M1554.2 971.25h67M1554.2 972.4h67M1554.2 973.55h67M1554.2 977.01h67M1554.2 978.16h67M1554.2 980.46h67M1554.2 991.98h67" stroke="#feeca2" stroke-width="1.5" fill="none"/>
<path d="M1554.2 975.86h67M1554.2 979.31h67M1554.2 981.61h67M1554.2 982.77h67M1554.2 985.07h67M1554.2 986.22h67" stroke="#fee598" stroke-width="1.5" fill="none"/>
<path d="M1554.2 983.92h67M1554.2 987.37h67M1554.2 988.52h67M1554.2 995.43h67M1554.2 997.74h67" stroke="#fedd8e" stroke-width="1.5" fill="none"/>
<path d="M1554.2 989.68h67M1554.2 990.83h67M1554.2 993.13h67M1554.2 994.28h67M1554.2 996.59h67M1554.2 998.89h67M1554.2 1000.04h67M1554.2 1001.19h67M1554.2 1013.86h67" stroke="#fecd83" stroke-width="1.5" fill="none"/>
<path d="M1554.2 1002.34h67M1554.2 1006.95h67M1554.2 1009.25h67M1554.2 1015.01h67" stroke="#fdbd79" stroke-width="1.5" fill="none"/>
<path d="M1554.2 1004.65h67M1554.2 1005.8h67M1554.2 1008.1h67M1554.2 1010.4h67M1554.2 1016.16h67M1554.2 1023.07h67" stroke="#fdad6e" stroke-width="1.5" fill="none"/>
<path d="M1554.2 1003.5h67M1554.2 1018.47h67M1554.2 1019.62h67" stroke="#fc9d64" stroke-width="1.5" fill="none"/>
<path d="M1554.2 1012.71h67M1554.2 1017.31h67M1554.2 1024.22h67M1554.2 1028.83h67M1554.2 1029.98h67M1554.2 1033.44h67M1554.2 1038.04h67M1554.2 1044.95h67" stroke="#fc8d59" stroke-width="1.5" fill="none"/>
<path d="M1554.2 1011.56h67M1554.2 1020.77h67M1554.2 1025.38h67M1554.2 1026.53h67M1554.2 1027.68h67M1554.2 1031.13h67M1554.2 1032.29h67M1554.2 1035.74h67M1554.2 1047.26h67" stroke="#f98454" stroke-width="1.5" fill="none"/>
<path d="M1554.2 1021.92h67M1554.2 1034.59h67M1554.2 1040.35h67M1554.2 1041.5h67M1554.2 1042.65h67M1554.2 1046.1h67M1554.2 1049.56h67M1554.2 1058.77h67" stroke="#f67c50" stroke-width="1.5" fill="none"/>
<path d="M1554.2 1036.89h67M1554.2 1039.2h67M1554.2 1043.8h67M1554.2 1048.41h67M1554.2 1050.71h67M1554.2 1056.47h67M1554.2 1057.62h67M1554.2 1061.08h67" stroke="#f4744c" stroke-width="1.5" fill="none"/>
<path d="M1554.2 1051.86h67M1554.2 1054.17h67M1554.2 1055.32h67M1554.2 1064.53h67M1554.2 1070.29h67M1554.2 1071.44h67M1554.2 1076.05h67" stroke="#f16b47" stroke-width="1.5" fill="none"/>
<path d="M1554.2 1053.01h67M1554.2 1062.23h67M1554.2 1065.68h67M1554.2 1066.83h67M1554.2 1067.99h67M1554.2 1072.59h67M1554.2 1073.74h67M1554.2 1074.9h67M1554.2 1082.96h67M1554.2 1084.11h67" stroke="#ee6242" stroke-width="1.5" fill="none"/>
<path d="M1554.2 1063.38h67M1554.2 1069.14h67M1554.2 1079.5h67M1554.2 1080.65h67M1554.2 1089.87h67" stroke="#eb5a3e" stroke-width="1.5" fill="none"/>
<path d="M1554.2 1077.2h67M1554.2 1078.35h67M1554.2 1085.26h67M1554.2 1087.56h67M1554.2 1092.17h67M1554.2 1094.47h67" stroke="#e64f38" stroke-width="1.5" fill="none"/>
<path d="M1554.2 1059.92h67M1554.2 1091.02h67M1554.2 1093.32h67" stroke="#e14533" stroke-width="1.5" fill="none"/>
<path d="M1554.2 1081.8h67M1554.2 1086.41h67" stroke="#dc3b2d" stroke-width="1.5" fill="none"/>
<path d="M1554.2 1088.71h67M1554.2 1095.62h67" stroke="#d73027" stroke-width="1.5" fill="none"/>
<path d="M1621.2 918.28h64.1M1621.2 928.64h64.1M1621.2 932.1h64.1M1621.2 933.25h64.1" stroke="#4575b4" stroke-width="1.5" fill="none"/>
<path d="M1621.2 927.49h64.1M1621.2 935.55h64.1M1621.2 936.7h64.1M1621.2 947.07h64.1" stroke="#4e7fba" stroke-width="1.5" fill="none"/>
<path d="M1621.2 922.88h64.1" stroke="#5283bd" stroke-width="1.5" fill="none"/>
<path d="M1621.2 925.19h64.1M1621.2 926.34h64.1M1621.2 939h64.1" stroke="#5688c0" stroke-width="1.5" fill="none"/>
<path d="M1621.2 990.83h64.1" stroke="#5c8ec4" stroke-width="1.5" fill="none"/>
<path d="M1621.2 934.4h64.1M1621.2 951.67h64.1" stroke="#6798c9" stroke-width="1.5" fill="none"/>
<path d="M1621.2 921.73h64.1M1621.2 942.46h64.1M1621.2 965.49h64.1M1621.2 1029.98h64.1" stroke="#71a2cd" stroke-width="1.5" fill="none"/>
<path d="M1621.2 940.16h64.1M1621.2 945.91h64.1M1621.2 948.22h64.1M1621.2 957.43h64.1M1621.2 958.58h64.1M1621.2 959.73h64.1" stroke="#7cabd2" stroke-width="1.5" fill="none"/>
<path d="M1621.2 929.79h64.1M1621.2 930.94h64.1M1621.2 937.85h64.1M1621.2 941.31h64.1M1621.2 953.98h64.1M1621.2 955.13h64.1M1621.2 972.4h64.1" stroke="#86b5d6" stroke-width="1.5" fill="none"/>
<path d="M1621.2 919.43h64.1M1621.2 920.58h64.1M1621.2 943.61h64.1M1621.2 956.28h64.1M1621.2 963.19h64.1M1621.2 1000.04h64.1M1621.2 1003.5h64.1" stroke="#91bfdb" stroke-width="1.5" fill="none"/>
<path d="M1621.2 968.95h64.1M1621.2 986.22h64.1M1621.2 1072.59h64.1" stroke="#a0c9e1" stroke-width="1.5" fill="none"/>
<path d="M1621.2 944.76h64.1M1621.2 950.52h64.1M1621.2 964.34h64.1M1621.2 966.64h64.1M1621.2 995.43h64.1M1621.2 1011.56h64.1M1621.2 1032.29h64.1" stroke="#afd3e6" stroke-width="1.5" fill="none"/>
<path d="M1621.2 949.37h64.1M1621.2 970.1h64.1M1621.2 974.7h64.1M1621.2 980.46h64.1M1621.2 1035.74h64.1" stroke="#bfddec" stroke-width="1.5" fill="none"/>
<path d="M1621.2 1013.86h64.1M1621.2 1028.83h64.1" stroke="#cee7f1" stroke-width="1.5" fill="none"/>
<path d="M1621.2 924.03h64.1M1621.2 967.8h64.1M1621.2 971.25h64.1M1621.2 979.31h64.1M1621.2 997.74h64.1M1621.2 1009.25h64.1M1621.2 1025.38h64.1M1621.2 1027.68h64.1" stroke="#ddf1f7" stroke-width="1.5" fill="none"/>
<path d="M1621.2 975.86h64.1M1621.2 982.77h64.1M1621.2 985.07h64.1M1621.2 1005.8h64.1M1621.2 1017.31h64.1M1621.2 1018.47h64.1M1621.2 1031.13h64.1M1621.2 1043.8h64.1" stroke="#e5f5ee" stroke-width="1.5" fill="none"/>
<path d="M1621.2 962.04h64.1M1621.2 977.01h64.1M1621.2 994.28h64.1M1621.2 998.89h64.1M1621.2 1001.19h64.1M1621.2 1006.95h64.1M1621.2 1023.07h64.1M1621.2 1059.92h64.1M1621.2 1062.23h64.1M1621.2 1078.35h64.1" stroke="#ecf8e3" stroke-width="1.5" fill="none"/>
<path d="M1621.2 981.61h64.1M1621.2 983.92h64.1M1621.2 993.13h64.1M1621.2 1004.65h64.1M1621.2 1015.01h64.1M1621.2 1026.53h64.1M1621.2 1061.08h64.1M1621.2 1064.53h64.1M1621.2 1081.8h64.1M1621.2 1082.96h64.1" stroke="#f2fad7" stroke-width="1.5" fill="none"/>
<path d="M1621.2 952.82h64.1M1621.2 989.68h64.1M1621.2 1002.34h64.1M1621.2 1038.04h64.1M1621.2 1042.65h64.1M1621.2 1063.38h64.1M1621.2 1065.68h64.1M1621.2 1066.83h64.1M1621.2 1085.26h64.1M1621.2 1087.56h64.1" stroke="#f9fccb" stroke-width="1.5" fill="none"/>
<path d="M1621.2 960.89h64.1M1621.2 973.55h64.1M1621.2 978.16h64.1M1621.2 1012.71h64.1M1621.2 1020.77h64.1M1621.2 1039.2h64.1M1621.2 1044.95h64.1M1621.2 1046.1h64.1M1621.2 1053.01h64.1M1621.2 1093.32h64.1" stroke="#ffffbf" stroke-width="1.5" fill="none"/>
<path d="M1621.2 988.52h64.1M1621.2 1010.4h64.1M1621.2 1047.26h64.1M1621.2 1049.56h64.1M1621.2 1051.86h64.1M1621.2 1054.17h64.1M1621.2 1056.47h64.1M1621.2 1067.99h64.1M1621.2 1077.2h64.1" stroke="#fff9b5" stroke-width="1.5" fill="none"/>
<path d="M1621.2 987.37h64.1M1621.2 991.98h64.1M1621.2 996.59h64.1M1621.2 1008.1h64.1M1621.2 1016.16h64.1M1621.2 1024.22h64.1M1621.2 1033.44h64.1M1621.2 1034.59h64.1M1621.2 1041.5h64.1M1621.2 1057.62h64.1M1621.2 1069.14h64.1M1621.2 1070.29h64.1M1621.2 1086.41h64.1M1621.2 1091.02h64.1" stroke="#fff2ab" stroke-width="1.5" fill="none"/>
<path d="M1621.2 1055.32h64.1M1621.2 1084.11h64.1M1621.2 1092.17h64.1" stroke="#feeca2" stroke-width="1.5" fill="none"/>
<path d="M1621.2 1048.41h64.1M1621.2 1058.77h64.1M1621.2 1071.44h64.1M1621.2 1095.62h64.1" stroke="#fee598" stroke-width="1.5" fill="none"/>
<path d="M1621.2 1036.89h64.1M1621.2 1050.71h64.1M1621.2 1074.9h64.1M1621.2 1076.05h64.1" stroke="#fedd8e" stroke-width="1.5" fill="none"/>
<path d="M1621.2 1019.62h64.1M1621.2 1021.92h64.1M1621.2 1040.35h64.1M1621.2 1080.65h64.1M1621.2 1088.71h64.1M1621.2 1089.87h64.1" stroke="#fecd83" stroke-width="1.5" fill="none"/>
<path d="M1621.2 1073.74h64.1M1621.2 1094.47h64.1" stroke="#fdad6e" stroke-width="1.5" fill="none"/>
<path d="M1621.2 1079.5h64.1" stroke="#fc9d64" stroke-width="1.5" fill="none"/>
<path d="M1685.3 918.28h65.9M1685.3 932.1h65.9M1685.3 933.25h65.9" stroke="#4575b4" stroke-width="1.5" fill="none"/>
<path d="M1685.3 927.49h65.9M1685.3 928.64h65.9M1685.3 936.7h65.9" stroke="#497ab7" stroke-width="1.5" fill="none"/>
<path d="M1685.3 926.34h65.9M1685.3 935.55h65.9" stroke="#4e7fba" stroke-width="1.5" fill="none"/>
<path d="M1685.3 947.07h65.9" stroke="#5283bd" stroke-width="1.5" fill="none"/>
<path d="M1685.3 925.19h65.9" stroke="#5688c0" stroke-width="1.5" fill="none"/>
<path d="M1685.3 922.88h65.9M1685.3 939h65.9" stroke="#5c8ec4" stroke-width="1.5" fill="none"/>
<path d="M1685.3 921.73h65.9M1685.3 929.79h65.9M1685.3 990.83h65.9" stroke="#6798c9" stroke-width="1.5" fill="none"/>
<path d="M1685.3 934.4h65.9M1685.3 942.46h65.9M1685.3 945.91h65.9M1685.3 958.58h65.9" stroke="#71a2cd" stroke-width="1.5" fill="none"/>
<path d="M1685.3 940.16h65.9M1685.3 951.67h65.9M1685.3 953.98h65.9M1685.3 957.43h65.9M1685.3 1003.5h65.9" stroke="#7cabd2" stroke-width="1.5" fill="none"/>
<path d="M1685.3 920.58h65.9M1685.3 930.94h65.9M1685.3 937.85h65.9M1685.3 941.31h65.9M1685.3 955.13h65.9M1685.3 959.73h65.9M1685.3 965.49h65.9M1685.3 1029.98h65.9" stroke="#86b5d6" stroke-width="1.5" fill="none"/>
<path d="M1685.3 948.22h65.9M1685.3 950.52h65.9M1685.3 956.28h65.9M1685.3 968.95h65.9M1685.3 972.4h65.9" stroke="#91bfdb" stroke-width="1.5" fill="none"/>
<path d="M1685.3 919.43h65.9M1685.3 970.1h65.9M1685.3 986.22h65.9M1685.3 995.43h65.9M1685.3 1000.04h65.9" stroke="#a0c9e1" stroke-width="1.5" fill="none"/>
<path d="M1685.3 943.61h65.9M1685.3 966.64h65.9M1685.3 1011.56h65.9M1685.3 1027.68h65.9M1685.3 1032.29h65.9" stroke="#afd3e6" stroke-width="1.5" fill="none"/>
<path d="M1685.3 949.37h65.9M1685.3 964.34h65.9M1685.3 1035.74h65.9M1685.3 1072.59h65.9" stroke="#bfddec" stroke-width="1.5" fill="none"/>
<path d="M1685.3 924.03h65.9M1685.3 944.76h65.9M1685.3 963.19h65.9M1685.3 1013.86h65.9M1685.3 1028.83h65.9" stroke="#cee7f1" stroke-width="1.5" fill="none"/>
<path d="M1685.3 971.25h65.9M1685.3 979.31h65.9M1685.3 985.07h65.9M1685.3 993.13h65.9M1685.3 997.74h65.9M1685.3 1006.95h65.9M1685.3 1018.47h65.9" stroke="#ddf1f7" stroke-width="1.5" fill="none"/>
<path d="M1685.3 974.7h65.9M1685.3 980.46h65.9M1685.3 982.77h65.9M1685.3 994.28h65.9M1685.3 998.89h65.9M1685.3 1001.19h65.9M1685.3 1005.8h65.9M1685.3 1025.38h65.9" stroke="#e5f5ee" stroke-width="1.5" fill="none"/>
<path d="M1685.3 962.04h65.9M1685.3 967.8h65.9M1685.3 977.01h65.9M1685.3 1004.65h65.9M1685.3 1012.71h65.9M1685.3 1015.01h65.9M1685.3 1017.31h65.9M1685.3 1026.53h65.9M1685.3 1031.13h65.9M1685.3 1064.53h65.9M1685.3 1081.8h65.9" stroke="#ecf8e3" stroke-width="1.5" fill="none"/>
<path d="M1685.3 975.86h65.9M1685.3 981.61h65.9M1685.3 983.92h65.9M1685.3 988.52h65.9M1685.3 1009.25h65.9M1685.3 1023.07h65.9M1685.3 1039.2h65.9M1685.3 1042.65h65.9M1685.3 1043.8h65.9M1685.3 1044.95h65.9M1685.3 1046.1h65.9M1685.3 1059.92h65.9M1685.3 1061.08h65.9M1685.3 1062.23h65.9M1685.3 1082.96h65.9" stroke="#f2fad7" stroke-width="1.5" fill="none"/>
<path d="M1685.3 952.82h65.9M1685.3 1063.38h65.9M1685.3 1066.83h65.9M1685.3 1078.35h65.9M1685.3 1085.26h65.9" stroke="#f9fccb" stroke-width="1.5" fill="none"/>
<path d="M1685.3 989.68h65.9M1685.3 991.98h65.9M1685.3 1010.4h65.9M1685.3 1020.77h65.9M1685.3 1038.04h65.9M1685.3 1041.5h65.9M1685.3 1087.56h65.9M1685.3 1093.32h65.9" stroke="#ffffbf" stroke-width="1.5" fill="none"/>
<path d="M1685.3 960.89h65.9M1685.3 978.16h65.9M1685.3 987.37h65.9M1685.3 1002.34h65.9M1685.3 1016.16h65.9M1685.3 1056.47h65.9M1685.3 1065.68h65.9" stroke="#fff9b5" stroke-width="1.5" fill="none"/>
<path d="M1685.3 973.55h65.9M1685.3 996.59h65.9M1685.3 1051.86h65.9M1685.3 1053.01h65.9M1685.3 1057.62h65.9M1685.3 1069.14h65.9M1685.3 1070.29h65.9M1685.3 1077.2h65.9M1685.3 1091.02h65.9M1685.3 1092.17h65.9" stroke="#fff2ab" stroke-width="1.5" fill="none"/>
<path d="M1685.3 1008.1h65.9M1685.3 1024.22h65.9M1685.3 1033.44h65.9M1685.3 1034.59h65.9M1685.3 1047.26h65.9M1685.3 1050.71h65.9M1685.3 1054.17h65.9M1685.3 1055.32h65.9M1685.3 1067.99h65.9M1685.3 1071.44h65.9M1685.3 1095.62h65.9" stroke="#feeca2" stroke-width="1.5" fill="none"/>
<path d="M1685.3 1019.62h65.9M1685.3 1040.35h65.9M1685.3 1048.41h65.9M1685.3 1049.56h65.9M1685.3 1080.65h65.9M1685.3 1086.41h65.9" stroke="#fee598" stroke-width="1.5" fill="none"/>
<path d="M1685.3 1021.92h65.9M1685.3 1036.89h65.9M1685.3 1058.77h65.9M1685.3 1074.9h65.9M1685.3 1088.71h65.9M1685.3 1089.87h65.9" stroke="#fedd8e" stroke-width="1.5" fill="none"/>
<path d="M1685.3 1073.74h65.9M1685.3 1076.05h65.9M1685.3 1084.11h65.9" stroke="#fecd83" stroke-width="1.5" fill="none"/>
<path d="M1685.3 1079.5h65.9" stroke="#fdbd79" stroke-width="1.5" fill="none"/>
<path d="M1685.3 1094.47h65.9" stroke="#fdad6e" stroke-width="1.5" fill="none"/>
<path d="M1621.2 735.5H1751.2M1621.2 783.8H1751.2M1621.2 831.2H1751.2M1621.2 844.3H1751.2M1621.2 879.6H1751.2M1621.2 891.6H1751.2M1489 939H1621.2M1489 987.4H1621.2M1489 1034.7H1621.2M1489 1082H1621.2M1489 891.6H1621.2" fill="none" stroke="#fff" stroke-width="0.9" opacity="0.6"/>
<rect x="1489" y="685.2" width="262.2" height="411" fill="none" stroke="#000" stroke-width="2"/>
<line x1="1554.2" y1="685.2" x2="1554.2" y2="1096.2" stroke="#000" stroke-width="1.4" />
<line x1="1621.2" y1="685.2" x2="1621.2" y2="1096.2" stroke="#000" stroke-width="2" />
<line x1="1685.3" y1="685.2" x2="1685.3" y2="1096.2" stroke="#000" stroke-width="1.4" />
<line x1="1489" y1="917.7" x2="1751.2" y2="917.7" stroke="#000" stroke-width="2" />
<text font-size="27.85" text-anchor="middle" transform="translate(1457 801.5) rotate(-90)">23,426 CpGs</text>
<text font-size="27.85" text-anchor="middle" transform="translate(1457 1010) rotate(-90)">17,797 CpGs</text>
<rect x="1802.7" y="922.2" width="28" height="81.3" fill="url(#cbe)" stroke="#000" stroke-width="1.9"/>
<text x="1846" y="939.3" font-size="27.85" >1</text>
<text x="1845" y="974" font-size="27.85" >β value</text>
<text x="1845" y="1007" font-size="27.85" >0</text>
<text x="1633.4" y="1135.7" font-size="28.5" text-anchor="middle">DNA methylation</text>
<text x="1633.4" y="1166.5" font-size="25.2" text-anchor="middle">|β value change| &gt; 0.15, <tspan font-style="italic">P</tspan> &lt; 0.05</text>
<text x="0" y="1211.7" font-size="43.5" font-weight="bold">f</text>
<path d="M478.2 1489.3L412.4 1489.3L412.4 1459.8L435.6 1410.5L458.8 1381.5L478.2 1367.0Z" fill="#0070c0" stroke="#0070c0" stroke-width="6.5" stroke-linejoin="round" opacity="0.8"/>
<g stroke="#0070c0" stroke-opacity="0.5" stroke-width="8" stroke-linecap="round" fill="none">
<path d="M449.0 1489.2h0M440.9 1475.8h0M412.9 1441.1h0M445.2 1360.5h0M459.5 1445.1h0M425.7 1477.1h0M469.4 1395.5h0M448.4 1347.0h0M407.5 1478.1h0M467.6 1434.7h0M469.6 1417.8h0M470.9 1454.3h0M471.6 1472.0h0M277.5 1407.6h0M459.4 1470.3h0M419.3 1473.6h0M469.4 1388.5h0M465.3 1409.8h0M441.6 1419.2h0M458.9 1424.7h0M452.2 1427.5h0M456.9 1457.4h0M427.6 1487.8h0M441.4 1471.5h0M436.0 1414.4h0M464.1 1448.4h0M468.4 1431.5h0M412.9 1468.0h0M435.5 1420.3h0M428.2 1394.7h0M465.0 1427.8h0M478.1 1466.9h0M421.1 1355.0h0M420.7 1456.7h0M448.6 1417.3h0M474.9 1415.7h0M460.4 1430.4h0M469.0 1397.4h0M360.5 1442.6h0M436.2 1425.8h0M404.5 1470.6h0M442.0 1478.0h0M442.2 1431.3h0M409.4 1408.9h0M458.0 1328.1h0M453.1 1363.8h0M476.8 1464.5h0M453.4 1460.8h0M449.7 1448.7h0M429.6 1473.0h0M445.0 1414.6h0M419.7 1477.3h0M445.1 1465.2h0M428.0 1447.3h0M467.2 1397.3h0M421.5 1484.4h0M463.4 1430.2h0M462.5 1422.7h0M375.1 1375.7h0M429.0 1419.9h0M468.7 1331.9h0M443.6 1423.5h0M452.2 1385.6h0M456.7 1371.3h0M398.2 1336.0h0M401.3 1459.7h0M466.1 1437.1h0M454.6 1436.9h0M448.4 1409.6h0M436.5 1458.5h0M467.7 1472.8h0M434.7 1431.4h0M461.6 1486.4h0M470.6 1364.4h0M369.5 1440.8h0M475.9 1382.7h0M444.6 1457.7h0M433.7 1476.2h0M458.6 1442.3h0M466.0 1307.5h0M455.9 1387.7h0M445.2 1390.0h0M394.2 1466.5h0M456.5 1440.8h0M447.4 1343.9h0M277.5 1411.9h0M375.2 1441.0h0M427.3 1426.2h0M420.1 1426.0h0M456.3 1438.3h0M415.1 1468.2h0M456.1 1478.9h0M441.1 1343.2h0M450.0 1352.6h0M425.7 1463.7h0M460.0 1355.0h0M462.4 1430.2h0M451.9 1421.1h0M463.6 1422.1h0M433.3 1445.9h0M428.1 1447.6h0M466.9 1419.4h0M452.8 1407.2h0M460.8 1368.1h0M437.4 1416.4h0M468.8 1369.8h0M423.8 1447.5h0M466.5 1427.6h0M455.9 1409.4h0M423.8 1449.2h0M472.6 1470.5h0M446.7 1460.8h0M466.3 1458.0h0M443.3 1415.8h0M475.8 1411.4h0M478.2 1450.9h0M414.9 1363.9h0M414.4 1439.2h0M390.7 1372.7h0M478.5 1332.6h0M467.3 1365.1h0M438.4 1423.3h0M449.5 1437.2h0M460.3 1411.9h0M439.6 1444.6h0M421.9 1435.5h0M442.6 1476.2h0M416.0 1485.7h0M474.6 1460.8h0M435.3 1429.7h0M474.8 1362.6h0M456.2 1448.2h0M414.3 1473.9h0M473.5 1461.3h0M421.8 1463.1h0M455.4 1451.1h0M367.8 1474.2h0M445.9 1387.2h0M438.5 1418.8h0M464.5 1451.5h0M457.6 1412.5h0M475.4 1441.3h0M428.6 1439.9h0M435.2 1433.9h0M446.8 1446.2h0M477.3 1442.5h0M440.7 1485.1h0M436.1 1421.3h0M410.7 1461.4h0M466.3 1365.2h0M466.2 1455.3h0M475.0 1462.6h0M458.4 1354.6h0M470.7 1405.4h0M465.1 1470.1h0M471.7 1355.1h0M419.8 1459.1h0M418.6 1437.0h0M459.9 1424.5h0M440.1 1390.3h0M414.7 1435.0h0M430.2 1417.6h0M443.7 1415.0h0M362.0 1485.1h0M470.9 1423.6h0M467.3 1470.3h0M448.9 1429.3h0M469.6 1482.1h0M417.9 1475.7h0M449.0 1400.3h0M423.2 1464.2h0M453.8 1376.7h0M409.2 1453.3h0M422.8 1470.7h0M460.2 1397.8h0M431.8 1445.9h0M441.7 1451.6h0M477.0 1445.2h0M453.3 1476.8h0M434.5 1418.9h0M436.8 1480.3h0M429.3 1454.0h0M445.4 1468.4h0M412.8 1473.3h0M426.2 1459.8h0M468.4 1386.5h0M439.5 1483.0h0M435.5 1403.5h0M465.3 1394.0h0M421.9 1450.5h0M421.2 1348.1h0M459.9 1444.3h0M454.2 1349.3h0M449.5 1436.5h0M445.4 1439.8h0M459.9 1373.6h0M429.3 1406.9h0M472.5 1364.5h0M439.3 1445.6h0M418.1 1479.9h0M408.0 1480.0h0M439.8 1392.6h0M458.5 1438.4h0M431.5 1457.7h0M442.0 1442.9h0M424.6 1435.2h0M475.9 1462.6h0M384.2 1481.0h0M379.5 1409.6h0M458.1 1422.1h0M428.3 1454.8h0M418.0 1408.1h0M475.5 1368.5h0M477.1 1366.0h0M476.4 1370.4h0M471.2 1445.2h0M477.5 1356.7h0M434.6 1436.7h0M473.5 1370.5h0M452.4 1402.4h0M413.7 1449.5h0M478.2 1400.4h0M430.0 1416.3h0M474.6 1379.8h0M470.9 1357.8h0M429.7 1414.2h0M447.3 1429.5h0M420.8 1487.7h0M394.2 1411.8h0M448.3 1381.6h0M426.4 1465.8h0M336.1 1468.3h0M419.6 1316.8h0M425.0 1470.9h0M439.8 1472.0h0M469.3 1412.7h0M445.1 1449.5h0M376.1 1349.6h0M385.3 1406.3h0M457.8 1465.9h0M459.8 1482.2h0M460.2 1417.7h0M456.0 1470.2h0M382.6 1482.5h0M417.3 1482.0h0M466.8 1329.6h0M440.8 1323.1h0M384.6 1361.6h0M458.4 1381.9h0M464.7 1409.9h0M453.7 1416.9h0M416.7 1465.2h0M476.5 1424.3h0M436.3 1426.7h0M434.3 1466.5h0M457.5 1448.5h0M435.1 1356.5h0M420.3 1484.7h0M448.1 1425.7h0M477.8 1368.7h0M457.2 1420.9h0M436.7 1429.5h0M440.7 1467.4h0M420.2 1423.9h0M457.6 1409.6h0M420.6 1439.5h0M449.0 1455.4h0M399.3 1353.9h0M427.0 1460.6h0M370.4 1474.3h0M426.3 1440.2h0M422.4 1389.4h0M443.2 1439.4h0M430.0 1388.8h0M439.6 1410.4h0M447.0 1483.7h0M455.4 1391.4h0M435.1 1416.8h0M412.0 1450.0h0M448.5 1431.2h0M447.2 1477.7h0M433.3 1407.3h0M454.0 1393.8h0M473.9 1368.3h0M455.1 1389.7h0M450.4 1459.1h0M453.4 1412.7h0M464.2 1470.7h0M438.5 1424.0h0M426.5 1463.1h0M415.0 1383.4h0M359.1 1449.6h0M477.5 1394.3h0M474.7 1469.6h0M417.1 1458.3h0M449.1 1424.2h0M465.2 1393.5h0M442.8 1430.1h0M464.8 1473.1h0M463.3 1421.8h0M334.4 1481.2h0M434.5 1424.7h0"/>
<path d="M464.1 1371.4h0M458.4 1363.9h0M445.5 1480.2h0M477.8 1458.6h0M387.8 1327.2h0M471.0 1381.2h0M466.2 1487.0h0M458.3 1427.3h0M453.4 1427.1h0M476.4 1364.1h0M476.0 1479.3h0M448.2 1431.0h0M469.6 1466.3h0M474.0 1350.2h0M449.5 1444.9h0M469.1 1378.1h0M354.1 1465.3h0M451.9 1437.3h0M419.5 1452.3h0M464.6 1378.5h0M421.1 1363.2h0M473.7 1484.2h0M472.2 1377.3h0M430.3 1485.3h0M452.4 1465.9h0M444.6 1415.0h0M455.7 1427.8h0M470.4 1374.0h0M461.2 1471.2h0M447.5 1469.9h0M475.2 1398.5h0M428.9 1425.5h0M421.0 1424.5h0M476.2 1440.4h0M424.3 1444.0h0M450.2 1467.8h0M458.2 1380.3h0M445.5 1399.7h0M434.8 1429.4h0M438.4 1448.0h0M437.9 1378.5h0M442.1 1367.7h0M454.4 1397.7h0M455.4 1332.5h0M476.4 1371.1h0M475.5 1460.0h0M426.1 1416.1h0M463.5 1345.2h0M446.6 1434.6h0M442.6 1366.6h0M407.6 1470.0h0M425.4 1379.0h0M449.4 1361.9h0M460.3 1435.4h0M463.8 1401.0h0M452.7 1473.8h0M385.5 1457.7h0M383.4 1366.4h0M458.7 1486.6h0M344.2 1440.9h0M458.7 1421.0h0M461.3 1392.5h0M431.3 1431.6h0M471.5 1372.6h0M468.9 1370.9h0M444.6 1438.8h0M430.2 1356.1h0M442.0 1476.4h0M395.6 1366.1h0M477.5 1383.4h0M465.9 1423.0h0M437.1 1396.5h0M333.5 1467.0h0M472.7 1355.7h0M412.7 1468.2h0M460.4 1355.0h0M475.2 1380.2h0M458.5 1452.4h0M450.9 1365.4h0M465.0 1444.2h0M410.5 1451.8h0M392.6 1477.9h0M460.6 1339.8h0M457.5 1412.1h0M431.3 1365.2h0M475.7 1380.9h0M433.3 1460.7h0M475.6 1371.7h0M466.9 1372.7h0M434.7 1358.2h0M430.5 1415.1h0M470.4 1454.2h0M456.2 1345.3h0M370.7 1454.6h0M398.1 1479.3h0M456.4 1394.4h0M459.3 1484.6h0M443.9 1390.6h0M449.7 1444.5h0M445.8 1409.0h0M448.3 1395.3h0M406.9 1471.0h0M452.2 1398.4h0M428.5 1489.2h0M462.1 1451.1h0M439.6 1395.5h0M450.3 1423.0h0M331.0 1468.2h0M439.7 1462.2h0M427.8 1481.8h0M422.4 1461.7h0M428.7 1420.0h0M339.3 1480.3h0M459.5 1420.8h0M416.0 1487.1h0M387.3 1380.9h0M438.2 1489.0h0M468.3 1330.2h0M439.2 1479.0h0M434.6 1484.3h0M378.8 1376.6h0M453.9 1367.7h0M446.5 1458.6h0M427.1 1351.0h0M464.5 1389.7h0M382.8 1466.3h0M453.8 1406.6h0M458.9 1464.6h0M462.5 1425.1h0M455.0 1432.5h0M427.2 1487.8h0M421.8 1386.4h0M475.7 1485.1h0M414.4 1486.8h0M425.1 1415.0h0M447.9 1384.4h0M452.4 1486.7h0M424.9 1439.7h0M428.2 1355.8h0M444.4 1409.9h0M442.8 1442.1h0M450.8 1359.8h0M439.3 1358.9h0M414.3 1453.6h0M413.2 1468.0h0M428.5 1436.6h0M440.3 1436.0h0M412.6 1374.1h0M470.5 1436.3h0M460.7 1370.7h0M459.3 1485.1h0M438.8 1470.2h0M419.2 1318.7h0M472.4 1355.4h0M439.0 1375.5h0M410.6 1356.8h0M411.1 1349.4h0M473.9 1455.8h0M452.1 1336.7h0M461.6 1473.4h0M450.7 1487.6h0M465.3 1436.5h0M471.3 1413.2h0M339.8 1470.1h0M463.1 1383.0h0M435.7 1333.8h0M430.7 1470.8h0M411.4 1488.8h0M434.3 1428.1h0M460.4 1413.9h0M455.4 1419.1h0M431.4 1414.5h0M464.6 1414.5h0M447.8 1374.3h0M477.5 1366.5h0M460.6 1466.3h0M455.5 1482.3h0M429.2 1475.5h0M394.0 1457.1h0M373.3 1448.6h0M438.6 1321.5h0M360.2 1416.4h0M457.0 1390.3h0M471.8 1367.1h0M441.1 1427.7h0M457.6 1366.5h0M435.6 1347.1h0M466.1 1447.7h0M455.5 1442.9h0M429.6 1468.5h0M436.3 1354.8h0M451.5 1362.9h0M447.5 1460.9h0M433.1 1462.1h0M463.8 1375.7h0M438.4 1482.0h0M458.2 1478.2h0M440.0 1394.3h0M453.9 1389.0h0M459.5 1396.0h0M410.2 1474.2h0M466.2 1427.5h0M475.0 1420.2h0M471.8 1362.5h0M467.6 1362.5h0M473.0 1439.8h0M437.7 1403.2h0M343.7 1452.9h0M433.5 1462.5h0M449.5 1424.8h0M437.6 1446.9h0M440.8 1404.9h0M474.0 1445.2h0M437.8 1436.6h0M474.7 1489.3h0M464.4 1448.0h0M370.2 1436.0h0M438.1 1459.8h0M475.4 1336.6h0M447.3 1382.3h0M458.6 1383.7h0M399.4 1471.2h0M469.7 1365.2h0M465.5 1423.0h0M447.2 1388.4h0M471.8 1354.8h0M446.4 1479.6h0M391.8 1442.2h0M453.9 1383.2h0M449.8 1324.5h0M421.0 1409.5h0M460.2 1478.5h0M460.2 1431.6h0M339.2 1442.1h0M464.5 1452.3h0M466.1 1397.9h0M454.3 1434.6h0M453.4 1469.0h0M466.4 1462.8h0M448.8 1439.4h0M414.7 1468.2h0M455.9 1393.2h0M427.9 1483.4h0M445.8 1440.3h0M474.5 1367.5h0M459.3 1452.5h0M420.6 1453.3h0M429.1 1446.7h0M474.3 1421.7h0M439.6 1401.8h0M445.6 1452.4h0M467.7 1470.1h0M458.3 1421.6h0M453.5 1455.7h0M423.4 1445.5h0M474.1 1421.0h0M455.1 1427.0h0M449.0 1400.1h0M473.8 1394.9h0M332.6 1488.2h0M460.4 1446.8h0M408.7 1340.3h0M412.7 1479.2h0M464.8 1389.0h0M386.6 1414.8h0M476.4 1406.4h0M465.3 1455.3h0M474.6 1349.0h0M461.4 1483.1h0M444.1 1422.2h0M465.4 1484.5h0M446.3 1479.4h0M437.1 1454.8h0M471.2 1377.0h0M441.7 1477.4h0M434.2 1428.0h0M390.0 1442.7h0M465.1 1484.4h0M375.2 1487.9h0M453.4 1459.4h0M363.3 1436.7h0M431.7 1450.2h0M451.0 1390.5h0M343.5 1386.8h0M467.3 1396.2h0M476.8 1385.8h0M341.2 1412.3h0M466.8 1472.5h0M426.9 1486.3h0M453.1 1410.4h0M448.0 1340.0h0M383.2 1387.3h0M467.2 1396.8h0M431.8 1426.6h0M341.2 1427.9h0M441.6 1462.6h0M426.1 1330.6h0M417.2 1348.2h0M462.6 1440.0h0M414.8 1475.5h0M467.5 1465.0h0"/>
<path d="M448.2 1337.0h0M426.9 1426.1h0M426.4 1444.7h0M445.3 1456.8h0M468.1 1487.4h0M457.5 1368.2h0M447.6 1412.0h0M477.5 1418.1h0M439.5 1435.8h0M473.6 1430.6h0M465.4 1362.7h0M419.3 1431.0h0M360.2 1374.2h0M472.6 1447.1h0M450.9 1379.5h0M433.8 1437.0h0M418.4 1397.8h0M477.8 1441.4h0M453.1 1410.0h0M395.8 1426.3h0M417.6 1442.8h0M453.1 1365.9h0M458.6 1480.7h0M426.8 1466.7h0M421.5 1422.2h0M388.7 1389.1h0M444.4 1414.1h0M461.6 1423.8h0M468.7 1397.9h0M407.7 1458.0h0M456.9 1452.4h0M418.4 1479.7h0M463.5 1337.2h0M413.4 1475.8h0M410.9 1453.8h0M433.2 1351.7h0M463.1 1367.3h0M434.9 1406.9h0M445.4 1485.7h0M436.0 1422.9h0M473.3 1467.3h0M472.0 1376.4h0M425.1 1468.2h0M445.8 1454.8h0M423.7 1403.2h0M447.3 1465.4h0M431.5 1354.6h0M446.7 1408.3h0M464.5 1448.0h0M468.6 1441.6h0M466.4 1467.0h0M436.1 1343.4h0M467.2 1385.8h0M431.6 1372.3h0M457.9 1407.0h0M460.8 1456.5h0M457.0 1482.2h0M474.5 1419.0h0M408.2 1417.0h0M399.9 1474.5h0M450.1 1456.5h0M433.6 1413.5h0M403.8 1397.6h0M463.7 1398.9h0M435.2 1354.8h0M473.5 1356.8h0M377.5 1352.7h0M415.1 1434.5h0M468.2 1341.4h0M472.4 1488.3h0M435.0 1475.2h0M432.7 1459.3h0M395.6 1347.4h0M476.1 1433.2h0M383.6 1484.4h0M468.0 1457.3h0M442.2 1461.0h0M419.0 1474.9h0M472.1 1361.7h0M432.9 1475.0h0M459.2 1396.1h0M436.9 1440.8h0M417.3 1460.6h0M459.2 1427.3h0M418.9 1356.6h0M447.6 1435.3h0M448.1 1463.0h0M412.8 1329.3h0M462.9 1415.4h0M448.3 1343.8h0M277.8 1487.6h0M413.1 1442.9h0M467.8 1414.3h0M445.5 1450.9h0M454.4 1481.0h0M472.1 1403.2h0M350.4 1435.1h0M471.1 1429.6h0M468.0 1475.2h0M455.3 1385.0h0M372.3 1455.3h0M474.6 1397.9h0M473.2 1466.0h0M423.6 1342.3h0M457.8 1439.2h0M404.5 1452.0h0M461.4 1426.3h0M452.6 1410.6h0M421.6 1429.6h0M430.3 1448.8h0M443.9 1362.9h0M454.7 1487.7h0M429.7 1484.1h0M450.5 1385.2h0M475.4 1403.6h0M424.9 1428.9h0M477.7 1392.9h0M456.5 1476.1h0M467.3 1437.0h0M476.8 1432.4h0M433.6 1451.2h0M445.3 1471.1h0M419.9 1433.6h0M409.2 1473.5h0M463.8 1470.3h0M420.0 1471.6h0M437.9 1473.2h0M450.1 1465.0h0M429.3 1419.6h0M463.7 1383.6h0M477.7 1404.8h0M464.6 1369.8h0M476.3 1366.2h0M477.6 1424.9h0M476.4 1359.8h0M277.5 1449.6h0M461.0 1438.1h0M454.0 1451.1h0M428.9 1437.7h0M462.1 1433.0h0M460.7 1433.2h0M413.4 1457.7h0M431.4 1434.3h0M429.1 1448.2h0M445.8 1474.5h0M476.4 1361.7h0M442.8 1399.7h0M447.5 1418.9h0M466.8 1468.2h0M415.2 1438.4h0M430.8 1328.5h0M462.0 1453.1h0M455.9 1424.5h0M413.3 1357.4h0M433.9 1362.2h0M461.4 1420.7h0M475.8 1327.7h0M469.8 1385.9h0M431.2 1445.4h0M437.1 1399.1h0M435.4 1464.2h0M415.7 1376.1h0M419.3 1435.6h0M465.8 1336.2h0M447.3 1394.1h0M424.3 1486.9h0M444.2 1316.1h0M431.9 1481.2h0M447.3 1327.9h0M409.4 1473.1h0M461.5 1435.5h0M432.8 1407.0h0M440.8 1363.9h0M469.3 1428.4h0M451.2 1386.1h0M433.8 1438.7h0M426.3 1480.7h0M475.2 1488.7h0M443.7 1420.5h0M415.4 1413.8h0M422.3 1402.1h0M411.8 1455.4h0M421.5 1473.6h0M473.8 1323.4h0M347.7 1488.0h0M442.6 1479.0h0M445.5 1418.7h0M420.1 1362.7h0M458.4 1375.3h0M456.3 1440.9h0M414.8 1352.0h0M476.8 1425.9h0M440.9 1468.7h0M441.0 1415.0h0M408.5 1460.6h0M477.4 1440.1h0M437.1 1432.4h0M465.2 1406.3h0M435.6 1441.4h0M463.1 1437.8h0M462.8 1400.0h0M373.5 1376.5h0M433.6 1383.3h0M446.5 1426.9h0M391.2 1471.3h0M431.2 1465.8h0M474.3 1358.4h0M471.4 1427.1h0M465.1 1306.7h0M430.2 1440.9h0M472.0 1471.6h0M446.0 1396.4h0M432.6 1422.8h0M456.0 1465.6h0M426.5 1473.8h0M440.9 1459.9h0M428.6 1464.1h0M456.0 1419.6h0M443.0 1475.7h0M430.8 1387.5h0M463.8 1451.7h0M415.6 1481.2h0M464.8 1368.2h0M385.2 1469.4h0M376.3 1451.5h0M451.3 1462.5h0M421.8 1459.2h0M439.9 1443.4h0M430.3 1449.6h0M410.8 1449.6h0M449.3 1427.2h0M443.4 1464.8h0M439.4 1439.2h0M478.6 1374.1h0M447.9 1431.1h0M436.4 1420.8h0M438.6 1431.8h0M453.7 1400.1h0M444.3 1415.2h0M355.4 1470.4h0M451.9 1476.1h0M420.5 1473.7h0M474.0 1444.4h0M461.2 1386.0h0M356.1 1456.3h0M427.7 1425.8h0M434.0 1445.9h0M438.4 1408.7h0M461.6 1370.1h0M461.2 1380.3h0M474.6 1482.3h0M474.0 1417.9h0M433.7 1429.3h0M478.6 1420.4h0M475.8 1381.9h0M470.0 1420.0h0M454.7 1457.1h0M432.8 1427.0h0M444.8 1347.3h0M467.7 1391.5h0M471.3 1436.7h0M478.1 1488.8h0M443.4 1354.2h0M430.9 1359.4h0M477.1 1485.5h0M434.2 1487.3h0M478.3 1366.8h0M419.3 1461.3h0M413.2 1435.4h0M453.2 1394.8h0M460.1 1326.7h0M470.8 1414.0h0M424.1 1488.6h0M430.4 1405.2h0M419.0 1482.9h0M409.5 1419.2h0M439.3 1400.2h0M477.9 1424.9h0M467.9 1436.6h0M414.6 1458.0h0M466.0 1345.6h0M454.3 1426.3h0M469.2 1431.0h0M467.5 1375.2h0M450.1 1472.0h0M436.6 1467.8h0M412.9 1470.8h0M354.6 1459.6h0M460.2 1381.9h0M429.1 1389.3h0M457.1 1394.8h0M407.6 1458.4h0M453.9 1468.7h0M468.6 1486.1h0M424.9 1455.8h0M434.4 1425.5h0M452.5 1437.5h0M472.6 1489.0h0M451.2 1466.3h0M465.2 1478.0h0M471.0 1365.2h0"/>
<path d="M431.0 1483.5h0M422.9 1424.5h0M469.0 1476.6h0M455.0 1389.4h0M428.7 1427.5h0M476.1 1376.9h0M450.5 1447.4h0M429.5 1445.2h0M462.8 1458.7h0M439.7 1396.5h0M409.8 1479.6h0M456.5 1479.6h0M449.6 1482.5h0M399.2 1418.2h0M430.9 1455.9h0M434.2 1427.2h0M450.8 1368.3h0M477.4 1459.5h0M459.8 1368.8h0M377.8 1463.4h0M430.8 1447.4h0M438.3 1452.5h0M475.2 1406.8h0M464.9 1350.8h0M346.9 1399.9h0M436.8 1448.5h0M414.4 1360.0h0M460.3 1392.9h0M380.5 1484.7h0M464.8 1352.3h0M449.0 1456.3h0M467.8 1483.0h0M399.5 1467.5h0M457.2 1414.6h0M461.6 1370.4h0M471.1 1338.0h0M423.0 1468.3h0M464.6 1416.7h0M453.5 1457.4h0M437.2 1418.8h0M455.3 1404.4h0M450.2 1347.4h0M443.2 1399.2h0M472.7 1422.0h0M441.3 1407.4h0M464.7 1441.7h0M455.0 1393.5h0M446.0 1486.3h0M395.7 1443.9h0M440.6 1412.8h0M475.0 1406.8h0M396.8 1363.1h0M433.4 1456.8h0M438.6 1343.3h0M456.7 1317.4h0M463.4 1383.4h0M435.7 1455.5h0M452.1 1463.5h0M463.3 1321.2h0M416.5 1476.3h0M444.8 1439.9h0M467.4 1435.1h0M427.7 1461.8h0M431.9 1432.9h0M457.0 1359.5h0M424.5 1477.4h0M417.4 1454.5h0M413.5 1451.0h0M421.7 1365.2h0M445.0 1352.7h0M402.9 1488.8h0M412.3 1456.6h0M456.1 1374.7h0M445.4 1406.0h0M478.0 1422.2h0M414.1 1317.8h0M476.3 1420.4h0M457.7 1439.1h0M408.2 1482.2h0M438.4 1467.3h0M431.0 1432.2h0M425.1 1468.6h0M385.2 1446.9h0M468.1 1428.1h0M459.8 1395.8h0M469.6 1470.7h0M464.2 1461.3h0M471.5 1400.3h0M422.9 1475.1h0M376.2 1478.7h0M436.9 1484.1h0M451.8 1390.1h0M478.0 1449.9h0M431.5 1473.0h0M425.9 1480.4h0M443.1 1367.9h0M465.7 1453.9h0M432.5 1443.5h0M419.6 1424.6h0M443.0 1405.6h0M434.1 1455.7h0M460.1 1449.0h0M442.1 1431.5h0M389.5 1443.5h0M383.9 1403.9h0M367.3 1387.0h0M422.1 1449.0h0M466.0 1339.9h0M472.3 1458.5h0M464.8 1405.3h0M450.4 1400.7h0M437.5 1427.0h0M476.8 1482.2h0M445.2 1394.8h0M474.9 1361.9h0M440.7 1441.6h0M421.9 1477.7h0M458.7 1429.0h0M448.0 1424.9h0M459.9 1428.0h0M429.6 1450.8h0M455.6 1363.6h0M455.4 1316.1h0M415.1 1356.3h0M471.5 1434.1h0M362.9 1380.9h0M424.0 1442.2h0M442.7 1438.3h0M413.6 1445.8h0M469.0 1437.3h0M351.5 1411.9h0M460.4 1386.7h0M437.6 1443.5h0M442.1 1408.3h0M463.5 1410.3h0M430.4 1443.1h0M472.4 1448.9h0M408.6 1463.8h0M457.0 1403.5h0M437.1 1461.1h0M471.5 1486.3h0M392.8 1441.2h0M394.4 1409.9h0M429.4 1414.3h0M406.5 1420.3h0M431.8 1408.7h0M477.4 1428.3h0M423.3 1485.6h0M422.2 1361.0h0M411.9 1488.5h0M476.1 1470.3h0M424.9 1383.5h0M413.9 1355.5h0M397.6 1409.6h0M469.9 1376.5h0M453.2 1478.7h0M451.4 1435.9h0M465.6 1481.2h0M419.4 1451.1h0M467.2 1485.9h0M460.8 1483.0h0M422.0 1432.3h0M462.8 1471.1h0M447.4 1439.4h0M450.7 1334.4h0M433.0 1402.1h0M461.0 1376.1h0M476.8 1420.3h0M437.8 1431.9h0M313.2 1480.1h0M444.2 1462.1h0M450.1 1478.5h0M473.7 1403.0h0M463.0 1396.1h0M423.0 1433.1h0M465.6 1406.5h0M411.3 1475.4h0M424.3 1355.2h0M426.8 1488.3h0M400.7 1456.6h0M421.2 1447.8h0M414.5 1355.0h0M450.3 1422.5h0M454.4 1382.4h0M452.3 1466.7h0M428.8 1451.4h0M408.7 1486.6h0M467.1 1458.7h0M468.5 1386.0h0M390.7 1439.5h0M382.7 1461.5h0M445.9 1460.7h0M449.0 1351.8h0M371.0 1480.4h0M423.4 1340.9h0M476.6 1487.5h0M469.8 1338.6h0M465.1 1389.1h0M427.8 1333.7h0M418.1 1447.0h0M437.4 1487.7h0M462.6 1473.5h0M412.5 1470.4h0M429.1 1435.0h0M469.7 1477.2h0M451.0 1432.8h0M431.2 1314.2h0M447.2 1484.9h0M445.6 1485.4h0M458.5 1408.6h0M469.8 1419.8h0M449.0 1400.5h0M464.0 1342.6h0M412.3 1457.2h0M418.9 1488.1h0M475.9 1448.1h0M466.4 1448.8h0M469.0 1430.0h0M446.5 1436.2h0M429.3 1408.4h0M430.4 1462.1h0M465.0 1449.1h0M374.7 1377.2h0M411.7 1482.3h0M424.4 1466.7h0M408.5 1480.7h0M449.9 1400.6h0M446.6 1467.5h0M463.3 1441.1h0M414.6 1458.2h0M423.6 1476.4h0M437.9 1310.9h0M403.3 1409.6h0M472.2 1392.9h0M471.7 1364.7h0M468.3 1362.2h0M478.4 1354.1h0M445.0 1439.8h0M452.8 1419.6h0M424.6 1444.2h0M408.1 1462.6h0M454.1 1467.2h0M360.7 1437.1h0M466.1 1453.6h0M412.2 1405.2h0M348.6 1446.7h0M347.5 1458.3h0M426.2 1471.9h0M474.7 1397.3h0M464.1 1445.2h0M435.4 1434.5h0M431.8 1472.6h0M463.1 1385.8h0M457.1 1469.2h0M447.9 1467.4h0M428.3 1408.9h0M407.6 1479.2h0M439.0 1488.8h0M402.0 1404.8h0M469.2 1363.7h0M433.8 1433.8h0M333.5 1446.7h0M436.2 1437.4h0M430.3 1373.0h0M365.8 1478.5h0M435.6 1361.5h0M422.9 1421.6h0M475.6 1360.8h0M431.4 1433.0h0M448.3 1451.2h0M461.4 1389.8h0M435.8 1421.8h0M440.1 1462.5h0M474.1 1375.1h0M429.8 1455.4h0M358.7 1322.0h0M461.0 1376.5h0M470.7 1468.3h0M475.7 1384.9h0M476.4 1413.1h0M476.6 1442.6h0M428.8 1408.4h0M428.2 1388.8h0M454.8 1469.9h0M453.0 1373.1h0M417.3 1487.8h0M449.2 1471.5h0M444.4 1459.6h0M439.0 1406.0h0M476.4 1428.2h0M449.3 1405.7h0M474.4 1487.2h0M435.9 1398.9h0M442.0 1456.2h0M411.9 1458.7h0M458.2 1338.3h0M414.5 1446.3h0M465.6 1407.3h0M471.2 1310.4h0M441.0 1473.1h0M449.4 1392.3h0"/>
<path d="M382.3 1423.8h0M413.9 1484.1h0M436.2 1480.4h0M467.5 1441.2h0M467.6 1377.4h0M464.7 1375.1h0M453.7 1386.8h0M478.2 1428.4h0M419.9 1392.8h0M381.6 1376.2h0M459.7 1393.4h0M475.8 1464.3h0M454.2 1480.3h0M466.3 1420.7h0M466.2 1387.7h0M452.8 1431.4h0M455.8 1468.5h0M460.7 1378.6h0M433.6 1324.2h0M453.3 1435.8h0M404.9 1469.1h0M454.9 1454.2h0M426.8 1465.2h0M472.9 1472.5h0M446.8 1450.8h0M473.9 1479.1h0M438.4 1447.8h0M433.8 1456.9h0M408.8 1479.6h0M461.3 1404.4h0M435.1 1488.6h0M474.1 1406.6h0M461.3 1445.0h0M415.5 1458.6h0M455.7 1426.0h0M475.5 1388.8h0M477.6 1477.4h0M422.6 1394.1h0M416.4 1452.2h0M436.4 1457.7h0M477.2 1348.7h0M455.5 1482.9h0M464.5 1454.7h0M429.4 1422.5h0M442.3 1458.2h0M476.4 1345.0h0M443.0 1311.9h0M468.9 1473.9h0M440.1 1350.2h0M464.2 1348.2h0M380.0 1447.7h0M472.1 1415.3h0M438.0 1477.1h0M472.7 1361.7h0M478.3 1329.1h0M426.0 1470.5h0M436.8 1438.7h0M409.3 1486.0h0M457.2 1389.6h0M419.8 1485.1h0M427.3 1419.8h0M431.2 1346.0h0M470.4 1386.2h0M455.1 1462.8h0M465.6 1484.8h0M468.7 1386.7h0M430.1 1482.1h0M423.8 1449.3h0M466.9 1356.9h0M277.5 1487.3h0M406.7 1445.6h0M436.2 1429.8h0M465.7 1362.6h0M449.7 1436.1h0M460.0 1457.3h0M424.0 1331.1h0M426.9 1480.8h0M445.7 1332.9h0M363.1 1377.1h0M451.6 1470.8h0M421.8 1409.2h0M453.6 1349.8h0M455.3 1388.1h0M434.1 1460.8h0M427.9 1464.1h0M469.1 1348.7h0M445.9 1420.1h0M472.1 1453.8h0M467.7 1449.9h0M418.6 1484.0h0M415.0 1487.0h0M464.4 1477.7h0M433.4 1404.9h0M460.1 1356.6h0M443.0 1469.2h0M430.4 1488.6h0M375.5 1333.6h0M463.9 1450.1h0M447.4 1480.7h0M442.4 1473.2h0M421.3 1475.7h0M395.6 1314.3h0M465.4 1461.4h0M469.8 1472.8h0M416.4 1444.1h0M443.9 1420.7h0M430.6 1436.4h0M413.6 1444.1h0M454.3 1418.9h0M452.9 1447.4h0M337.2 1398.3h0M419.9 1483.6h0M425.1 1478.8h0M445.0 1410.7h0M460.3 1368.2h0M444.6 1395.4h0M454.8 1346.7h0M474.4 1409.8h0M436.9 1439.9h0M465.7 1402.7h0M458.3 1456.4h0M427.6 1477.9h0M376.9 1458.7h0M459.3 1438.5h0M466.5 1432.2h0M450.9 1382.5h0M458.0 1399.9h0M465.1 1384.8h0M422.4 1481.5h0M473.4 1390.0h0M466.6 1431.2h0M454.3 1440.3h0M465.7 1476.9h0M423.6 1357.7h0M438.8 1470.4h0M453.5 1457.7h0M459.0 1444.6h0M448.4 1376.1h0M428.7 1449.3h0M465.9 1389.4h0M432.3 1455.6h0M477.7 1372.0h0M426.9 1429.9h0M400.8 1332.8h0M469.0 1345.8h0M470.8 1448.8h0M417.3 1421.0h0M450.6 1378.8h0M433.5 1444.7h0M446.1 1463.8h0M431.9 1371.1h0M410.3 1456.0h0M441.6 1417.6h0M440.7 1426.0h0M440.3 1433.5h0M471.3 1450.2h0M459.0 1395.4h0M426.4 1469.0h0M466.6 1397.3h0M424.8 1417.5h0M416.4 1459.4h0M444.7 1421.9h0M473.6 1361.9h0M345.1 1418.1h0M442.4 1380.7h0M420.8 1447.9h0M384.1 1395.1h0M451.7 1410.9h0M337.3 1445.1h0M453.7 1469.9h0M420.4 1447.4h0M437.5 1350.7h0M458.9 1457.0h0M410.4 1480.2h0M471.0 1413.4h0M458.7 1378.6h0M405.3 1462.3h0M443.9 1487.8h0M440.3 1447.6h0M461.7 1489.3h0M452.3 1388.6h0M466.2 1364.3h0M474.0 1411.6h0M431.3 1313.6h0M466.5 1402.8h0M424.9 1438.0h0M451.8 1466.6h0M444.4 1480.4h0M462.1 1420.1h0M395.7 1452.8h0M443.2 1420.2h0M467.3 1481.8h0M424.8 1404.5h0M427.5 1408.4h0M369.4 1462.5h0M392.6 1425.4h0M417.2 1401.4h0M369.3 1447.4h0M412.2 1459.0h0M425.2 1439.4h0M468.9 1419.7h0M448.8 1447.7h0M417.3 1449.0h0M453.8 1416.1h0M414.9 1484.0h0M472.5 1488.9h0M387.4 1486.6h0M457.3 1380.6h0M419.0 1430.8h0M475.8 1390.7h0M454.9 1366.9h0M440.3 1391.1h0M463.2 1438.0h0M477.0 1385.9h0M417.5 1435.6h0M437.9 1358.1h0M432.0 1382.0h0M446.4 1405.0h0M454.0 1401.1h0M439.0 1448.8h0M454.4 1464.8h0M445.0 1477.5h0M411.5 1466.3h0M444.8 1452.1h0M387.4 1409.2h0M469.1 1470.0h0M422.8 1336.3h0M446.1 1435.0h0M466.9 1314.1h0M467.4 1365.1h0M472.6 1471.9h0M433.8 1421.2h0M431.4 1447.3h0M328.3 1486.4h0M456.3 1468.5h0M465.9 1362.3h0M416.2 1469.9h0M476.0 1431.7h0M478.1 1390.1h0M426.2 1480.2h0M433.7 1413.2h0M475.8 1470.2h0M452.5 1388.3h0M469.0 1400.7h0M441.0 1484.8h0M379.1 1446.0h0M435.3 1355.2h0M425.5 1449.5h0M460.7 1463.2h0M455.3 1375.0h0M469.2 1413.2h0M465.8 1418.4h0M442.1 1401.2h0M458.4 1393.6h0M420.9 1447.9h0M414.0 1478.6h0M467.8 1347.8h0M442.5 1485.5h0M436.9 1451.1h0M424.1 1352.5h0M474.8 1357.0h0M458.4 1360.3h0M426.1 1407.9h0M437.2 1476.3h0M424.0 1403.3h0M436.9 1427.6h0M465.4 1322.8h0M454.0 1450.4h0M389.1 1387.2h0M464.3 1486.8h0M443.1 1457.1h0M448.8 1475.4h0M465.2 1487.7h0M443.6 1409.7h0M426.7 1435.3h0M418.4 1424.9h0M463.2 1399.7h0M468.3 1430.3h0M475.7 1356.9h0M404.1 1416.5h0M345.1 1460.9h0M420.5 1440.1h0M474.1 1373.6h0M443.2 1430.9h0M458.4 1485.0h0M467.4 1414.7h0M424.2 1463.4h0M460.6 1457.9h0M425.1 1440.2h0M466.5 1473.4h0M473.8 1469.0h0M455.0 1383.2h0M456.0 1454.4h0M277.5 1404.7h0M465.2 1412.6h0M430.9 1479.9h0M453.0 1432.2h0M460.5 1471.3h0M389.1 1364.6h0M478.2 1418.0h0M464.9 1428.6h0"/>
</g>
<path d="M513.3 1489.3L513.3 1396.0L522.5 1396.0L537.0 1419.2L548.6 1448.2L551.5 1489.3Z" fill="#7f7f7f" stroke="#7f7f7f" stroke-width="6.5" stroke-linejoin="round" opacity="0.62"/>
<g stroke="#7f7f7f" stroke-opacity="0.36" stroke-width="8" stroke-linecap="round" fill="none">
<path d="M614.0 1421.3h0M540.6 1463.0h0M528.3 1486.3h0M529.8 1419.3h0M519.4 1441.1h0M520.8 1454.3h0M559.5 1420.0h0M632.2 1451.4h0M624.0 1410.5h0M519.2 1420.9h0M548.3 1437.9h0M596.9 1464.3h0M523.6 1437.7h0M516.2 1378.0h0M618.4 1457.5h0M517.3 1452.5h0M594.0 1408.5h0M527.6 1478.3h0M516.7 1477.9h0M549.2 1456.3h0M531.0 1441.1h0M538.9 1450.3h0M591.7 1445.0h0M523.6 1424.9h0M515.5 1479.3h0M515.1 1425.9h0M545.5 1458.9h0M518.8 1383.9h0M544.6 1466.0h0M616.0 1432.0h0M529.6 1413.6h0M522.1 1484.3h0M531.5 1424.6h0M520.5 1470.7h0M608.7 1467.2h0M546.3 1479.8h0M578.8 1482.7h0M574.9 1442.4h0M536.2 1464.3h0M528.6 1427.9h0M527.7 1488.9h0M520.7 1454.2h0M524.8 1394.8h0M533.6 1428.5h0M531.1 1451.6h0M531.1 1442.9h0M546.0 1454.7h0M600.8 1367.0h0M535.7 1448.6h0M548.2 1407.0h0M580.3 1418.5h0M612.2 1427.9h0M531.7 1399.5h0M619.3 1475.1h0M528.2 1438.4h0M542.3 1422.7h0M520.8 1442.6h0M532.0 1420.4h0M552.3 1469.8h0M554.2 1485.3h0M635.9 1480.5h0M533.0 1402.1h0M526.7 1444.5h0M550.5 1466.8h0M598.5 1463.6h0M536.5 1476.7h0M537.3 1486.6h0M546.3 1446.5h0M555.9 1461.6h0M522.7 1419.1h0M559.2 1454.6h0M523.5 1391.0h0M534.6 1353.1h0M520.0 1392.3h0M631.5 1465.6h0M516.4 1477.3h0M554.9 1487.8h0M526.3 1413.5h0M521.3 1487.2h0M527.2 1474.7h0M529.0 1424.6h0M542.1 1424.2h0M521.9 1476.5h0M581.4 1416.3h0M522.1 1393.9h0M536.7 1429.1h0M544.1 1421.5h0M513.5 1387.6h0M517.3 1421.6h0M545.6 1474.8h0M513.7 1407.0h0M525.9 1437.5h0M548.1 1448.2h0M539.3 1446.0h0M520.4 1399.5h0M622.3 1477.6h0M530.0 1468.1h0M514.8 1397.6h0M531.3 1414.0h0M531.7 1409.2h0M525.6 1468.5h0M521.8 1411.2h0M519.0 1428.0h0M549.0 1454.6h0M533.3 1407.8h0M527.5 1389.1h0M527.8 1481.9h0M589.6 1483.0h0M570.8 1437.6h0M631.3 1440.5h0M571.0 1462.0h0M544.0 1449.9h0M520.7 1382.2h0M516.2 1475.3h0M636.8 1481.5h0M604.8 1430.6h0M552.0 1417.3h0M529.4 1425.1h0M521.6 1478.5h0M567.8 1468.7h0M523.4 1376.7h0M540.6 1423.3h0M539.8 1479.7h0M523.1 1429.2h0M563.1 1417.8h0M637.1 1407.6h0M550.8 1441.7h0M532.4 1485.4h0M543.0 1439.5h0M531.0 1397.2h0M514.3 1431.6h0M568.4 1472.8h0M518.7 1353.4h0M536.9 1408.1h0M542.4 1468.6h0M521.5 1407.3h0M523.4 1470.0h0M518.7 1390.2h0M572.6 1442.0h0"/>
<path d="M543.1 1417.8h0M525.4 1431.1h0M517.6 1470.7h0M514.8 1427.3h0M516.9 1354.7h0M530.0 1442.5h0M540.7 1454.3h0M601.4 1417.8h0M549.1 1432.9h0M540.4 1471.5h0M641.3 1484.8h0M614.3 1470.6h0M578.0 1463.7h0M520.7 1468.1h0M518.5 1429.2h0M524.5 1405.9h0M520.0 1432.3h0M530.7 1457.9h0M520.3 1414.5h0M523.0 1403.6h0M534.6 1457.7h0M532.8 1476.7h0M522.0 1422.8h0M547.5 1435.4h0M532.5 1409.0h0M527.6 1392.2h0M549.1 1390.9h0M529.5 1477.5h0M520.9 1444.0h0M544.5 1452.5h0M523.0 1398.7h0M534.5 1438.9h0M567.5 1394.7h0M518.2 1471.3h0M539.8 1431.0h0M568.0 1477.6h0M520.7 1454.4h0M519.8 1427.2h0M537.0 1464.8h0M519.5 1397.2h0M531.4 1454.0h0M530.1 1435.4h0M520.1 1391.2h0M527.5 1354.0h0M592.7 1428.2h0M515.7 1338.5h0M520.6 1399.0h0M544.5 1470.9h0M524.7 1397.7h0M527.6 1405.6h0M569.4 1439.4h0M513.7 1388.2h0M521.3 1462.2h0M518.1 1378.3h0M516.7 1474.3h0M530.7 1482.1h0M515.7 1414.1h0M562.8 1474.3h0M546.4 1482.4h0M546.1 1443.3h0M523.1 1426.3h0M527.4 1416.1h0M587.5 1471.1h0M519.4 1401.7h0M596.4 1471.6h0M545.3 1466.7h0M518.9 1390.3h0M628.4 1454.5h0M530.6 1415.3h0M513.7 1457.9h0M518.8 1479.8h0M556.5 1470.5h0M552.8 1456.5h0M534.7 1446.7h0M531.3 1417.8h0M598.9 1463.9h0M513.9 1370.4h0M520.1 1392.4h0M534.3 1453.2h0M517.9 1347.8h0M527.3 1450.4h0M518.9 1405.8h0M536.5 1489.2h0M531.0 1417.4h0M514.6 1427.9h0M577.0 1480.8h0M539.8 1486.8h0M545.9 1441.6h0M529.4 1392.2h0M537.8 1458.3h0M523.5 1483.5h0M533.0 1485.8h0M529.5 1418.8h0M514.5 1384.0h0M544.1 1449.2h0M521.8 1368.8h0M532.1 1395.7h0M546.3 1442.2h0M538.3 1420.6h0M528.2 1434.9h0M520.4 1449.6h0M589.6 1474.4h0M529.7 1370.8h0M533.8 1481.2h0M519.5 1418.6h0M540.9 1447.7h0M530.8 1475.4h0M537.3 1434.7h0M522.3 1345.1h0M553.0 1450.0h0M518.3 1412.1h0M524.7 1420.9h0M525.4 1485.7h0M557.3 1356.0h0M522.6 1437.5h0M528.9 1416.5h0M525.8 1432.7h0M541.2 1346.9h0M524.1 1429.1h0M561.1 1399.2h0M524.0 1482.2h0M561.9 1389.0h0M516.5 1449.8h0M539.8 1412.0h0M533.2 1479.7h0M529.5 1454.9h0M541.3 1423.8h0M527.0 1478.8h0M522.4 1419.0h0M548.4 1477.6h0M525.1 1435.8h0M518.7 1393.3h0M529.8 1338.0h0M517.5 1460.3h0M524.5 1392.6h0M534.6 1405.2h0M518.1 1477.4h0M516.8 1432.7h0"/>
<path d="M538.4 1414.3h0M513.5 1469.1h0M531.5 1359.0h0M514.3 1382.0h0M517.9 1436.4h0M536.7 1426.5h0M521.7 1375.4h0M532.8 1475.0h0M568.4 1397.6h0M534.7 1466.8h0M625.5 1416.3h0M523.3 1411.2h0M553.3 1468.8h0M544.1 1428.1h0M518.4 1391.7h0M525.4 1430.9h0M555.4 1386.9h0M531.6 1471.3h0M544.8 1486.2h0M517.2 1406.7h0M537.0 1421.5h0M542.7 1486.2h0M550.4 1451.8h0M534.9 1427.6h0M579.9 1417.0h0M587.0 1484.7h0M531.1 1424.1h0M524.9 1386.7h0M602.8 1415.5h0M564.4 1411.5h0M547.2 1458.8h0M572.6 1460.8h0M572.9 1476.2h0M521.9 1473.5h0M536.4 1438.7h0M566.2 1440.4h0M533.7 1415.0h0M536.5 1452.2h0M572.2 1475.6h0M525.4 1353.8h0M532.1 1419.9h0M637.8 1472.4h0M545.4 1454.8h0M521.7 1397.5h0M516.6 1478.3h0M624.9 1415.4h0M553.3 1479.2h0M547.3 1452.1h0M526.5 1419.5h0M515.4 1351.3h0M542.7 1441.1h0M515.8 1479.8h0M517.5 1373.8h0M566.0 1447.6h0M548.1 1480.2h0M547.0 1488.1h0M628.2 1459.5h0M539.6 1461.4h0M524.8 1428.2h0M530.9 1441.5h0M537.0 1427.1h0M532.2 1423.8h0M543.8 1470.0h0M525.6 1430.5h0M554.5 1456.6h0M545.3 1390.2h0M539.6 1414.5h0M540.5 1411.1h0M531.1 1449.3h0M600.9 1479.2h0M544.9 1440.9h0M613.8 1484.4h0M517.9 1412.2h0M540.8 1452.4h0M517.6 1451.4h0M542.5 1473.9h0M564.3 1487.7h0M544.7 1431.8h0M543.5 1487.9h0M520.4 1482.5h0M605.3 1443.7h0M558.2 1483.9h0M535.0 1458.8h0M543.6 1463.0h0M544.4 1461.0h0M547.2 1446.4h0M523.1 1419.4h0M576.8 1417.3h0M513.6 1487.4h0M614.0 1475.6h0M515.5 1409.0h0M526.1 1487.8h0M527.4 1395.9h0M522.7 1451.4h0M519.0 1447.1h0M536.6 1479.8h0M535.0 1484.7h0M549.6 1390.8h0M626.7 1410.4h0M527.5 1444.8h0M551.9 1473.4h0M539.0 1451.5h0M548.4 1463.9h0M532.1 1450.9h0M573.0 1478.2h0M629.0 1459.0h0M535.2 1338.4h0M523.0 1379.9h0M557.2 1436.2h0M524.4 1426.4h0M553.7 1461.1h0M529.6 1407.8h0M514.2 1475.9h0M560.5 1376.7h0M612.6 1411.2h0M551.9 1461.4h0M549.6 1474.2h0M558.5 1408.8h0M515.7 1484.6h0M550.8 1483.4h0M527.0 1484.7h0M546.6 1443.2h0M530.4 1460.2h0M544.9 1450.3h0M548.3 1466.3h0M548.3 1441.2h0M535.2 1426.1h0M539.7 1427.2h0M539.9 1449.6h0M552.3 1477.7h0M560.9 1473.8h0M518.0 1394.7h0M518.2 1475.0h0M517.5 1414.1h0M592.2 1451.3h0M529.6 1467.7h0M586.7 1473.8h0M522.2 1425.8h0"/>
<path d="M514.4 1448.4h0M526.2 1467.1h0M535.5 1451.9h0M515.1 1475.3h0M521.7 1454.7h0M514.6 1384.0h0M565.9 1478.1h0M556.3 1444.1h0M534.7 1431.7h0M547.2 1388.9h0M571.2 1409.2h0M516.8 1458.9h0M521.6 1401.7h0M572.2 1434.0h0M515.8 1369.3h0M515.9 1370.6h0M549.8 1486.0h0M516.8 1382.2h0M569.9 1474.7h0M516.9 1461.2h0M534.9 1447.5h0M517.1 1446.1h0M514.3 1464.5h0M629.3 1431.3h0M613.8 1483.8h0M539.8 1460.2h0M541.7 1489.2h0M523.0 1426.3h0M537.7 1426.8h0M521.2 1425.2h0M531.8 1474.3h0M516.5 1487.2h0M526.7 1443.7h0M530.2 1447.5h0M550.3 1438.7h0M540.8 1410.4h0M530.9 1428.8h0M518.5 1388.2h0M515.4 1482.8h0M537.7 1444.9h0M586.2 1445.9h0M545.3 1428.1h0M574.2 1446.8h0M539.9 1482.2h0M522.1 1391.6h0M559.5 1444.3h0M532.0 1396.7h0M562.5 1447.6h0M613.9 1472.1h0M554.0 1473.8h0M540.5 1432.9h0M549.7 1485.6h0M516.1 1369.1h0M520.4 1431.5h0M518.6 1438.5h0M539.3 1442.6h0M615.8 1462.1h0M517.8 1368.5h0M554.1 1488.6h0M514.4 1419.8h0M531.6 1367.8h0M529.4 1477.1h0M543.5 1414.7h0M517.7 1368.1h0M541.0 1479.9h0M518.5 1429.2h0M542.8 1352.5h0M553.0 1472.9h0M534.0 1437.8h0M555.2 1433.6h0M532.2 1412.1h0M545.5 1420.1h0M521.7 1413.0h0M527.6 1468.2h0M517.8 1437.0h0M515.0 1392.8h0M534.3 1465.1h0M545.1 1484.1h0M528.4 1453.4h0M572.7 1446.0h0M570.3 1381.5h0M514.8 1415.9h0M525.1 1389.4h0M543.1 1481.7h0M541.0 1463.5h0M592.0 1446.3h0M560.9 1380.3h0M540.7 1432.1h0M554.7 1481.8h0M518.1 1343.0h0M532.9 1440.8h0M529.3 1401.3h0M526.8 1470.3h0M565.9 1449.7h0M545.4 1461.2h0M529.9 1390.8h0M541.3 1421.2h0M534.2 1432.2h0M526.5 1414.9h0M539.3 1481.3h0M623.6 1478.4h0M550.9 1478.2h0M545.1 1419.3h0M596.1 1438.2h0M525.8 1407.2h0M520.0 1455.8h0M520.2 1381.4h0M584.9 1351.0h0M523.1 1375.9h0M525.6 1428.4h0M557.8 1384.2h0M515.9 1443.5h0M530.4 1472.8h0M519.0 1372.4h0M573.3 1459.0h0M517.6 1474.2h0M527.8 1453.7h0M547.3 1443.5h0M550.1 1458.9h0M540.8 1452.6h0M544.1 1401.1h0M515.3 1413.2h0M557.5 1457.6h0M531.2 1326.4h0M534.3 1483.1h0M528.9 1403.0h0M517.1 1419.0h0M514.6 1386.2h0M519.2 1476.2h0M534.9 1438.9h0M565.4 1407.5h0M543.8 1489.2h0M563.5 1481.9h0M537.3 1404.9h0M538.6 1454.1h0M614.4 1440.8h0M550.3 1406.2h0M526.2 1445.9h0"/>
<path d="M544.4 1438.1h0M610.0 1460.4h0M544.8 1428.7h0M529.9 1441.7h0M567.4 1452.7h0M551.7 1445.1h0M555.1 1430.6h0M517.7 1430.2h0M537.2 1344.1h0M560.3 1475.4h0M517.5 1468.7h0M521.8 1429.1h0M550.4 1429.6h0M528.5 1467.2h0M570.5 1486.9h0M543.0 1414.0h0M518.5 1486.2h0M529.0 1457.2h0M542.2 1424.1h0M531.8 1440.2h0M532.0 1352.0h0M547.6 1430.6h0M580.0 1483.0h0M545.1 1428.0h0M528.1 1425.9h0M528.7 1390.6h0M532.9 1420.6h0M518.4 1459.6h0M549.0 1474.8h0M545.5 1464.6h0M515.1 1370.3h0M520.2 1370.0h0M548.1 1469.0h0M528.7 1412.5h0M550.2 1482.7h0M637.3 1471.6h0M534.4 1426.3h0M517.5 1446.6h0M536.1 1407.8h0M522.8 1456.7h0M534.7 1408.1h0M592.4 1411.8h0M537.8 1434.6h0M534.8 1450.5h0M515.4 1471.0h0M617.7 1440.4h0M541.1 1470.3h0M545.1 1438.8h0M521.0 1383.4h0M541.0 1439.3h0M573.8 1412.6h0M543.5 1489.2h0M519.9 1475.0h0M546.6 1466.6h0M566.4 1436.3h0M520.4 1390.7h0M526.2 1422.3h0M539.6 1478.7h0M522.4 1399.0h0M524.4 1483.9h0M516.0 1427.1h0M519.3 1396.0h0M548.8 1377.5h0M548.9 1454.5h0M544.1 1464.1h0M527.5 1439.4h0M537.8 1436.4h0M522.0 1395.6h0M538.8 1419.8h0M531.2 1479.3h0M522.8 1455.5h0M543.9 1459.0h0M544.7 1460.3h0M516.9 1468.8h0M518.6 1481.2h0M546.6 1484.8h0M548.9 1473.9h0M534.4 1361.9h0M535.4 1483.3h0M544.3 1455.8h0M534.7 1455.6h0M537.5 1445.1h0M543.3 1448.5h0M524.4 1353.5h0M541.9 1479.8h0M514.4 1384.5h0M560.3 1385.6h0M541.1 1466.7h0M524.4 1446.3h0M553.0 1449.0h0M516.1 1455.9h0M528.9 1430.5h0M604.1 1460.5h0M581.8 1456.3h0M521.9 1468.5h0M514.5 1444.5h0M529.1 1404.4h0M534.4 1342.8h0M525.9 1466.5h0M540.6 1488.0h0M519.4 1416.4h0M640.5 1461.2h0M522.4 1450.2h0M560.4 1444.4h0M540.1 1475.6h0M515.0 1466.4h0M513.9 1467.4h0M518.2 1404.3h0M542.2 1471.2h0M537.3 1361.9h0M544.9 1484.1h0M572.3 1419.5h0M602.0 1474.5h0M579.6 1467.2h0M525.4 1380.6h0M516.8 1432.3h0M544.3 1455.7h0M539.3 1443.3h0M562.2 1482.7h0M530.7 1402.3h0M523.3 1440.0h0M521.1 1482.2h0M552.8 1467.5h0M523.6 1407.2h0M573.6 1476.2h0M547.7 1441.0h0M574.0 1488.1h0M518.8 1388.4h0M545.1 1451.1h0M524.1 1449.4h0M518.2 1411.1h0M527.4 1413.1h0M543.7 1453.6h0M532.8 1466.6h0M526.6 1439.0h0M545.8 1473.7h0M525.2 1389.3h0M528.2 1398.9h0"/>
</g>
<path d="M478.2 1560.7L428.3 1560.7L429.8 1572.8L453.0 1596.0L467.5 1627.9L478.2 1645.3Z" fill="#7f7f7f" stroke="#7f7f7f" stroke-width="6.5" stroke-linejoin="round" opacity="0.62"/>
<g stroke="#7f7f7f" stroke-opacity="0.36" stroke-width="8" stroke-linecap="round" fill="none">
<path d="M471.9 1608.8h0M451.4 1605.9h0M477.8 1625.5h0M438.5 1579.5h0M472.8 1580.2h0M466.2 1680.9h0M408.6 1591.4h0M473.7 1575.5h0M409.3 1683.9h0M469.7 1576.3h0M408.7 1582.6h0M276.9 1578.6h0M408.8 1657.8h0M474.2 1667.0h0M408.9 1562.9h0M438.0 1571.6h0M468.9 1614.6h0M445.0 1604.0h0M464.9 1625.5h0M473.8 1620.0h0M408.7 1596.0h0M467.0 1584.7h0M441.5 1563.0h0M420.5 1659.8h0M476.6 1608.8h0M462.3 1585.5h0M443.4 1561.4h0M408.6 1565.5h0M456.9 1564.4h0M408.7 1600.7h0M409.1 1637.0h0M408.6 1708.8h0M439.9 1572.6h0M431.4 1582.4h0M409.1 1628.2h0M474.4 1565.2h0M408.8 1603.2h0M429.2 1569.4h0M435.2 1569.5h0M472.7 1639.3h0M452.0 1567.6h0M409.3 1591.1h0M460.8 1569.8h0M477.7 1637.1h0M464.2 1580.5h0M462.0 1597.8h0M445.2 1599.0h0M409.1 1617.7h0M472.8 1612.0h0M437.3 1571.9h0M418.0 1654.9h0M390.3 1576.6h0M384.0 1591.4h0M477.1 1631.9h0M465.1 1586.8h0M469.2 1568.2h0M453.7 1574.6h0M452.7 1568.5h0M454.5 1575.8h0M464.1 1578.1h0M352.4 1642.2h0M408.6 1639.4h0M409.1 1674.0h0M470.0 1591.4h0M442.5 1571.5h0M465.2 1560.9h0M413.6 1618.5h0M464.5 1597.7h0M409.1 1624.0h0M468.5 1631.0h0M427.3 1562.7h0M470.5 1595.4h0M409.1 1575.9h0M426.4 1572.8h0M409.2 1593.1h0M399.7 1640.2h0M469.6 1640.2h0M471.7 1565.2h0M456.2 1614.7h0M475.1 1596.9h0M450.4 1584.2h0M473.9 1664.5h0M398.6 1587.7h0M409.0 1626.7h0M408.7 1573.1h0M435.3 1588.2h0M416.5 1593.5h0M467.8 1642.4h0M409.0 1618.6h0M474.8 1587.2h0M420.9 1570.5h0M475.2 1563.8h0M409.0 1706.3h0M453.8 1566.8h0M466.5 1571.3h0M461.7 1606.1h0M462.6 1598.5h0M409.2 1650.5h0M464.5 1618.4h0M464.3 1573.5h0M401.6 1612.4h0M457.9 1617.7h0M443.7 1592.1h0M460.0 1621.8h0M473.9 1577.4h0M475.1 1606.5h0M475.4 1566.9h0M409.0 1653.3h0M453.9 1579.2h0M440.9 1562.5h0M408.5 1618.0h0M463.0 1627.0h0M460.3 1640.4h0M476.0 1623.3h0M409.0 1595.8h0M409.1 1622.2h0M442.3 1625.2h0M408.7 1647.6h0M408.8 1626.7h0M459.8 1594.5h0M408.6 1666.1h0M369.2 1638.1h0M470.1 1570.1h0M461.0 1584.5h0M463.1 1588.9h0M408.7 1648.8h0M476.7 1676.9h0M408.8 1616.5h0M416.7 1707.7h0M277.5 1672.9h0M463.5 1578.4h0M451.4 1589.5h0M473.6 1603.9h0M341.5 1627.8h0M428.5 1562.8h0M409.2 1648.4h0M408.4 1618.9h0M331.0 1564.9h0M440.2 1564.7h0M474.1 1562.3h0M408.4 1609.7h0M448.4 1592.1h0M393.5 1595.7h0M408.8 1661.0h0M408.8 1643.4h0M431.5 1579.0h0M409.4 1566.8h0M454.4 1610.2h0M457.6 1611.5h0M409.3 1663.0h0M465.0 1571.9h0M428.6 1620.9h0M409.0 1635.5h0M444.7 1577.3h0M453.1 1581.4h0M469.7 1628.1h0M459.4 1600.9h0M462.7 1608.5h0M436.7 1573.1h0M408.8 1668.4h0M456.0 1598.1h0M408.9 1617.6h0M469.1 1620.2h0M462.4 1590.9h0M408.8 1656.9h0M409.3 1654.6h0M408.8 1622.1h0M432.8 1571.7h0M469.0 1617.8h0M408.9 1571.9h0M408.9 1597.2h0M390.7 1573.1h0M464.6 1609.1h0M441.2 1586.6h0M455.8 1583.5h0M465.5 1605.1h0M446.9 1580.8h0M431.3 1578.8h0M439.1 1573.7h0M477.5 1575.7h0M422.7 1565.4h0M465.4 1568.2h0M408.8 1630.1h0M471.4 1648.3h0M444.3 1577.3h0M474.7 1614.7h0M460.6 1628.1h0M471.4 1584.4h0M460.9 1588.6h0M465.9 1604.3h0M449.0 1603.5h0M408.6 1576.6h0M461.3 1602.7h0M409.3 1580.0h0M473.3 1595.9h0M409.1 1700.6h0M408.7 1647.5h0M436.0 1561.0h0M408.6 1625.4h0M352.0 1581.4h0M408.3 1645.5h0"/>
<path d="M476.5 1653.0h0M409.7 1597.3h0M429.4 1564.1h0M408.7 1659.5h0M469.8 1601.3h0M468.4 1620.1h0M424.5 1573.3h0M470.4 1649.2h0M408.5 1583.7h0M408.7 1595.2h0M447.1 1581.6h0M433.0 1587.8h0M444.9 1595.9h0M408.8 1616.6h0M430.1 1570.4h0M422.6 1672.2h0M409.3 1576.1h0M457.7 1572.1h0M462.7 1621.3h0M477.4 1570.4h0M456.5 1563.8h0M477.2 1586.7h0M430.1 1582.0h0M277.3 1563.3h0M354.7 1563.9h0M382.4 1591.6h0M458.5 1614.0h0M458.8 1624.1h0M421.7 1563.3h0M466.6 1622.1h0M464.2 1602.4h0M408.6 1609.4h0M408.9 1607.9h0M458.2 1604.7h0M454.1 1565.2h0M442.2 1606.4h0M458.5 1601.3h0M454.8 1605.0h0M345.2 1709.0h0M429.2 1641.4h0M474.3 1624.5h0M413.4 1683.6h0M470.9 1579.8h0M466.3 1613.2h0M456.5 1580.3h0M461.5 1576.9h0M408.8 1605.3h0M344.7 1613.0h0M408.6 1699.2h0M439.0 1568.8h0M426.8 1644.2h0M408.6 1708.6h0M409.1 1580.6h0M408.9 1653.7h0M345.9 1581.8h0M474.4 1590.7h0M344.5 1685.3h0M428.2 1680.0h0M408.9 1651.3h0M468.6 1618.8h0M445.2 1579.2h0M409.1 1606.6h0M477.5 1637.5h0M409.0 1657.9h0M477.1 1687.9h0M409.0 1657.8h0M409.6 1659.8h0M408.7 1592.1h0M462.4 1617.5h0M458.0 1607.8h0M437.8 1645.2h0M440.7 1594.9h0M408.5 1643.1h0M432.4 1568.5h0M409.5 1622.6h0M408.6 1561.2h0M452.6 1671.9h0M448.5 1584.3h0M460.2 1561.2h0M408.7 1635.7h0M434.7 1562.6h0M458.1 1584.8h0M432.7 1567.4h0M454.7 1561.2h0M477.9 1587.0h0M461.9 1572.4h0M450.8 1593.4h0M469.8 1578.5h0M455.7 1574.0h0M431.1 1576.3h0M455.1 1610.9h0M457.7 1593.5h0M465.3 1599.9h0M446.2 1576.0h0M435.8 1587.3h0M456.6 1573.0h0M423.1 1562.4h0M455.8 1567.3h0M417.3 1617.6h0M470.9 1562.7h0M453.6 1566.3h0M469.5 1582.0h0M445.1 1583.5h0M473.6 1641.9h0M474.6 1611.9h0M477.1 1608.6h0M455.4 1602.7h0M471.6 1598.3h0M409.1 1595.2h0M387.9 1563.1h0M357.9 1594.5h0M444.7 1566.2h0M447.3 1572.8h0M467.7 1573.3h0M440.8 1587.2h0M409.0 1608.0h0M408.9 1566.1h0M437.3 1571.4h0M408.4 1634.3h0M447.0 1585.6h0M421.1 1694.7h0M458.2 1571.0h0M467.0 1565.0h0M473.7 1649.5h0M372.2 1565.5h0M468.1 1579.2h0M462.5 1576.3h0M448.6 1699.8h0M470.3 1626.3h0M408.8 1571.9h0M470.4 1576.0h0M469.8 1632.6h0M427.9 1562.4h0M474.1 1568.6h0M477.7 1566.2h0M474.7 1596.5h0M443.4 1649.1h0M437.8 1573.3h0M408.7 1604.0h0M401.1 1587.0h0M444.9 1580.8h0M450.7 1574.4h0M472.0 1585.7h0M449.8 1567.2h0M442.9 1581.1h0M438.8 1571.0h0M461.6 1624.7h0M449.6 1581.1h0M466.6 1572.8h0M462.5 1617.3h0M468.5 1599.4h0M455.0 1571.6h0M470.7 1649.0h0M448.5 1565.1h0M380.6 1565.6h0M455.9 1579.2h0M439.0 1589.5h0M464.2 1603.2h0M445.1 1600.1h0M334.1 1677.2h0M455.0 1570.8h0M457.4 1579.2h0M465.1 1615.3h0M433.6 1634.8h0M408.7 1636.8h0M442.6 1573.8h0M417.8 1581.6h0M468.4 1637.1h0M409.3 1675.4h0M408.9 1642.5h0M409.1 1614.0h0M409.1 1580.5h0M409.2 1602.3h0M408.8 1609.0h0M463.7 1568.0h0M429.4 1580.3h0M476.6 1661.4h0M473.8 1618.7h0M422.1 1565.4h0M460.5 1611.2h0M468.3 1572.7h0M276.8 1566.4h0M408.8 1620.2h0M453.5 1607.4h0M461.5 1577.2h0M473.6 1594.3h0M435.2 1690.2h0M425.3 1574.9h0M453.9 1572.5h0M439.4 1580.8h0M445.5 1575.2h0M455.3 1581.7h0M466.4 1610.8h0M409.0 1636.9h0M450.5 1567.6h0M408.6 1654.3h0M466.7 1626.2h0M469.8 1608.0h0M477.5 1572.9h0M402.0 1609.1h0M466.9 1629.1h0"/>
<path d="M408.7 1627.1h0M474.4 1644.7h0M458.4 1573.6h0M468.2 1618.8h0M408.8 1573.6h0M450.4 1561.4h0M430.4 1566.5h0M469.5 1602.8h0M445.9 1566.2h0M468.5 1622.9h0M447.7 1566.5h0M477.2 1577.4h0M469.3 1600.9h0M477.8 1661.4h0M408.4 1636.6h0M456.9 1602.4h0M408.8 1618.1h0M409.4 1576.2h0M408.8 1665.9h0M409.4 1654.9h0M450.4 1578.0h0M460.0 1578.1h0M409.1 1655.8h0M409.1 1640.1h0M409.0 1656.0h0M431.6 1580.0h0M346.0 1705.0h0M464.2 1570.1h0M429.0 1566.6h0M461.0 1602.8h0M408.8 1613.6h0M478.2 1572.0h0M446.1 1596.2h0M409.1 1575.6h0M409.1 1579.0h0M401.3 1607.9h0M470.6 1647.5h0M443.1 1564.5h0M464.5 1565.4h0M408.5 1596.3h0M408.8 1630.6h0M420.5 1566.1h0M450.9 1563.8h0M444.9 1567.7h0M408.6 1656.8h0M475.5 1646.2h0M408.5 1668.2h0M449.2 1583.8h0M415.7 1580.1h0M470.5 1561.7h0M460.1 1562.8h0M463.5 1617.3h0M409.0 1599.8h0M455.6 1562.9h0M473.2 1590.2h0M459.1 1565.2h0M409.0 1628.9h0M461.5 1630.2h0M457.3 1605.2h0M471.3 1567.1h0M408.9 1621.2h0M408.8 1658.9h0M450.9 1564.5h0M430.8 1565.4h0M469.8 1649.0h0M276.7 1590.0h0M475.3 1675.5h0M436.3 1576.5h0M409.1 1599.5h0M343.6 1588.9h0M473.7 1603.7h0M444.5 1583.5h0M467.4 1568.2h0M409.3 1613.3h0M400.0 1622.0h0M409.7 1583.9h0M476.2 1644.2h0M417.7 1640.3h0M468.1 1572.0h0M446.2 1563.7h0M433.3 1572.4h0M431.8 1584.5h0M475.8 1590.1h0M456.7 1569.3h0M334.0 1599.9h0M445.2 1565.0h0M408.2 1681.5h0M408.7 1667.7h0M459.9 1574.6h0M395.7 1593.7h0M425.7 1665.1h0M475.8 1617.2h0M342.4 1632.0h0M475.3 1562.7h0M409.2 1572.5h0M446.2 1581.3h0M450.4 1572.1h0M409.1 1627.6h0M476.7 1623.7h0M463.2 1592.9h0M477.6 1667.4h0M443.0 1586.5h0M409.1 1581.0h0M409.1 1619.1h0M473.9 1586.5h0M464.5 1563.3h0M408.7 1686.6h0M374.0 1639.3h0M408.8 1574.4h0M472.2 1573.0h0M445.2 1568.4h0M467.7 1565.3h0M409.8 1701.7h0M385.9 1566.7h0M454.5 1575.0h0M471.6 1574.8h0M409.1 1634.1h0M464.4 1579.3h0M468.6 1576.6h0M409.1 1645.0h0M431.9 1573.7h0M448.0 1561.5h0M408.8 1602.2h0M459.0 1568.8h0M430.3 1567.2h0M453.9 1571.5h0M457.3 1612.9h0M456.6 1608.6h0M409.1 1666.8h0M463.5 1633.9h0M467.1 1639.8h0M429.6 1579.1h0M409.2 1650.0h0M465.9 1608.6h0M438.4 1598.8h0M440.0 1564.1h0M409.2 1614.4h0M409.1 1622.0h0M439.8 1581.5h0M426.3 1565.8h0M437.3 1593.2h0M408.6 1590.7h0M458.9 1572.2h0M476.2 1678.2h0M466.3 1575.5h0M446.8 1583.7h0M468.6 1599.9h0M457.0 1569.0h0M446.8 1568.9h0M464.3 1595.6h0M409.4 1594.3h0M409.2 1605.7h0M458.7 1613.1h0M408.8 1649.0h0M476.3 1608.0h0M463.0 1596.8h0M455.5 1573.8h0M443.1 1681.4h0M457.5 1571.0h0M473.3 1687.2h0M469.6 1593.3h0M459.9 1610.9h0M475.1 1570.7h0M278.0 1622.5h0M409.0 1651.3h0M452.8 1610.8h0M440.9 1574.8h0M420.9 1568.1h0M462.7 1588.2h0M344.8 1599.6h0M454.1 1681.1h0M471.9 1643.7h0M456.9 1617.3h0M276.7 1567.3h0M447.5 1601.6h0M409.0 1642.9h0M474.3 1639.7h0M464.3 1680.1h0M465.4 1600.6h0M409.0 1663.1h0M476.8 1603.8h0M401.6 1599.1h0M441.3 1568.1h0M418.2 1713.5h0M439.8 1588.5h0M369.7 1584.3h0M473.9 1571.9h0M458.6 1567.2h0M408.8 1618.3h0M459.9 1576.0h0M467.2 1570.9h0M472.6 1654.8h0M450.5 1596.2h0M423.7 1573.4h0M424.6 1570.6h0M408.7 1643.8h0M473.6 1651.3h0M433.7 1637.5h0M442.5 1569.1h0M470.5 1577.7h0M474.0 1573.5h0"/>
<path d="M352.9 1574.7h0M408.4 1667.1h0M476.8 1687.3h0M408.8 1639.8h0M445.0 1576.3h0M408.8 1620.5h0M465.2 1597.7h0M438.2 1586.2h0M453.8 1601.6h0M408.8 1641.1h0M426.7 1573.6h0M456.9 1585.4h0M456.2 1583.0h0M408.9 1585.3h0M408.8 1629.4h0M448.1 1598.2h0M452.9 1603.7h0M466.0 1586.7h0M476.6 1635.2h0M476.5 1678.2h0M333.7 1565.3h0M422.8 1568.0h0M426.6 1570.2h0M431.3 1572.4h0M466.6 1621.0h0M462.3 1589.3h0M365.2 1596.1h0M409.1 1640.3h0M408.8 1660.1h0M426.4 1664.8h0M442.1 1566.6h0M408.8 1583.0h0M443.8 1581.0h0M334.4 1599.3h0M463.1 1588.9h0M439.0 1568.8h0M424.8 1606.7h0M476.2 1569.5h0M427.4 1568.3h0M408.7 1626.4h0M462.5 1630.4h0M430.1 1579.8h0M451.9 1572.9h0M472.3 1626.5h0M408.9 1664.0h0M457.2 1570.6h0M469.9 1649.8h0M469.2 1572.4h0M409.1 1576.1h0M464.0 1606.3h0M408.7 1628.4h0M472.4 1570.4h0M432.8 1585.9h0M408.9 1636.1h0M429.4 1565.2h0M408.9 1578.8h0M467.2 1596.8h0M472.0 1581.2h0M477.8 1571.6h0M475.3 1600.8h0M408.7 1621.3h0M463.0 1575.6h0M408.8 1571.6h0M443.0 1588.2h0M468.2 1647.7h0M408.9 1582.6h0M477.3 1667.8h0M449.6 1577.7h0M438.3 1568.4h0M465.3 1628.7h0M476.7 1665.2h0M472.2 1638.3h0M409.0 1581.0h0M443.9 1562.6h0M435.1 1584.6h0M458.0 1576.9h0M408.6 1704.8h0M452.7 1562.1h0M455.2 1563.1h0M454.7 1603.4h0M409.5 1619.8h0M470.9 1622.3h0M472.2 1639.9h0M409.0 1632.8h0M474.7 1574.4h0M408.7 1680.7h0M461.5 1595.4h0M476.2 1573.8h0M409.2 1561.2h0M419.9 1673.4h0M421.9 1564.5h0M430.3 1579.8h0M454.3 1561.9h0M457.7 1570.4h0M478.0 1615.0h0M408.6 1653.8h0M477.9 1563.8h0M425.3 1575.7h0M329.0 1600.5h0M463.6 1616.7h0M450.2 1568.8h0M408.8 1561.4h0M444.3 1571.5h0M408.6 1627.4h0M444.0 1595.5h0M442.1 1573.5h0M408.8 1580.3h0M408.6 1602.6h0M444.1 1595.9h0M358.6 1620.0h0M341.3 1686.3h0M409.1 1661.3h0M469.4 1569.3h0M409.0 1605.4h0M462.9 1567.8h0M475.8 1626.7h0M423.8 1571.1h0M472.7 1612.2h0M464.3 1614.8h0M464.5 1634.7h0M448.0 1574.7h0M449.6 1562.8h0M473.1 1667.2h0M465.1 1565.4h0M473.6 1642.4h0M444.9 1597.5h0M450.8 1573.0h0M465.3 1596.7h0M476.2 1635.8h0M408.7 1635.8h0M428.3 1609.1h0M476.3 1576.9h0M409.1 1582.0h0M442.9 1591.8h0M414.8 1655.7h0M457.6 1606.2h0M452.4 1587.4h0M457.5 1680.3h0M466.7 1625.9h0M279.2 1583.1h0M409.0 1620.7h0M408.9 1566.4h0M421.3 1567.1h0M400.5 1580.0h0M431.7 1585.0h0M469.8 1575.0h0M468.5 1594.5h0M408.4 1619.8h0M409.1 1637.3h0M440.5 1565.6h0M409.2 1632.2h0M445.4 1596.7h0M474.6 1597.7h0M382.1 1565.3h0M444.0 1580.8h0M448.5 1694.0h0M454.0 1663.7h0M434.6 1565.0h0M409.0 1649.4h0M463.1 1577.6h0M465.8 1572.1h0M448.8 1601.7h0M462.3 1568.0h0M453.8 1595.4h0M407.6 1697.4h0M408.7 1707.9h0M346.0 1634.8h0M440.3 1571.3h0M453.3 1608.2h0M472.3 1635.9h0M463.5 1561.1h0M447.7 1577.1h0M408.8 1633.6h0M409.1 1562.9h0M449.5 1574.4h0M473.1 1650.2h0M467.6 1633.4h0M472.4 1655.2h0M448.2 1593.8h0M408.9 1660.1h0M466.7 1578.5h0M383.6 1584.8h0M341.8 1614.3h0M466.8 1643.0h0M408.3 1586.6h0M467.7 1618.6h0M473.3 1647.1h0M449.1 1567.9h0M476.6 1644.0h0M474.9 1629.8h0M438.9 1565.9h0M343.1 1661.8h0M472.2 1562.6h0M450.5 1574.4h0M468.8 1635.7h0M437.7 1590.7h0M476.7 1650.2h0M408.7 1609.1h0M424.6 1565.7h0M409.3 1573.6h0"/>
<path d="M427.3 1579.8h0M453.1 1583.0h0M409.0 1654.9h0M442.7 1570.3h0M409.1 1631.8h0M331.2 1601.0h0M476.8 1591.5h0M473.0 1598.8h0M473.1 1657.7h0M477.8 1602.1h0M477.5 1588.9h0M476.6 1627.7h0M429.3 1560.8h0M458.0 1578.2h0M455.1 1561.8h0M440.2 1563.3h0M344.8 1629.7h0M408.9 1621.4h0M277.1 1609.1h0M334.8 1578.8h0M408.5 1640.4h0M474.4 1656.1h0M424.0 1565.9h0M409.5 1621.4h0M464.3 1589.2h0M460.5 1575.0h0M476.0 1561.9h0M467.4 1644.1h0M464.5 1575.4h0M473.1 1601.7h0M409.3 1658.1h0M463.9 1616.9h0M427.7 1569.7h0M408.9 1654.7h0M409.2 1598.7h0M448.8 1565.2h0M436.5 1590.3h0M476.5 1565.9h0M408.6 1599.9h0M458.0 1593.4h0M450.7 1599.7h0M408.7 1621.4h0M471.5 1599.3h0M431.7 1585.4h0M467.7 1579.4h0M469.9 1626.9h0M468.3 1600.2h0M457.6 1574.1h0M461.6 1568.8h0M277.3 1579.4h0M356.9 1658.9h0M461.6 1600.1h0M465.5 1630.9h0M470.6 1571.6h0M408.8 1582.9h0M413.0 1571.7h0M412.8 1592.4h0M470.4 1594.0h0M475.0 1604.2h0M457.2 1620.9h0M415.1 1665.6h0M455.1 1602.5h0M475.8 1570.9h0M409.0 1602.9h0M408.8 1611.3h0M408.3 1651.2h0M475.9 1563.5h0M452.1 1601.0h0M465.6 1607.2h0M465.9 1626.6h0M477.6 1685.8h0M409.2 1580.4h0M353.2 1618.7h0M466.7 1562.3h0M409.2 1576.2h0M472.9 1651.5h0M442.6 1574.2h0M438.3 1575.9h0M459.4 1603.9h0M425.6 1588.3h0M458.2 1597.5h0M446.6 1577.6h0M409.0 1664.7h0M471.1 1592.2h0M408.8 1665.0h0M409.5 1590.1h0M478.2 1647.2h0M475.1 1642.8h0M450.8 1605.4h0M432.9 1585.4h0M454.1 1567.2h0M353.8 1564.3h0M408.5 1584.1h0M355.1 1618.9h0M462.9 1594.0h0M443.3 1566.7h0M437.2 1591.7h0M433.4 1587.9h0M454.3 1597.8h0M451.6 1575.2h0M459.1 1596.2h0M474.9 1577.6h0M444.6 1595.3h0M465.9 1678.8h0M462.2 1621.6h0M476.4 1638.8h0M439.1 1679.1h0M475.7 1617.0h0M460.3 1594.6h0M398.9 1562.2h0M463.8 1564.3h0M409.1 1574.7h0M466.3 1588.4h0M437.4 1570.0h0M448.8 1563.0h0M448.0 1583.3h0M409.0 1660.0h0M431.1 1636.3h0M448.1 1567.1h0M409.0 1600.9h0M428.9 1562.7h0M408.9 1659.9h0M454.0 1590.4h0M438.2 1590.3h0M408.4 1565.2h0M437.9 1585.8h0M446.3 1560.7h0M408.5 1626.0h0M424.2 1571.0h0M430.6 1574.7h0M370.7 1599.6h0M459.1 1564.6h0M472.7 1592.6h0M434.3 1579.6h0M464.6 1581.4h0M409.2 1584.1h0M468.2 1641.7h0M475.6 1687.3h0M463.2 1586.6h0M447.6 1578.7h0M464.3 1567.9h0M351.7 1654.5h0M473.5 1571.2h0M409.1 1659.1h0M409.6 1704.5h0M458.2 1585.6h0M455.2 1577.3h0M409.5 1634.5h0M409.4 1634.2h0M441.2 1594.7h0M392.9 1569.6h0M469.5 1601.0h0M396.6 1577.8h0M437.3 1565.4h0M408.8 1599.0h0M440.1 1571.0h0M453.7 1606.7h0M451.5 1569.4h0M409.3 1622.1h0M469.4 1582.3h0M476.3 1666.8h0M441.4 1569.0h0M335.5 1673.7h0M409.5 1607.6h0M474.0 1597.4h0M409.0 1576.7h0M427.4 1567.8h0M354.1 1586.3h0M458.6 1579.5h0M467.7 1565.7h0M474.8 1637.2h0M474.2 1623.9h0M473.3 1567.8h0M408.7 1639.7h0M476.0 1561.6h0M460.3 1580.3h0M408.8 1661.4h0M451.3 1569.0h0M438.1 1570.0h0M409.0 1651.0h0M409.0 1595.0h0M465.6 1575.5h0M462.7 1568.3h0M409.1 1662.8h0M408.7 1611.9h0M456.7 1573.2h0M464.5 1602.4h0M468.2 1562.0h0M466.2 1633.7h0M409.1 1663.2h0M473.6 1578.3h0M408.9 1584.9h0M409.0 1567.5h0M466.7 1580.3h0M421.3 1563.7h0M477.3 1610.1h0M408.5 1582.9h0M462.6 1573.3h0M462.8 1571.8h0M408.7 1602.1h0"/>
</g>
<path d="M513.3 1560.7L551.5 1560.7L548.6 1584.4L537.0 1607.6L525.4 1636.6L513.3 1654.0Z" fill="#c00000" stroke="#c00000" stroke-width="6.5" stroke-linejoin="round" opacity="0.85"/>
<g stroke="#c00000" stroke-opacity="0.5" stroke-width="8" stroke-linecap="round" fill="none">
<path d="M608.4 1621.4h0M520.6 1652.0h0M551.0 1579.7h0M531.2 1625.8h0M538.0 1565.9h0M547.6 1667.1h0M541.6 1564.5h0M632.7 1561.2h0M547.8 1582.1h0M551.8 1568.1h0M534.2 1590.6h0M616.5 1565.2h0M573.3 1616.4h0M523.9 1627.8h0M515.5 1624.2h0M531.8 1601.2h0M531.1 1588.4h0M536.0 1591.0h0M521.5 1648.8h0M528.4 1631.6h0M534.5 1592.3h0M590.2 1573.8h0M516.6 1607.6h0M524.2 1614.8h0M515.1 1594.6h0M530.0 1578.1h0M529.6 1633.0h0M545.4 1575.6h0M541.9 1595.7h0M547.1 1584.6h0M532.3 1603.1h0M570.4 1561.7h0M526.8 1576.9h0M569.9 1568.0h0M600.1 1580.3h0M531.7 1575.9h0M521.7 1571.9h0M516.9 1575.7h0M577.9 1663.6h0M520.6 1639.1h0M538.5 1570.2h0M529.9 1584.0h0M522.8 1649.1h0M537.6 1606.5h0M524.4 1563.2h0M513.4 1587.3h0M515.1 1579.0h0M534.2 1590.4h0M544.6 1569.8h0M536.4 1572.6h0M538.2 1584.5h0M526.8 1616.3h0M515.0 1580.4h0M531.9 1632.1h0M517.3 1586.8h0M576.9 1625.9h0M515.4 1627.5h0M518.6 1637.1h0M520.0 1609.8h0M527.4 1601.9h0M527.1 1603.3h0M584.9 1618.0h0M540.6 1563.1h0M515.0 1606.9h0M520.2 1647.8h0M533.9 1602.2h0M523.6 1579.7h0M524.3 1564.5h0M544.3 1567.5h0M548.6 1566.3h0M520.0 1636.1h0M541.1 1595.4h0M535.6 1616.7h0M522.4 1640.3h0M529.5 1627.0h0M518.5 1566.2h0M515.3 1576.6h0M546.5 1580.6h0M518.3 1638.8h0M545.6 1599.0h0M575.5 1608.1h0M526.3 1592.5h0M527.5 1602.2h0M576.1 1604.2h0M542.7 1606.9h0M541.0 1587.5h0M531.1 1576.8h0M548.6 1589.1h0M521.9 1609.0h0M591.7 1613.4h0M590.3 1610.4h0M517.4 1644.1h0M580.7 1569.0h0M539.2 1687.6h0M530.4 1611.9h0M531.0 1589.7h0M524.8 1562.4h0M530.0 1638.5h0M566.5 1689.2h0M551.0 1570.1h0M526.5 1628.2h0M551.3 1582.8h0M553.1 1578.2h0M515.8 1670.9h0M551.6 1585.7h0M552.5 1570.7h0M517.2 1587.6h0M538.4 1579.6h0M540.0 1591.5h0M596.1 1611.4h0M530.4 1605.0h0M526.3 1622.5h0M525.7 1583.6h0M517.4 1578.6h0M522.1 1598.2h0M523.4 1595.9h0M516.0 1631.8h0M598.8 1596.0h0M514.9 1657.8h0M547.6 1636.2h0M516.3 1614.9h0M515.2 1658.6h0M533.1 1610.1h0M520.8 1614.1h0M635.6 1587.3h0M615.4 1619.4h0M598.1 1579.1h0M519.8 1669.6h0M518.7 1648.6h0M556.8 1633.6h0M533.1 1567.4h0M526.9 1564.6h0M541.4 1590.6h0M605.9 1625.7h0M514.3 1657.1h0M516.6 1711.7h0M549.9 1571.7h0M555.8 1623.5h0M521.3 1683.5h0M568.7 1569.3h0M526.6 1574.2h0M543.7 1583.0h0M621.6 1582.0h0M521.8 1592.7h0M638.5 1596.0h0M527.2 1564.0h0M538.6 1645.6h0M535.1 1690.8h0M519.2 1640.6h0M520.0 1637.4h0M525.9 1638.7h0M548.1 1653.6h0M539.9 1589.6h0M517.1 1599.8h0M539.2 1580.7h0M569.0 1659.8h0M546.6 1597.3h0M526.7 1628.3h0M518.5 1694.0h0M531.9 1590.6h0M520.6 1630.2h0"/>
<path d="M535.5 1610.9h0M513.3 1628.8h0M521.3 1618.8h0M525.4 1639.5h0M513.5 1614.0h0M529.9 1576.0h0M516.7 1580.1h0M519.8 1616.4h0M519.8 1651.7h0M514.7 1622.4h0M603.1 1679.2h0M539.4 1581.8h0M514.8 1629.3h0M554.0 1654.9h0M526.9 1606.9h0M552.5 1598.2h0M517.2 1621.9h0M520.6 1573.3h0M521.2 1571.7h0M529.9 1567.1h0M522.6 1605.5h0M535.9 1619.1h0M546.2 1584.3h0M535.9 1615.9h0M536.5 1597.1h0M538.9 1589.7h0M552.8 1563.0h0M518.3 1626.4h0M520.5 1636.8h0M573.9 1595.1h0M526.5 1638.0h0M523.7 1573.7h0M518.2 1629.1h0M530.0 1624.7h0M518.4 1617.4h0M521.1 1606.3h0M545.4 1595.6h0M532.9 1608.5h0M515.0 1644.1h0M522.6 1601.2h0M593.1 1584.1h0M525.4 1566.1h0M513.6 1648.0h0M542.4 1577.9h0M514.2 1656.2h0M524.0 1626.3h0M609.3 1584.3h0M553.9 1660.2h0M520.1 1576.9h0M526.6 1602.6h0M528.6 1592.8h0M524.5 1641.8h0M538.0 1608.6h0M548.8 1569.4h0M548.5 1578.8h0M519.4 1576.5h0M582.0 1611.3h0M526.5 1636.7h0M515.6 1574.4h0M516.7 1646.5h0M542.9 1605.1h0M524.0 1630.5h0M519.6 1626.0h0M521.2 1614.5h0M547.5 1589.7h0M562.1 1579.6h0M516.0 1607.0h0M518.7 1582.9h0M529.9 1593.6h0M529.7 1615.2h0M531.5 1581.2h0M534.4 1624.9h0M537.0 1560.7h0M527.3 1613.9h0M615.3 1610.5h0M517.1 1587.3h0M546.2 1598.7h0M530.6 1627.8h0M519.0 1714.7h0M532.5 1616.4h0M514.9 1651.8h0M555.7 1595.0h0M570.9 1593.8h0M520.5 1646.7h0M565.5 1669.4h0M542.7 1606.5h0M530.0 1636.9h0M520.0 1570.6h0M520.3 1564.2h0M517.9 1606.7h0M550.6 1581.5h0M551.3 1579.5h0M516.7 1741.0h0M534.0 1584.1h0M536.7 1575.7h0M518.5 1702.3h0M534.0 1611.7h0M534.4 1621.9h0M594.0 1618.0h0M531.5 1603.7h0M543.0 1576.2h0M526.4 1563.6h0M522.8 1570.1h0M540.6 1614.4h0M515.4 1579.0h0M515.0 1599.4h0M540.5 1590.0h0M519.8 1708.0h0M517.1 1654.9h0M535.5 1590.0h0M544.8 1596.9h0M527.3 1624.4h0M549.9 1598.6h0M541.2 1601.0h0M534.4 1609.4h0M519.2 1634.6h0M552.2 1583.3h0M514.0 1583.0h0M606.5 1567.8h0M531.9 1594.0h0M518.2 1646.7h0M554.1 1625.5h0M521.1 1567.4h0M529.8 1600.5h0M526.9 1607.3h0M569.9 1616.4h0M519.2 1588.0h0M534.4 1619.5h0M549.9 1640.9h0M538.6 1573.3h0M519.6 1607.2h0M525.0 1561.0h0M570.9 1651.7h0M542.8 1576.4h0M529.3 1595.9h0M533.5 1601.0h0M550.3 1586.4h0M553.4 1578.2h0M523.2 1609.2h0M521.6 1654.1h0M541.7 1591.0h0M525.1 1615.7h0M519.3 1633.2h0M537.8 1595.8h0M525.2 1584.2h0M530.2 1599.0h0M515.0 1633.6h0M545.3 1569.0h0M518.5 1663.6h0M534.9 1585.0h0M525.8 1617.3h0M623.9 1606.3h0M631.5 1588.4h0M521.1 1625.7h0M542.1 1561.4h0M531.8 1623.8h0M515.1 1610.7h0M543.0 1587.9h0M523.3 1631.9h0M548.4 1585.0h0M592.4 1575.0h0"/>
<path d="M518.1 1571.7h0M528.9 1583.0h0M549.7 1585.2h0M521.3 1624.8h0M639.5 1619.1h0M547.3 1571.1h0M516.0 1640.0h0M514.8 1640.2h0M532.4 1600.1h0M515.2 1613.9h0M516.7 1569.0h0M523.6 1642.8h0M537.7 1564.7h0M520.9 1626.1h0M567.2 1563.8h0M571.4 1659.3h0M513.4 1585.1h0M606.2 1645.0h0M529.3 1637.9h0M521.6 1568.9h0M516.9 1586.7h0M541.7 1580.5h0M533.0 1596.6h0M562.9 1576.8h0M525.1 1586.1h0M523.1 1697.0h0M528.7 1566.4h0M545.9 1574.3h0M589.1 1684.0h0M551.5 1567.4h0M542.3 1601.6h0M519.6 1672.0h0M518.9 1692.9h0M520.7 1624.9h0M546.5 1592.7h0M530.2 1575.3h0M553.1 1630.7h0M542.9 1673.0h0M551.4 1572.2h0M519.4 1620.6h0M617.8 1609.5h0M534.8 1602.3h0M619.5 1562.6h0M529.9 1618.1h0M521.2 1623.1h0M539.0 1566.1h0M552.7 1571.6h0M538.6 1588.7h0M531.1 1563.7h0M546.7 1582.3h0M524.3 1566.0h0M523.3 1599.2h0M628.0 1601.1h0M525.6 1622.3h0M533.8 1638.5h0M545.2 1604.5h0M528.9 1610.8h0M542.8 1598.2h0M514.6 1634.7h0M513.4 1609.9h0M545.3 1601.3h0M536.5 1590.7h0M516.5 1626.7h0M531.3 1586.4h0M539.0 1587.1h0M518.1 1584.7h0M547.4 1562.1h0M521.6 1600.5h0M531.4 1574.5h0M543.1 1603.1h0M516.4 1592.1h0M527.7 1595.4h0M534.2 1579.4h0M521.3 1639.2h0M526.1 1629.3h0M525.6 1627.2h0M544.5 1642.5h0M522.0 1626.5h0M564.8 1608.7h0M555.9 1621.2h0M551.9 1571.5h0M542.6 1567.5h0M516.5 1655.8h0M600.9 1644.7h0M519.8 1568.1h0M516.6 1577.8h0M550.1 1584.8h0M525.9 1621.1h0M536.8 1610.2h0M518.7 1655.7h0M515.4 1657.4h0M516.3 1627.1h0M547.8 1602.9h0M566.1 1579.7h0M527.2 1635.7h0M529.9 1621.7h0M575.6 1679.1h0M516.2 1573.2h0M523.2 1565.8h0M523.4 1643.8h0M535.8 1562.3h0M522.8 1592.8h0M519.6 1609.0h0M526.7 1599.1h0M524.9 1577.2h0M524.8 1585.7h0M520.9 1644.4h0M517.0 1614.0h0M515.9 1590.2h0M521.4 1562.3h0M522.0 1628.7h0M570.8 1571.8h0M518.6 1650.7h0M533.6 1649.2h0M545.9 1597.9h0M522.7 1637.2h0M588.8 1573.8h0M570.4 1565.4h0M525.2 1624.1h0M546.8 1594.4h0M543.0 1623.3h0M517.3 1645.4h0M528.3 1644.5h0M548.6 1618.3h0M562.0 1578.5h0M516.7 1614.2h0M540.0 1568.8h0M522.3 1652.3h0M518.9 1587.0h0M535.8 1566.7h0M522.6 1627.7h0M529.2 1580.0h0M542.1 1570.5h0M515.9 1588.0h0M528.8 1602.6h0M556.1 1595.4h0M518.0 1584.6h0M565.6 1640.4h0M525.2 1590.5h0M594.8 1579.9h0M516.1 1661.0h0M524.4 1583.9h0M519.3 1649.0h0M569.5 1595.4h0M516.3 1639.3h0M543.6 1566.2h0M516.7 1733.8h0M536.6 1560.8h0M514.3 1626.6h0M530.5 1639.3h0M521.4 1689.9h0M526.9 1568.9h0M581.9 1595.5h0M543.3 1598.0h0M573.5 1584.6h0M514.2 1617.6h0M543.2 1577.9h0M530.4 1610.4h0M531.4 1597.1h0M545.0 1600.2h0"/>
<path d="M516.5 1620.6h0M552.0 1578.6h0M529.3 1607.8h0M548.6 1630.3h0M512.7 1697.2h0M557.5 1601.8h0M543.3 1583.2h0M529.3 1596.9h0M533.3 1630.1h0M630.5 1592.5h0M528.8 1560.7h0M513.3 1626.3h0M515.9 1622.5h0M546.8 1622.5h0M537.5 1571.6h0M521.2 1654.8h0M528.6 1641.0h0M547.7 1580.7h0M514.9 1584.1h0M553.5 1561.0h0M542.4 1628.1h0M546.8 1679.5h0M538.6 1614.4h0M516.1 1657.5h0M541.7 1562.5h0M549.1 1563.4h0M524.7 1569.2h0M541.9 1565.8h0M592.1 1594.9h0M536.1 1570.1h0M526.2 1633.0h0M545.3 1595.1h0M581.1 1568.5h0M545.2 1579.8h0M630.6 1599.9h0M561.9 1665.6h0M547.1 1590.6h0M547.5 1590.3h0M568.7 1630.2h0M518.3 1628.8h0M530.7 1592.8h0M547.1 1609.0h0M535.7 1575.6h0M525.1 1589.6h0M514.7 1576.6h0M528.8 1638.6h0M531.9 1616.4h0M519.5 1644.8h0M519.5 1616.5h0M519.0 1601.8h0M531.3 1574.3h0M529.6 1607.3h0M549.8 1570.9h0M585.3 1566.9h0M536.0 1626.2h0M513.4 1615.8h0M520.5 1571.9h0M521.2 1578.0h0M535.0 1602.2h0M631.5 1582.6h0M513.4 1596.9h0M551.0 1582.0h0M540.9 1603.1h0M550.0 1561.8h0M518.6 1695.6h0M602.8 1638.8h0M546.5 1584.7h0M521.8 1602.5h0M547.5 1566.9h0M532.0 1569.8h0M602.7 1577.0h0M533.9 1578.9h0M608.9 1643.9h0M546.3 1587.0h0M517.7 1621.2h0M517.5 1652.1h0M532.4 1570.0h0M549.7 1569.7h0M556.2 1577.0h0M513.2 1664.5h0M527.3 1597.6h0M551.0 1633.5h0M546.6 1563.8h0M535.1 1561.2h0M548.5 1573.4h0M517.5 1648.5h0M513.9 1593.4h0M539.2 1568.1h0M537.2 1605.9h0M542.9 1604.4h0M521.2 1613.7h0M541.5 1566.5h0M514.1 1612.2h0M571.0 1633.6h0M553.1 1653.8h0M535.2 1669.8h0M514.0 1624.4h0M539.6 1591.9h0M524.3 1576.5h0M547.2 1583.5h0M523.0 1575.9h0M590.4 1584.5h0M538.2 1580.9h0M530.0 1580.2h0M546.4 1581.8h0M522.7 1598.1h0M523.3 1603.5h0M529.3 1634.9h0M523.8 1643.1h0M559.0 1619.6h0M539.4 1568.8h0M600.0 1586.2h0M518.9 1611.1h0M514.8 1594.4h0M515.2 1631.5h0M610.6 1585.6h0M524.2 1647.1h0M519.4 1624.3h0M517.3 1648.6h0M536.8 1594.1h0M515.4 1606.8h0M559.9 1640.6h0M538.2 1612.3h0M516.3 1606.7h0M589.9 1573.4h0M532.2 1600.9h0M514.3 1656.1h0M516.0 1659.5h0M556.7 1564.6h0M530.0 1576.8h0M547.8 1574.9h0M543.8 1660.0h0M543.8 1603.5h0M537.9 1596.9h0M538.3 1590.1h0M517.4 1694.5h0M517.5 1613.0h0M519.6 1570.7h0M561.7 1582.6h0M527.5 1625.0h0M520.4 1582.7h0M528.1 1616.0h0M526.1 1613.8h0M616.4 1595.0h0M516.5 1577.3h0M514.2 1569.3h0M554.1 1560.9h0M562.8 1602.5h0M548.8 1590.7h0M521.5 1630.6h0M553.6 1572.9h0M524.7 1577.7h0M524.3 1604.5h0M529.5 1583.3h0M574.2 1610.7h0M530.1 1578.7h0M514.3 1621.8h0M548.9 1565.0h0M513.3 1567.4h0M515.9 1624.7h0"/>
<path d="M618.7 1616.8h0M513.7 1563.4h0M568.0 1616.5h0M543.1 1598.1h0M527.3 1602.7h0M525.1 1623.0h0M532.7 1632.4h0M546.3 1588.6h0M606.9 1563.9h0M525.6 1563.0h0M628.0 1572.5h0M547.6 1593.3h0M523.3 1562.3h0M534.5 1614.8h0M513.4 1624.0h0M517.5 1598.5h0M525.4 1613.7h0M556.7 1618.0h0M535.0 1567.2h0M540.5 1605.6h0M517.1 1659.7h0M573.7 1631.8h0M553.8 1606.0h0M571.4 1617.5h0M540.0 1603.1h0M585.8 1567.1h0M613.7 1597.6h0M518.7 1564.8h0M530.6 1626.8h0M576.5 1604.9h0M521.4 1706.8h0M517.1 1656.0h0M596.8 1611.8h0M619.4 1571.8h0M540.5 1582.7h0M517.7 1640.1h0M533.6 1604.6h0M519.4 1628.9h0M522.6 1650.7h0M532.1 1603.3h0M539.7 1581.0h0M636.3 1579.7h0M515.7 1592.4h0M524.1 1589.6h0M567.3 1588.3h0M518.1 1573.8h0M528.9 1576.3h0M530.5 1646.5h0M525.9 1593.9h0M537.1 1565.5h0M537.0 1611.1h0M524.8 1590.3h0M533.7 1605.8h0M529.5 1564.9h0M520.8 1582.3h0M535.9 1619.6h0M522.1 1592.3h0M545.6 1654.1h0M528.9 1624.4h0M514.6 1645.9h0M520.6 1574.3h0M551.8 1638.4h0M513.9 1713.8h0M547.4 1587.0h0M547.4 1583.3h0M603.1 1670.0h0M545.4 1562.5h0M613.6 1572.5h0M540.7 1580.3h0M547.3 1580.8h0M551.0 1584.0h0M519.1 1654.0h0M526.7 1585.2h0M520.3 1619.0h0M540.4 1562.2h0M551.6 1578.8h0M524.4 1609.7h0M572.5 1641.7h0M525.4 1566.9h0M519.1 1571.1h0M522.0 1594.6h0M528.4 1617.4h0M556.2 1691.4h0M530.5 1651.0h0M522.3 1613.8h0M523.0 1602.0h0M521.7 1687.6h0M524.1 1621.0h0M559.1 1616.2h0M527.9 1644.1h0M535.6 1601.9h0M524.6 1646.5h0M592.9 1578.1h0M538.5 1612.2h0M515.4 1613.4h0M519.4 1708.2h0M533.8 1627.8h0M514.6 1647.6h0M542.5 1598.3h0M599.7 1645.6h0M526.8 1571.6h0M552.2 1562.8h0M554.7 1632.8h0M546.0 1561.5h0M528.0 1619.0h0M513.9 1717.4h0M548.6 1587.8h0M544.5 1594.1h0M549.0 1644.2h0M540.3 1563.3h0M571.7 1568.5h0M542.1 1577.6h0M530.6 1624.4h0M521.7 1602.7h0M550.5 1586.6h0M523.0 1648.7h0M518.3 1605.4h0M515.2 1573.2h0M523.5 1626.0h0M516.3 1615.7h0M548.0 1583.0h0M528.5 1586.7h0M514.9 1654.4h0M540.5 1570.2h0M594.5 1582.0h0M529.8 1608.3h0M595.6 1698.4h0M514.0 1644.2h0M520.2 1652.5h0M538.0 1598.2h0M515.4 1621.0h0M529.9 1586.0h0M617.3 1628.0h0M514.3 1601.8h0M521.4 1582.8h0M517.7 1581.7h0M516.4 1645.8h0M540.2 1604.9h0M535.2 1599.9h0M523.6 1621.7h0M562.4 1608.8h0M517.9 1573.7h0M519.0 1645.0h0M572.6 1622.8h0M552.9 1572.5h0M519.8 1599.2h0M514.6 1647.7h0M533.3 1608.3h0M514.9 1605.0h0M545.7 1596.7h0M518.2 1629.6h0M534.1 1614.8h0M514.5 1656.4h0M530.6 1569.3h0M535.6 1597.7h0M522.7 1622.6h0M538.8 1590.8h0M548.4 1588.0h0M531.8 1578.2h0M517.5 1602.0h0"/>
</g>
<line x1="496.2" y1="1293" x2="496.2" y2="1755.5" stroke="#a0a0a0" stroke-width="2.4" />
<line x1="260.1" y1="1524.25" x2="731.3" y2="1524.25" stroke="#a0a0a0" stroke-width="2.4" />
<rect x="260.1" y="1293" width="471.2" height="462.5" fill="none" stroke="#000" stroke-width="1.8"/>
<circle cx="421.1" cy="1316.8" r="3.8" fill="#7db8e2" stroke="#000" stroke-width="1.6" stroke-dasharray="1.6 1.9"/>
<circle cx="358.7" cy="1322" r="3.8" fill="#7db8e2" stroke="#000" stroke-width="1.6" stroke-dasharray="1.6 1.9"/>
<circle cx="522" cy="1598" r="3.8" fill="#c00000" stroke="#000" stroke-width="1.6" stroke-dasharray="1.6 1.9"/>
<circle cx="603.1" cy="1679.2" r="3.8" fill="#e58a8a" stroke="#000" stroke-width="1.6" stroke-dasharray="1.6 1.9"/>
<circle cx="595.6" cy="1698.4" r="3.8" fill="#e58a8a" stroke="#000" stroke-width="1.6" stroke-dasharray="1.6 1.9"/>
<line x1="360.8" y1="1309.9" x2="418.2" y2="1315.4" stroke="#000" stroke-width="1.1" />
<line x1="343.4" y1="1345.2" x2="357.9" y2="1324.9" stroke="#000" stroke-width="1.1" />
<line x1="629.8" y1="1545.9" x2="524" y2="1596.9" stroke="#000" stroke-width="1.1" />
<line x1="637.1" y1="1664.2" x2="605.2" y2="1674.9" stroke="#000" stroke-width="1.1" />
<line x1="607.2" y1="1714" x2="593.6" y2="1701" stroke="#000" stroke-width="1.1" />
<text x="262.4" y="1242.5" font-size="27.85" fill="#2f5597" stroke="#2f5597">2,629 CpGs</text>
<text x="262.4" y="1276.6" font-size="27.85" fill="#2f5597" stroke="#2f5597">(1,002 genes)</text>
<text x="575.3" y="1325" font-size="27.85" >1,571 CpGs</text>
<text x="269.5" y="1740.3" font-size="27.85" >1,285 CpGs</text>
<text x="263" y="1317.7" font-size="27.85" font-style="italic">DUSP6</text>
<text x="263" y="1369.9" font-size="27.85" font-style="italic">XYLT1</text>
<text x="652.4" y="1554.9" font-size="27.85" font-style="italic">CDA</text>
<text x="642.9" y="1671.4" font-size="27.85" font-style="italic">AXL</text>
<text x="610.1" y="1729.4" font-size="27.85" font-style="italic">ANKRD2</text>
<text x="236.1" y="1302.8" font-size="27.85" text-anchor="end">1.0</text>
<text x="236.1" y="1349.05" font-size="27.85" text-anchor="end">0.8</text>
<text x="236.1" y="1395.3" font-size="27.85" text-anchor="end">0.6</text>
<text x="236.1" y="1441.55" font-size="27.85" text-anchor="end">0.4</text>
<text x="236.1" y="1487.8" font-size="27.85" text-anchor="end">0.2</text>
<text x="236.1" y="1534.05" font-size="27.85" text-anchor="end">0.0</text>
<text x="236.1" y="1580.3" font-size="27.85" text-anchor="end">-0.2</text>
<text x="236.1" y="1626.55" font-size="27.85" text-anchor="end">-0.4</text>
<text x="236.1" y="1672.8" font-size="27.85" text-anchor="end">-0.6</text>
<text x="236.1" y="1719.05" font-size="27.85" text-anchor="end">-0.8</text>
<text x="236.1" y="1765.3" font-size="27.85" text-anchor="end">-1.0</text>
<text x="259.8" y="1798" font-size="27.85" text-anchor="middle">-15</text>
<text x="338.33" y="1798" font-size="27.85" text-anchor="middle">-10</text>
<text x="416.87" y="1798" font-size="27.85" text-anchor="middle">-5</text>
<text x="496.2" y="1798" font-size="27.85" text-anchor="middle">0</text>
<text x="574.73" y="1798" font-size="27.85" text-anchor="middle">5</text>
<text x="653.27" y="1798" font-size="27.85" text-anchor="middle">10</text>
<text x="731.8" y="1798" font-size="27.85" text-anchor="middle">15</text>
<text x="489.7" y="1830.4" font-size="27.85" text-anchor="middle">Expression change</text>
<text x="489.7" y="1864.4" font-size="27.85" text-anchor="middle">Log<tspan font-size="18" dy="5">2</tspan><tspan dy="-5">(LR/H3122)</tspan></text>
<text font-size="27.85" text-anchor="middle" transform="translate(170.4 1535) rotate(-90)">DNA methylation change (LR - H3122)</text>
<text font-size="27.85" text-anchor="middle" fill="#ff0000" stroke="#ff0000" transform="translate(766.2 1672) rotate(-90)">1,025 CpGs</text>
<text font-size="27.85" text-anchor="middle" fill="#ff0000" stroke="#ff0000" transform="translate(800 1672) rotate(-90)">(809 genes)</text>
<text x="976.5" y="1225.5" font-size="43.5" font-weight="bold">g</text>
<text x="1119.28" y="1254.85" font-size="27.85" >Hypermethylated and downregulated genes</text>
<rect x="1046.23" y="1273.41" width="656.29" height="29.34" fill="#b9e0fd"/>
<rect x="1046.23" y="1309.94" width="560.48" height="30.54" fill="#b9e0fd"/>
<rect x="1046.23" y="1346.47" width="547.31" height="30.54" fill="#b9e0fd"/>
<rect x="1046.23" y="1383.59" width="494.61" height="29.94" fill="#b9e0fd"/>
<rect x="1046.23" y="1420.72" width="490.42" height="29.94" fill="#b9e0fd"/>
<text x="1060.6" y="1293.57" font-size="27.85" >Positive regulation of transcription</text>
<text x="1060.6" y="1331.3" font-size="27.85" >Angiogenesis</text>
<text x="1060.6" y="1367.23" font-size="27.85" >Negative regulation of cell proliferation</text>
<text x="1060.6" y="1404.35" font-size="27.85" >Regulation of apoptosic process</text>
<text x="1060.6" y="1442.08" font-size="27.85" >Negative regulation of ERK1 and ERK2 cascade</text>
<path d="M1046.23 1271.02V1454.25H1749.22" fill="none" stroke="#000" stroke-width="1.9"/>
<line x1="1046.23" y1="1454.25" x2="1046.23" y2="1462.25" stroke="#000" stroke-width="1.9" />
<text x="1046.23" y="1497.37" font-size="27.85" text-anchor="middle">0</text>
<line x1="1163.39" y1="1454.25" x2="1163.39" y2="1462.25" stroke="#000" stroke-width="1.9" />
<text x="1163.39" y="1497.37" font-size="27.85" text-anchor="middle">1</text>
<line x1="1280.56" y1="1454.25" x2="1280.56" y2="1462.25" stroke="#000" stroke-width="1.9" />
<text x="1280.56" y="1497.37" font-size="27.85" text-anchor="middle">2</text>
<line x1="1397.72" y1="1454.25" x2="1397.72" y2="1462.25" stroke="#000" stroke-width="1.9" />
<text x="1397.72" y="1497.37" font-size="27.85" text-anchor="middle">3</text>
<line x1="1514.89" y1="1454.25" x2="1514.89" y2="1462.25" stroke="#000" stroke-width="1.9" />
<text x="1514.89" y="1497.37" font-size="27.85" text-anchor="middle">4</text>
<line x1="1632.06" y1="1454.25" x2="1632.06" y2="1462.25" stroke="#000" stroke-width="1.9" />
<text x="1632.06" y="1497.37" font-size="27.85" text-anchor="middle">5</text>
<line x1="1749.22" y1="1454.25" x2="1749.22" y2="1462.25" stroke="#000" stroke-width="1.9" />
<text x="1749.22" y="1497.37" font-size="27.85" text-anchor="middle">6</text>
<text x="1410.3" y="1534.79" font-size="27.85" text-anchor="middle">-Log<tspan font-size="18" dy="5">10</tspan><tspan dy="-5"> </tspan><tspan font-style="italic">P</tspan> value</text>
<text x="1119.28" y="1602.16" font-size="27.85" >Hypomethylated and upregulated genes</text>
<rect x="1046.23" y="1626.11" width="571.86" height="29.94" fill="#fcc0bc"/>
<rect x="1046.23" y="1662.63" width="485.03" height="30.54" fill="#fcc0bc"/>
<rect x="1046.23" y="1699.76" width="365.87" height="29.34" fill="#fcc0bc"/>
<rect x="1046.23" y="1736.29" width="223.95" height="29.94" fill="#fcc0bc"/>
<rect x="1046.23" y="1772.81" width="204.79" height="30.54" fill="#fcc0bc"/>
<text x="1060" y="1649.26" font-size="27.85" >Cell adhesion</text>
<text x="1060" y="1685.79" font-size="27.85" >Extracellular matrix organization</text>
<text x="1060" y="1722.92" font-size="27.85" >Cytoskeleton organization</text>
<text x="1060" y="1758.84" font-size="27.85" >Positive regulation of cell migration</text>
<text x="1060" y="1795.97" font-size="27.85" >Hippo signaling</text>
<path d="M1046.23 1623.11V1806.95H1749.22" fill="none" stroke="#000" stroke-width="1.9"/>
<line x1="1046.23" y1="1806.95" x2="1046.23" y2="1814.95" stroke="#000" stroke-width="1.9" />
<text x="1046.23" y="1849.46" font-size="27.85" text-anchor="middle">0</text>
<line x1="1221.98" y1="1806.95" x2="1221.98" y2="1814.95" stroke="#000" stroke-width="1.9" />
<text x="1221.98" y="1849.46" font-size="27.85" text-anchor="middle">2</text>
<line x1="1397.72" y1="1806.95" x2="1397.72" y2="1814.95" stroke="#000" stroke-width="1.9" />
<text x="1397.72" y="1849.46" font-size="27.85" text-anchor="middle">4</text>
<line x1="1573.47" y1="1806.95" x2="1573.47" y2="1814.95" stroke="#000" stroke-width="1.9" />
<text x="1573.47" y="1849.46" font-size="27.85" text-anchor="middle">6</text>
<line x1="1749.22" y1="1806.95" x2="1749.22" y2="1814.95" stroke="#000" stroke-width="1.9" />
<text x="1749.22" y="1849.46" font-size="27.85" text-anchor="middle">8</text>
<text x="1410.3" y="1882.1" font-size="27.85" text-anchor="middle">-Log<tspan font-size="18" dy="5">10</tspan><tspan dy="-5"> </tspan><tspan font-style="italic">P</tspan> value</text>
<text x="0" y="1944.5" font-size="43.5" font-weight="bold">h</text>
<text x="88" y="1983.5" font-size="27.85" >Chr12:89,741,794-89,748,483</text>
<line x1="187" y1="2032" x2="187" y2="2152" stroke="#f4a6a6" stroke-width="1" />
<text x="183.4" y="2048.3" font-size="13" fill="#1a1a1a" stroke="none" text-anchor="end">Scale</text>
<text x="183.4" y="2067.4" font-size="13" fill="#1a1a1a" stroke="none" text-anchor="end">chr12:</text>
<text x="63.7" y="2124.8" font-size="13" fill="#1a1a1a" stroke="none">Layered H3K27Ac</text>
<text x="183.4" y="2148.5" font-size="13" fill="#1a1a1a" stroke="none" text-anchor="end">DNase Clusters</text>
<text x="434.7" y="2048.3" font-size="13" fill="#1a1a1a" stroke="none" text-anchor="end">2 kb</text>
<path d="M438.2 2042H650.7M438.2 2034.8V2050.5M650.7 2034.8V2050.5" fill="none" stroke="#222" stroke-width="1"/>
<text x="659.6" y="2047.8" font-size="13" fill="#1a1a1a" stroke="none">hg19</text>
<line x1="210.7" y1="2052.7" x2="210.7" y2="2069" stroke="#222" stroke-width="1" />
<line x1="317.2" y1="2052.7" x2="317.2" y2="2069" stroke="#222" stroke-width="1" />
<text x="314.2" y="2066.6" font-size="12.4" fill="#1a1a1a" stroke="none" text-anchor="end">89,743,000</text>
<line x1="423.55" y1="2052.7" x2="423.55" y2="2069" stroke="#222" stroke-width="1" />
<text x="420.55" y="2066.6" font-size="12.4" fill="#1a1a1a" stroke="none" text-anchor="end">89,744,000</text>
<line x1="529.9" y1="2052.7" x2="529.9" y2="2069" stroke="#222" stroke-width="1" />
<text x="526.9" y="2066.6" font-size="12.4" fill="#1a1a1a" stroke="none" text-anchor="end">89,745,000</text>
<line x1="636.25" y1="2052.7" x2="636.25" y2="2069" stroke="#222" stroke-width="1" />
<text x="633.25" y="2066.6" font-size="12.4" fill="#1a1a1a" stroke="none" text-anchor="end">89,746,000</text>
<line x1="742.6" y1="2052.7" x2="742.6" y2="2069" stroke="#222" stroke-width="1" />
<text x="739.6" y="2066.6" font-size="12.4" fill="#1a1a1a" stroke="none" text-anchor="end">89,747,000</text>
<line x1="848.95" y1="2052.7" x2="848.95" y2="2069" stroke="#222" stroke-width="1" />
<text x="845.95" y="2066.6" font-size="12.4" fill="#1a1a1a" stroke="none" text-anchor="end">89,748,000</text>
<rect x="184.3" y="2073.5" width="1.4" height="12.5" fill="#bbb"/>
<line x1="353" y1="2079.3" x2="575" y2="2079.3" stroke="#333" stroke-width="1" />
<path d="M360 2076.3l-3 3l3 3M369.1 2076.3l-3 3l3 3M378.2 2076.3l-3 3l3 3M387.3 2076.3l-3 3l3 3M396.4 2076.3l-3 3l3 3M405.5 2076.3l-3 3l3 3M414.6 2076.3l-3 3l3 3M423.7 2076.3l-3 3l3 3M432.8 2076.3l-3 3l3 3M441.9 2076.3l-3 3l3 3M451 2076.3l-3 3l3 3M460.1 2076.3l-3 3l3 3M514.7 2076.3l-3 3l3 3M523.8 2076.3l-3 3l3 3M532.9 2076.3l-3 3l3 3M542 2076.3l-3 3l3 3M551.1 2076.3l-3 3l3 3M560.2 2076.3l-3 3l3 3M569.3 2076.3l-3 3l3 3" fill="none" stroke="#8c8cd9" stroke-width="0.8"/>
<rect x="193" y="2074.6" width="127.3" height="9.8" fill="#000"/>
<rect x="320.3" y="2070.5" width="32.7" height="17.6" fill="#000"/>
<rect x="462.2" y="2070.5" width="46" height="17.6" fill="#000"/>
<rect x="574.3" y="2070.5" width="41.8" height="17.6" fill="#000"/>
<rect x="616" y="2075.2" width="51.2" height="9.6" fill="#000"/>
<line x1="320.3" y1="2106" x2="353" y2="2106" stroke="#9a9ad0" stroke-width="0.9" />
<line x1="569" y1="2099" x2="667.2" y2="2099" stroke="#000" stroke-width="2.4" />
<path d="M555 2099L570.5 2090.8V2107.2Z" fill="#000"/>
<text x="682" y="2101" font-size="27.85" font-style="italic">DUSP6</text>
<path d="M188.61 2133.4L188.61 2131.29L208.75 2130.75L230.53 2128.57L244.14 2127.21L257.75 2129.93L271.36 2131.29L290.41 2126.4L312.18 2127.21L333.96 2123.95L353.01 2127.21L366.62 2129.93L388.39 2123.67L421.06 2122.59L448.27 2119.86L457.04 2117.99L485.44 2110.89L496.81 2115.15L513.85 2116.57L528.05 2112.31L542.25 2113.73L559.29 2117.99L573.49 2116.57L587.69 2110.89L610.42 2108.62L633.14 2108.05L644.5 2112.31L655.86 2122.25L667.22 2131.34L678.58 2132.19L689.94 2125.09L695.62 2116.57L706.98 2108.62L724.03 2108.05L741.07 2110.89L752.43 2108.62L780.83 2108.05L792.19 2113.73L800.71 2108.62L814.91 2108.05L826.28 2117.99L837.64 2125.66L849 2119.41L860.36 2116.57L871.72 2116.57L883.08 2112.31L898.99 2110.89L898.99 2133.4Z" fill="#7fd4fa" fill-opacity="1"/>
<path d="M188.61 2133.4L188.61 2132.54L208.75 2131.85L230.53 2130.67L244.14 2130.69L257.75 2131.67L271.36 2132.37L290.41 2129.63L312.18 2129.86L333.96 2129.63L353.01 2131.04L366.62 2131.38L388.39 2128.7L421.06 2127.28L448.27 2128.32L457.04 2125.9L485.44 2120.9L496.81 2125.51L513.85 2123.11L528.05 2120.74L542.25 2125.87L559.29 2127.52L573.49 2124.81L587.69 2119.67L610.42 2121.74L633.14 2122.52L644.5 2123.26L655.86 2129.14L667.22 2132.51L678.58 2132.81L689.94 2129.25L695.62 2126.11L706.98 2122.68L724.03 2122.51L741.07 2122.37L752.43 2122.31L780.83 2123.76L792.19 2121.9L800.71 2120.66L814.91 2119.82L826.28 2126.9L837.64 2128.58L849 2125.15L860.36 2126.58L871.72 2125.69L883.08 2121.69L898.99 2120.96L898.99 2133.4Z" fill="#6a7fe6" fill-opacity="0.8"/>
<path d="M188.61 2133.4L188.61 2132.43L208.75 2132.19L230.53 2132.12L244.14 2131.73L257.75 2131.9L271.36 2132.53L290.41 2130.62L312.18 2131.43L333.96 2129.78L353.01 2131.03L366.62 2132.09L388.39 2130.62L421.06 2129.67L448.27 2128.84L457.04 2127.11L485.44 2122.89L496.81 2125.06L513.85 2127.18L528.05 2126.06L542.25 2127.3L559.29 2129.4L573.49 2129.06L587.69 2125.47L610.42 2125.45L633.14 2124.93L644.5 2124.02L655.86 2129.32L667.22 2132.63L678.58 2133.03L689.94 2131.26L695.62 2127.98L706.98 2126.42L724.03 2124.22L741.07 2122.87L752.43 2123.54L780.83 2126.02L792.19 2124.65L800.71 2122.89L814.91 2122.99L826.28 2126.5L837.64 2130.17L849 2127.49L860.36 2127.87L871.72 2125.59L883.08 2123.7L898.99 2126.94L898.99 2133.4Z" fill="#5a35c8" fill-opacity="0.85"/>
<path d="M188.61 2133.4L188.61 2133.07L208.75 2132.85L230.53 2132.54L244.14 2132.06L257.75 2132.64L271.36 2133.13L290.41 2132.54L312.18 2131.83L333.96 2131.87L353.01 2132.43L366.62 2132.43L388.39 2131.5L421.06 2130.65L448.27 2130.74L457.04 2129.97L485.44 2130.16L496.81 2129.36L513.85 2129.04L528.05 2129.1L542.25 2128.71L559.29 2129.9L573.49 2131.21L587.69 2127.97L610.42 2128.08L633.14 2129.14L644.5 2130.76L655.86 2130.52L667.22 2133L678.58 2133.12L689.94 2131.23L695.62 2129.46L706.98 2126.77L724.03 2128.76L741.07 2127.81L752.43 2128.66L780.83 2126.56L792.19 2128.27L800.71 2130.04L814.91 2129.81L826.28 2131.02L837.64 2131.27L849 2130.74L860.36 2129.69L871.72 2130.57L883.08 2129.16L898.99 2129.31L898.99 2133.4Z" fill="#1f1a5a" fill-opacity="0.85"/>
<path d="M870 2133.4L880 2114L899 2111.5V2133.4Z" fill="#d98cf0" fill-opacity="0.9"/>
<path d="M613 2107.6H627.5M711 2107.6H734M751 2107.6H782M803.6 2107.6H813.6" fill="none" stroke="#8a2be2" stroke-width="1.3"/>
<line x1="575" y1="2106.3" x2="613" y2="2106.3" stroke="#9fd8f5" stroke-width="0.9" />
<line x1="188" y1="2133.7" x2="899" y2="2133.7" stroke="#333" stroke-width="0.7" />
<rect x="188.6" y="2135.2" width="22.9" height="16.2" fill="#c2c2c2"/>
<rect x="221.8" y="2135.2" width="15.8" height="16.2" fill="#e2e2e2"/>
<rect x="280.6" y="2135.2" width="82.2" height="16.2" fill="#c6c6c6"/>
<rect x="378.9" y="2135.2" width="46.2" height="16.2" fill="#000"/>
<rect x="430" y="2135.2" width="103" height="16.2" fill="#747474"/>
<rect x="545.2" y="2135.2" width="103" height="16.2" fill="#000"/>
<rect x="651.4" y="2135.2" width="2" height="16.2" fill="#555"/>
<rect x="654.6" y="2135.2" width="2.2" height="16.2" fill="#777"/>
<rect x="659.3" y="2135.2" width="35.7" height="16.2" fill="#000"/>
<rect x="709.6" y="2135.2" width="28.6" height="16.2" fill="#000"/>
<rect x="746.8" y="2135.2" width="152.2" height="16.2" fill="#000"/>
<rect x="318.2" y="2150" width="4.2" height="23" fill="#ff0000"/>
<rect x="325" y="2150" width="3.6" height="23" fill="#ff0000"/>
<rect x="331.3" y="2150" width="3.6" height="23" fill="#ff0000"/>
<line x1="318" y1="2173" x2="271.5" y2="2248.8" stroke="#000" stroke-width="1.2" stroke-dasharray="5.5 3.2"/>
<line x1="335.5" y1="2172.2" x2="555.9" y2="2248" stroke="#000" stroke-width="1.2" stroke-dasharray="5.5 3.2"/>
<text x="52.2" y="2250.5" font-size="28.2" >CpG methylation</text>
<text x="163.3" y="2296.7" font-size="27.85" >H3122</text>
<text x="163.3" y="2385.4" font-size="27.85" >LR</text>
<circle cx="301.7" cy="2287.1" r="31" fill="#fff" stroke="#000" stroke-width="2"/><path d="M301.7 2287.1L301.7 2256.1A31 31 0 0 1 307.51 2256.65Z" fill="#000" stroke="#000" stroke-width="0.8" stroke-linejoin="round"/>
<circle cx="415.3" cy="2287.1" r="31" fill="#fff" stroke="#000" stroke-width="2"/><path d="M415.3 2287.1L415.3 2256.1A31 31 0 0 1 424.88 2257.62Z" fill="#000" stroke="#000" stroke-width="0.8" stroke-linejoin="round"/>
<circle cx="525.7" cy="2287.1" r="31" fill="#fff" stroke="#000" stroke-width="2"/><path d="M525.7 2287.1L525.7 2256.1A31 31 0 0 1 532.46 2256.85Z" fill="#000" stroke="#000" stroke-width="0.8" stroke-linejoin="round"/>
<circle cx="301.7" cy="2372" r="31" fill="#fff" stroke="#000" stroke-width="2"/><path d="M301.7 2372L301.7 2341A31 31 0 1 1 279.1 2350.78Z" fill="#000" stroke="#000" stroke-width="0.8" stroke-linejoin="round"/>
<circle cx="415.3" cy="2372" r="31" fill="#fff" stroke="#000" stroke-width="2"/><path d="M415.3 2372L415.3 2341A31 31 0 1 1 398.69 2345.83Z" fill="#000" stroke="#000" stroke-width="0.8" stroke-linejoin="round"/>
<circle cx="525.7" cy="2372" r="31" fill="#fff" stroke="#000" stroke-width="2"/><path d="M525.7 2372L525.7 2341A31 31 0 1 1 516.12 2342.52Z" fill="#000" stroke="#000" stroke-width="0.8" stroke-linejoin="round"/>
<text x="338.5" y="2343.9" font-size="27.85" >0.02</text>
<text x="449.6" y="2343.9" font-size="27.85" >0.05</text>
<text x="559" y="2343.9" font-size="27.85" >0.03</text>
<text x="338.5" y="2431.6" font-size="27.85" >0.87</text>
<text x="449.6" y="2431.6" font-size="27.85" >0.91</text>
<text x="559" y="2431.6" font-size="27.85" >0.95</text>
<rect x="772" y="2281.26" width="32.6" height="217.14" fill="#fff" stroke="#000" stroke-width="1.8"/>
<path d="M788.3 2265.94V2296.58M782.3 2265.94h12M782.3 2296.58h12" fill="none" stroke="#505050" stroke-width="1.6"/>
<rect x="874.3" y="2494.57" width="33.7" height="3.83" fill="#000" stroke="#000" stroke-width="1.8"/>
<path d="M737.6 2228.1V2498.4H942.5" fill="none" stroke="#000" stroke-width="1.9"/>
<line x1="728.6" y1="2498.4" x2="737.6" y2="2498.4" stroke="#000" stroke-width="1.9" />
<text x="703.9" y="2508.4" font-size="27.85" text-anchor="end">0</text>
<line x1="728.6" y1="2453.35" x2="737.6" y2="2453.35" stroke="#000" stroke-width="1.9" />
<text x="703.9" y="2463.35" font-size="27.85" text-anchor="end">10</text>
<line x1="728.6" y1="2408.3" x2="737.6" y2="2408.3" stroke="#000" stroke-width="1.9" />
<text x="703.9" y="2418.3" font-size="27.85" text-anchor="end">20</text>
<line x1="728.6" y1="2363.25" x2="737.6" y2="2363.25" stroke="#000" stroke-width="1.9" />
<text x="703.9" y="2373.25" font-size="27.85" text-anchor="end">30</text>
<line x1="728.6" y1="2318.2" x2="737.6" y2="2318.2" stroke="#000" stroke-width="1.9" />
<text x="703.9" y="2328.2" font-size="27.85" text-anchor="end">40</text>
<line x1="728.6" y1="2273.15" x2="737.6" y2="2273.15" stroke="#000" stroke-width="1.9" />
<text x="703.9" y="2283.15" font-size="27.85" text-anchor="end">50</text>
<line x1="728.6" y1="2228.1" x2="737.6" y2="2228.1" stroke="#000" stroke-width="1.9" />
<text x="703.9" y="2238.1" font-size="27.85" text-anchor="end">60</text>
<line x1="737.6" y1="2498.4" x2="737.6" y2="2507.9" stroke="#000" stroke-width="1.9" />
<line x1="840.05" y1="2498.4" x2="840.05" y2="2507.9" stroke="#000" stroke-width="1.9" />
<line x1="942.5" y1="2498.4" x2="942.5" y2="2507.9" stroke="#000" stroke-width="1.9" />
<text x="788.83" y="2541.6" font-size="27.85" text-anchor="middle">H3122</text>
<text x="891.27" y="2541.6" font-size="27.85" text-anchor="middle">LR</text>
<text x="841.5" y="2218" font-size="27.85" text-anchor="middle" font-style="italic">DUSP6</text>
<text font-size="27.85" text-anchor="middle" transform="translate(649.9 2354.5) rotate(-90)">Relative mRNA expression</text>
<text x="890.7" y="2497.9" font-size="38.5" text-anchor="middle">*</text>
<line x1="885" y1="2493.8" x2="897" y2="2493.8" stroke="#7f7f7f" stroke-width="1" />
<text x="965" y="1944.5" font-size="43.5" font-weight="bold">i</text>
<text x="1071" y="1983.5" font-size="27.85" >Chr19:41,717,597-41,760,160</text>
<line x1="1173.9" y1="1995.4" x2="1173.9" y2="2150.6" stroke="#f4a6a6" stroke-width="1" />
<text x="1171.3" y="2011.1" font-size="13" fill="#1a1a1a" stroke="none" text-anchor="end">Scale</text>
<text x="1171.3" y="2030.1" font-size="13" fill="#1a1a1a" stroke="none" text-anchor="end">chr19:</text>
<text x="1050.9" y="2123.2" font-size="13" fill="#1a1a1a" stroke="none">Layered H3K27Ac</text>
<text x="1171.3" y="2147.2" font-size="13" fill="#1a1a1a" stroke="none" text-anchor="end">DNase Clusters</text>
<text x="1445.6" y="2011.1" font-size="13" fill="#1a1a1a" stroke="none" text-anchor="end">10 kb</text>
<path d="M1449.6 2006.8H1616.5M1449.6 1999.5V2014.5M1616.5 1999.5V2014.5" fill="none" stroke="#222" stroke-width="1"/>
<text x="1625.2" y="2011.1" font-size="13" fill="#1a1a1a" stroke="none">hg19</text>
<line x1="1216.9" y1="2016.4" x2="1216.9" y2="2032.7" stroke="#222" stroke-width="1" />
<line x1="1300" y1="2016.4" x2="1300" y2="2032.7" stroke="#222" stroke-width="1" />
<text x="1297" y="2030.2" font-size="12.4" fill="#1a1a1a" stroke="none" text-anchor="end">41,725,000</text>
<line x1="1383.75" y1="2016.4" x2="1383.75" y2="2032.7" stroke="#222" stroke-width="1" />
<text x="1380.75" y="2030.2" font-size="12.4" fill="#1a1a1a" stroke="none" text-anchor="end">41,730,000</text>
<line x1="1467.5" y1="2016.4" x2="1467.5" y2="2032.7" stroke="#222" stroke-width="1" />
<text x="1464.5" y="2030.2" font-size="12.4" fill="#1a1a1a" stroke="none" text-anchor="end">41,735,000</text>
<line x1="1551.25" y1="2016.4" x2="1551.25" y2="2032.7" stroke="#222" stroke-width="1" />
<text x="1548.25" y="2030.2" font-size="12.4" fill="#1a1a1a" stroke="none" text-anchor="end">41,740,000</text>
<line x1="1635" y1="2016.4" x2="1635" y2="2032.7" stroke="#222" stroke-width="1" />
<text x="1632" y="2030.2" font-size="12.4" fill="#1a1a1a" stroke="none" text-anchor="end">41,745,000</text>
<line x1="1718.75" y1="2016.4" x2="1718.75" y2="2032.7" stroke="#222" stroke-width="1" />
<text x="1715.75" y="2030.2" font-size="12.4" fill="#1a1a1a" stroke="none" text-anchor="end">41,750,000</text>
<line x1="1802.5" y1="2016.4" x2="1802.5" y2="2032.7" stroke="#222" stroke-width="1" />
<text x="1799.5" y="2030.2" font-size="12.4" fill="#1a1a1a" stroke="none" text-anchor="end">41,755,000</text>
<text x="1883.3" y="2030.2" font-size="12.4" fill="#1a1a1a" stroke="none" text-anchor="end">41,760,000</text>
<line x1="1304" y1="2043.6" x2="1713" y2="2043.6" stroke="#333" stroke-width="1" />
<line x1="1304" y1="2061.3" x2="1872" y2="2061.3" stroke="#333" stroke-width="1" />
<path d="M1309 2041l2.6 2.6l-2.6 2.6M1317.3 2041l2.6 2.6l-2.6 2.6M1325.6 2041l2.6 2.6l-2.6 2.6M1333.9 2041l2.6 2.6l-2.6 2.6M1342.2 2041l2.6 2.6l-2.6 2.6M1350.5 2041l2.6 2.6l-2.6 2.6M1358.8 2041l2.6 2.6l-2.6 2.6M1367.1 2041l2.6 2.6l-2.6 2.6M1375.4 2041l2.6 2.6l-2.6 2.6M1383.7 2041l2.6 2.6l-2.6 2.6M1392 2041l2.6 2.6l-2.6 2.6M1400.3 2041l2.6 2.6l-2.6 2.6M1408.6 2041l2.6 2.6l-2.6 2.6M1416.9 2041l2.6 2.6l-2.6 2.6M1425.2 2041l2.6 2.6l-2.6 2.6M1433.5 2041l2.6 2.6l-2.6 2.6M1441.8 2041l2.6 2.6l-2.6 2.6M1450.1 2041l2.6 2.6l-2.6 2.6M1458.4 2041l2.6 2.6l-2.6 2.6M1466.7 2041l2.6 2.6l-2.6 2.6M1475 2041l2.6 2.6l-2.6 2.6M1483.3 2041l2.6 2.6l-2.6 2.6M1491.6 2041l2.6 2.6l-2.6 2.6M1499.9 2041l2.6 2.6l-2.6 2.6M1508.2 2041l2.6 2.6l-2.6 2.6M1516.5 2041l2.6 2.6l-2.6 2.6M1524.8 2041l2.6 2.6l-2.6 2.6M1533.1 2041l2.6 2.6l-2.6 2.6M1541.4 2041l2.6 2.6l-2.6 2.6M1549.7 2041l2.6 2.6l-2.6 2.6M1558 2041l2.6 2.6l-2.6 2.6M1566.3 2041l2.6 2.6l-2.6 2.6M1574.6 2041l2.6 2.6l-2.6 2.6M1582.9 2041l2.6 2.6l-2.6 2.6M1591.2 2041l2.6 2.6l-2.6 2.6M1599.5 2041l2.6 2.6l-2.6 2.6M1607.8 2041l2.6 2.6l-2.6 2.6M1616.1 2041l2.6 2.6l-2.6 2.6M1624.4 2041l2.6 2.6l-2.6 2.6M1632.7 2041l2.6 2.6l-2.6 2.6M1641 2041l2.6 2.6l-2.6 2.6M1649.3 2041l2.6 2.6l-2.6 2.6M1657.6 2041l2.6 2.6l-2.6 2.6M1665.9 2041l2.6 2.6l-2.6 2.6M1674.2 2041l2.6 2.6l-2.6 2.6M1682.5 2041l2.6 2.6l-2.6 2.6M1690.8 2041l2.6 2.6l-2.6 2.6M1699.1 2041l2.6 2.6l-2.6 2.6M1707.4 2041l2.6 2.6l-2.6 2.6M1309 2058.7l2.6 2.6l-2.6 2.6M1317.3 2058.7l2.6 2.6l-2.6 2.6M1325.6 2058.7l2.6 2.6l-2.6 2.6M1333.9 2058.7l2.6 2.6l-2.6 2.6M1342.2 2058.7l2.6 2.6l-2.6 2.6M1350.5 2058.7l2.6 2.6l-2.6 2.6M1358.8 2058.7l2.6 2.6l-2.6 2.6M1367.1 2058.7l2.6 2.6l-2.6 2.6M1375.4 2058.7l2.6 2.6l-2.6 2.6M1383.7 2058.7l2.6 2.6l-2.6 2.6M1392 2058.7l2.6 2.6l-2.6 2.6M1400.3 2058.7l2.6 2.6l-2.6 2.6M1408.6 2058.7l2.6 2.6l-2.6 2.6M1416.9 2058.7l2.6 2.6l-2.6 2.6M1425.2 2058.7l2.6 2.6l-2.6 2.6M1433.5 2058.7l2.6 2.6l-2.6 2.6M1441.8 2058.7l2.6 2.6l-2.6 2.6M1450.1 2058.7l2.6 2.6l-2.6 2.6M1458.4 2058.7l2.6 2.6l-2.6 2.6M1466.7 2058.7l2.6 2.6l-2.6 2.6M1475 2058.7l2.6 2.6l-2.6 2.6M1483.3 2058.7l2.6 2.6l-2.6 2.6M1491.6 2058.7l2.6 2.6l-2.6 2.6M1499.9 2058.7l2.6 2.6l-2.6 2.6M1508.2 2058.7l2.6 2.6l-2.6 2.6M1516.5 2058.7l2.6 2.6l-2.6 2.6M1524.8 2058.7l2.6 2.6l-2.6 2.6M1533.1 2058.7l2.6 2.6l-2.6 2.6M1541.4 2058.7l2.6 2.6l-2.6 2.6M1549.7 2058.7l2.6 2.6l-2.6 2.6M1558 2058.7l2.6 2.6l-2.6 2.6M1566.3 2058.7l2.6 2.6l-2.6 2.6M1574.6 2058.7l2.6 2.6l-2.6 2.6M1582.9 2058.7l2.6 2.6l-2.6 2.6M1591.2 2058.7l2.6 2.6l-2.6 2.6M1599.5 2058.7l2.6 2.6l-2.6 2.6M1607.8 2058.7l2.6 2.6l-2.6 2.6M1616.1 2058.7l2.6 2.6l-2.6 2.6M1624.4 2058.7l2.6 2.6l-2.6 2.6M1632.7 2058.7l2.6 2.6l-2.6 2.6M1641 2058.7l2.6 2.6l-2.6 2.6M1649.3 2058.7l2.6 2.6l-2.6 2.6M1657.6 2058.7l2.6 2.6l-2.6 2.6M1665.9 2058.7l2.6 2.6l-2.6 2.6M1674.2 2058.7l2.6 2.6l-2.6 2.6M1682.5 2058.7l2.6 2.6l-2.6 2.6M1690.8 2058.7l2.6 2.6l-2.6 2.6M1699.1 2058.7l2.6 2.6l-2.6 2.6M1707.4 2058.7l2.6 2.6l-2.6 2.6M1715.7 2058.7l2.6 2.6l-2.6 2.6M1724 2058.7l2.6 2.6l-2.6 2.6M1732.3 2058.7l2.6 2.6l-2.6 2.6M1740.6 2058.7l2.6 2.6l-2.6 2.6M1748.9 2058.7l2.6 2.6l-2.6 2.6M1757.2 2058.7l2.6 2.6l-2.6 2.6M1765.5 2058.7l2.6 2.6l-2.6 2.6M1773.8 2058.7l2.6 2.6l-2.6 2.6M1782.1 2058.7l2.6 2.6l-2.6 2.6M1790.4 2058.7l2.6 2.6l-2.6 2.6M1798.7 2058.7l2.6 2.6l-2.6 2.6M1807 2058.7l2.6 2.6l-2.6 2.6M1815.3 2058.7l2.6 2.6l-2.6 2.6M1823.6 2058.7l2.6 2.6l-2.6 2.6M1831.9 2058.7l2.6 2.6l-2.6 2.6M1840.2 2058.7l2.6 2.6l-2.6 2.6M1848.5 2058.7l2.6 2.6l-2.6 2.6M1856.8 2058.7l2.6 2.6l-2.6 2.6M1865.1 2058.7l2.6 2.6l-2.6 2.6" fill="none" stroke="#9a9ae0" stroke-width="0.8"/>
<rect x="1325.8" y="2034.2" width="4" height="17.4" fill="#000"/>
<rect x="1325.8" y="2052.4" width="4" height="17.4" fill="#000"/>
<rect x="1334" y="2034.2" width="1.6" height="17.4" fill="#000"/>
<rect x="1334" y="2052.4" width="1.6" height="17.4" fill="#000"/>
<rect x="1347" y="2034.2" width="2.8" height="17.4" fill="#000"/>
<rect x="1347" y="2052.4" width="2.8" height="17.4" fill="#000"/>
<rect x="1498.8" y="2034.2" width="1.2" height="17.4" fill="#000"/>
<rect x="1498.8" y="2052.4" width="1.2" height="17.4" fill="#000"/>
<rect x="1502.4" y="2034.2" width="1.4" height="17.4" fill="#000"/>
<rect x="1502.4" y="2052.4" width="1.4" height="17.4" fill="#000"/>
<rect x="1616" y="2034.2" width="3.3" height="17.4" fill="#000"/>
<rect x="1616" y="2052.4" width="3.3" height="17.4" fill="#000"/>
<rect x="1623.3" y="2034.2" width="3.3" height="17.4" fill="#000"/>
<rect x="1623.3" y="2052.4" width="3.3" height="17.4" fill="#000"/>
<rect x="1635.5" y="2034.2" width="2.8" height="17.4" fill="#000"/>
<rect x="1635.5" y="2052.4" width="2.8" height="17.4" fill="#000"/>
<rect x="1644.4" y="2034.2" width="1.2" height="17.4" fill="#000"/>
<rect x="1644.4" y="2052.4" width="1.2" height="17.4" fill="#000"/>
<rect x="1698.2" y="2034.2" width="2.8" height="17.4" fill="#000"/>
<rect x="1698.2" y="2052.4" width="2.8" height="17.4" fill="#000"/>
<rect x="1302.4" y="2038.5" width="2.4" height="10" fill="#000"/>
<rect x="1304.8" y="2034.2" width="1.6" height="17.4" fill="#000"/>
<rect x="1302.4" y="2056.5" width="2.4" height="10" fill="#000"/>
<rect x="1304.8" y="2052.4" width="1.6" height="17.4" fill="#000"/>
<rect x="1710.4" y="2034.2" width="1.4" height="17.4" fill="#000"/>
<rect x="1711.8" y="2038.5" width="2.4" height="10" fill="#000"/>
<rect x="1710.6" y="2052.4" width="1.1" height="17.4" fill="#000"/>
<rect x="1792.1" y="2052.4" width="1.5" height="17.4" fill="#000"/>
<rect x="1796.2" y="2052.4" width="1.6" height="17.4" fill="#000"/>
<rect x="1856.6" y="2052.4" width="1.2" height="17.4" fill="#000"/>
<rect x="1865.6" y="2052.4" width="1.4" height="17.4" fill="#000"/>
<path d="M1871.5 2053.5L1877 2061.3L1871.5 2069ZM1877.5 2053.5L1883 2061.3L1877.5 2069Z" fill="#fff" stroke="#000" stroke-width="1"/>
<text x="1234.2" y="2062.9" font-size="27.85" font-style="italic">AXL</text>
<line x1="1301.3" y1="2079.3" x2="1400" y2="2079.3" stroke="#000" stroke-width="2.4" />
<path d="M1414.5 2079.3L1398.5 2070.3V2088.3Z" fill="#000"/>
<path d="M1276.8 2132.3L1276.8 2131.54L1284.96 2127.45L1289.05 2120.65L1294.49 2124.73L1301.3 2117.93L1309.46 2113.84L1314.9 2109.76L1318.99 2107.58L1324.43 2109.76L1328.51 2111.12L1333.96 2113.84L1339.4 2117.93L1347.57 2126.09L1355.73 2130.17L1366.62 2131.54L1377.51 2126.09L1393.84 2123.37L1402 2117.93L1421.06 2120.65L1434.67 2126.09L1442.83 2130.99L1472.77 2129.36L1478.21 2124.73L1483.66 2126.09L1487.74 2122.01L1491.82 2127.45L1499.99 2130.17L1505.43 2131.54L1505.43 2132.3Z" fill="#ff66b8" fill-opacity="0.85"/>
<path d="M1279.52 2132.3L1279.52 2132.08L1287.69 2126.09L1301.3 2127.45L1312.18 2120.65L1323.07 2123.37L1339.4 2126.09L1347.57 2123.37L1354.37 2113.84L1358.45 2123.37L1363.9 2130.17L1370.7 2117.93L1377.51 2120.65L1382.95 2112.48L1389.76 2120.65L1396.56 2115.2L1403.36 2120.65L1410.17 2117.93L1421.06 2117.93L1429.22 2112.48L1437.39 2126.09L1442.83 2131.54L1442.83 2132.3Z" fill="#45c3f2" fill-opacity="0.8"/>
<path d="M1283.6 2132.3L1283.6 2132.08L1290.41 2123.37L1295.85 2107.04L1302.66 2107.04L1306.74 2120.65L1314.9 2117.93L1323.07 2112.48L1331.24 2117.93L1339.4 2123.37L1350.29 2127.45L1361.18 2130.17L1366.62 2123.37L1377.51 2126.09L1393.84 2123.37L1404.73 2115.2L1421.06 2113.84L1431.94 2117.93L1440.11 2130.17L1440.11 2132.3Z" fill="#8a4be0" fill-opacity="0.7"/>
<path d="M1284.96 2132.3L1284.96 2132.08L1293.13 2126.09L1301.3 2123.37L1312.18 2124.73L1320.35 2117.93L1328.51 2123.37L1339.4 2127.45L1353.01 2129.36L1365.26 2127.45L1369.34 2107.04L1374.24 2107.04L1377.51 2117.93L1380.23 2109.76L1385.67 2109.76L1389.76 2123.37L1396.56 2126.09L1403.36 2107.04L1410.71 2107.04L1412.35 2116.57L1414.25 2107.04L1418.88 2107.04L1421.06 2117.93L1423.23 2107.04L1429.22 2107.04L1433.3 2120.65L1438.75 2130.17L1442.83 2132.08L1442.83 2132.3Z" fill="#1a1a9a" fill-opacity="0.85"/>
<path d="M1284.96 2132.3L1284.96 2132.08L1295.85 2127.45L1312.18 2126.09L1328.51 2127.45L1344.84 2129.36L1366.62 2128.81L1382.95 2126.09L1402 2127.45L1415.61 2124.73L1431.94 2127.45L1440.11 2132.08L1440.11 2132.3Z" fill="#10103a" fill-opacity="0.75"/>
<path d="M1296.4 2106.6H1301.84M1369.89 2106.6H1373.7M1380.23 2106.6H1385.67M1404.18 2106.6H1410.17M1414.52 2106.6H1418.88M1423.23 2106.6H1429.22" fill="none" stroke="#7a20e0" stroke-width="1.3"/>
<line x1="1174.5" y1="2132.5" x2="1883.5" y2="2132.5" stroke="#2a2a5a" stroke-width="1.1" />
<rect x="1176" y="2131.33" width="3.12" height="1.4" fill="#1a1a9a" opacity="0.8"/>
<rect x="1181.61" y="2131.36" width="3.87" height="1.4" fill="#8a4be0" opacity="0.8"/>
<rect x="1193.66" y="2131.15" width="1.78" height="1.4" fill="#e0a020" opacity="0.8"/>
<rect x="1202.05" y="2131.53" width="4.05" height="1.4" fill="#8a4be0" opacity="0.8"/>
<rect x="1214.71" y="2131.53" width="2.98" height="1.4" fill="#ff66b8" opacity="0.8"/>
<rect x="1219.57" y="2130.78" width="3.27" height="1.4" fill="#e0a020" opacity="0.8"/>
<rect x="1224.35" y="2130.91" width="3.91" height="1.4" fill="#ff66b8" opacity="0.8"/>
<rect x="1236.61" y="2131.48" width="2.22" height="1.4" fill="#e03030" opacity="0.8"/>
<rect x="1243.2" y="2131.43" width="1.81" height="1.4" fill="#1a1a9a" opacity="0.8"/>
<rect x="1249.18" y="2131.66" width="2.7" height="1.4" fill="#20a060" opacity="0.8"/>
<rect x="1259.97" y="2131.65" width="4.58" height="1.4" fill="#8a4be0" opacity="0.8"/>
<rect x="1272.32" y="2131.46" width="1.99" height="1.4" fill="#20a060" opacity="0.8"/>
<rect x="1282.55" y="2131.1" width="1.89" height="1.4" fill="#ff66b8" opacity="0.8"/>
<rect x="1291.56" y="2130.85" width="2.19" height="1.4" fill="#45c3f2" opacity="0.8"/>
<rect x="1294.82" y="2131.16" width="1.79" height="1.4" fill="#ff66b8" opacity="0.8"/>
<rect x="1301.62" y="2131.16" width="3.51" height="1.4" fill="#1a1a9a" opacity="0.8"/>
<rect x="1309.48" y="2131.06" width="2.89" height="1.4" fill="#ff66b8" opacity="0.8"/>
<rect x="1318.98" y="2130.76" width="2.01" height="1.4" fill="#20a060" opacity="0.8"/>
<rect x="1329.66" y="2131.14" width="1.69" height="1.4" fill="#e0a020" opacity="0.8"/>
<rect x="1339.16" y="2130.96" width="4.11" height="1.4" fill="#e0a020" opacity="0.8"/>
<rect x="1352.26" y="2130.99" width="1.92" height="1.4" fill="#1a1a9a" opacity="0.8"/>
<rect x="1356.47" y="2130.96" width="3.27" height="1.4" fill="#e03030" opacity="0.8"/>
<rect x="1366.14" y="2130.93" width="3.57" height="1.4" fill="#ff66b8" opacity="0.8"/>
<rect x="1377.64" y="2130.82" width="1.88" height="1.4" fill="#45c3f2" opacity="0.8"/>
<rect x="1384.14" y="2130.71" width="2.91" height="1.4" fill="#e0a020" opacity="0.8"/>
<rect x="1394.01" y="2131.09" width="2.83" height="1.4" fill="#ff66b8" opacity="0.8"/>
<rect x="1401.3" y="2131.26" width="2.25" height="1.4" fill="#45c3f2" opacity="0.8"/>
<rect x="1411.07" y="2131.42" width="2.58" height="1.4" fill="#e0a020" opacity="0.8"/>
<rect x="1420.92" y="2130.92" width="1.59" height="1.4" fill="#e03030" opacity="0.8"/>
<rect x="1426.93" y="2130.92" width="2.71" height="1.4" fill="#e0a020" opacity="0.8"/>
<rect x="1436.55" y="2131.47" width="2.99" height="1.4" fill="#e03030" opacity="0.8"/>
<rect x="1443.74" y="2130.84" width="2.81" height="1.4" fill="#45c3f2" opacity="0.8"/>
<rect x="1448.66" y="2131.01" width="2.52" height="1.4" fill="#45c3f2" opacity="0.8"/>
<rect x="1452.41" y="2130.89" width="4.79" height="1.4" fill="#45c3f2" opacity="0.8"/>
<rect x="1465.77" y="2131.09" width="4.95" height="1.4" fill="#ff66b8" opacity="0.8"/>
<rect x="1472.11" y="2130.91" width="3.08" height="1.4" fill="#45c3f2" opacity="0.8"/>
<rect x="1481.08" y="2131.35" width="4.88" height="1.4" fill="#1a1a9a" opacity="0.8"/>
<rect x="1490.81" y="2130.74" width="2.47" height="1.4" fill="#20a060" opacity="0.8"/>
<rect x="1498.73" y="2131.63" width="3.94" height="1.4" fill="#8a4be0" opacity="0.8"/>
<rect x="1504.81" y="2130.91" width="3.47" height="1.4" fill="#e0a020" opacity="0.8"/>
<rect x="1516.37" y="2130.98" width="2.09" height="1.4" fill="#e03030" opacity="0.8"/>
<rect x="1524.24" y="2131.35" width="3.63" height="1.4" fill="#ff66b8" opacity="0.8"/>
<rect x="1531.09" y="2130.9" width="1.95" height="1.4" fill="#e03030" opacity="0.8"/>
<rect x="1534.71" y="2131.48" width="4.23" height="1.4" fill="#ff66b8" opacity="0.8"/>
<rect x="1541.56" y="2131.11" width="3.16" height="1.4" fill="#e0a020" opacity="0.8"/>
<rect x="1548.83" y="2131.22" width="2.11" height="1.4" fill="#45c3f2" opacity="0.8"/>
<rect x="1556.22" y="2131.67" width="4.79" height="1.4" fill="#e0a020" opacity="0.8"/>
<rect x="1569.12" y="2131.18" width="3.41" height="1.4" fill="#e0a020" opacity="0.8"/>
<rect x="1578.66" y="2130.82" width="4.29" height="1.4" fill="#e0a020" opacity="0.8"/>
<rect x="1588.28" y="2130.98" width="2.55" height="1.4" fill="#20a060" opacity="0.8"/>
<rect x="1592.94" y="2131.21" width="1.85" height="1.4" fill="#ff66b8" opacity="0.8"/>
<rect x="1599.71" y="2131.65" width="3.73" height="1.4" fill="#e0a020" opacity="0.8"/>
<rect x="1604.67" y="2131.24" width="2.35" height="1.4" fill="#45c3f2" opacity="0.8"/>
<rect x="1614.61" y="2131.08" width="4.05" height="1.4" fill="#1a1a9a" opacity="0.8"/>
<rect x="1619.95" y="2131.09" width="3.59" height="1.4" fill="#20a060" opacity="0.8"/>
<rect x="1627.81" y="2131.62" width="3.56" height="1.4" fill="#ff66b8" opacity="0.8"/>
<rect x="1637.24" y="2131.64" width="2.13" height="1.4" fill="#45c3f2" opacity="0.8"/>
<rect x="1645.37" y="2131.23" width="3.41" height="1.4" fill="#20a060" opacity="0.8"/>
<rect x="1655.99" y="2130.92" width="2.67" height="1.4" fill="#ff66b8" opacity="0.8"/>
<rect x="1663.37" y="2131.55" width="3.07" height="1.4" fill="#8a4be0" opacity="0.8"/>
<rect x="1675.33" y="2131.59" width="4.41" height="1.4" fill="#45c3f2" opacity="0.8"/>
<rect x="1686.12" y="2131.57" width="3.08" height="1.4" fill="#1a1a9a" opacity="0.8"/>
<rect x="1691.07" y="2131.63" width="1.68" height="1.4" fill="#20a060" opacity="0.8"/>
<rect x="1701.56" y="2130.96" width="2.8" height="1.4" fill="#8a4be0" opacity="0.8"/>
<rect x="1710.38" y="2130.83" width="2.2" height="1.4" fill="#ff66b8" opacity="0.8"/>
<rect x="1715.47" y="2131.18" width="2.4" height="1.4" fill="#1a1a9a" opacity="0.8"/>
<rect x="1718.99" y="2131.09" width="2.39" height="1.4" fill="#ff66b8" opacity="0.8"/>
<rect x="1726.53" y="2130.8" width="2.96" height="1.4" fill="#8a4be0" opacity="0.8"/>
<rect x="1737.3" y="2131.48" width="3.62" height="1.4" fill="#ff66b8" opacity="0.8"/>
<rect x="1747.37" y="2131.66" width="1.96" height="1.4" fill="#1a1a9a" opacity="0.8"/>
<rect x="1758.14" y="2130.8" width="4.25" height="1.4" fill="#ff66b8" opacity="0.8"/>
<rect x="1770.4" y="2130.73" width="4.72" height="1.4" fill="#ff66b8" opacity="0.8"/>
<rect x="1776.36" y="2131.28" width="3.04" height="1.4" fill="#45c3f2" opacity="0.8"/>
<rect x="1784.33" y="2130.86" width="2.71" height="1.4" fill="#8a4be0" opacity="0.8"/>
<rect x="1791.49" y="2131.4" width="1.77" height="1.4" fill="#8a4be0" opacity="0.8"/>
<rect x="1799.15" y="2131.26" width="3.49" height="1.4" fill="#1a1a9a" opacity="0.8"/>
<rect x="1806.27" y="2131.61" width="1.71" height="1.4" fill="#45c3f2" opacity="0.8"/>
<rect x="1813.33" y="2130.99" width="2.16" height="1.4" fill="#20a060" opacity="0.8"/>
<rect x="1823.66" y="2131.61" width="4.8" height="1.4" fill="#8a4be0" opacity="0.8"/>
<rect x="1837.16" y="2130.76" width="3.6" height="1.4" fill="#20a060" opacity="0.8"/>
<rect x="1847.63" y="2131.16" width="2.24" height="1.4" fill="#45c3f2" opacity="0.8"/>
<rect x="1851.48" y="2131.28" width="3.84" height="1.4" fill="#1a1a9a" opacity="0.8"/>
<rect x="1863.25" y="2130.87" width="2.63" height="1.4" fill="#e0a020" opacity="0.8"/>
<rect x="1870.91" y="2131.7" width="3.12" height="1.4" fill="#e0a020" opacity="0.8"/>
<rect x="1876.67" y="2130.72" width="2.28" height="1.4" fill="#45c3f2" opacity="0.8"/>
<rect x="1880.29" y="2131.54" width="2.02" height="1.4" fill="#ff66b8" opacity="0.8"/>
<rect x="1210.11" y="2134.4" width="1.91" height="16.2" fill="#888888"/>
<rect x="1258.56" y="2134.4" width="7.35" height="16.2" fill="#cccccc"/>
<rect x="1277.34" y="2134.4" width="6.26" height="16.2" fill="#777777"/>
<rect x="1289.86" y="2134.4" width="20.96" height="16.2" fill="#000000"/>
<rect x="1312.18" y="2134.4" width="6.8" height="16.2" fill="#555555"/>
<rect x="1318.99" y="2134.4" width="6.8" height="16.2" fill="#111111"/>
<rect x="1327.97" y="2134.4" width="6.53" height="16.2" fill="#aaaaaa"/>
<rect x="1338.04" y="2134.4" width="2.72" height="16.2" fill="#dddddd"/>
<rect x="1342.67" y="2134.4" width="4.35" height="16.2" fill="#bbbbbb"/>
<rect x="1350.29" y="2134.4" width="5.44" height="16.2" fill="#aaaaaa"/>
<rect x="1374.78" y="2134.4" width="9.53" height="16.2" fill="#000000"/>
<rect x="1385.13" y="2134.4" width="3.27" height="16.2" fill="#aaaaaa"/>
<rect x="1392.48" y="2134.4" width="5.44" height="16.2" fill="#999999"/>
<rect x="1403.91" y="2134.4" width="4.9" height="16.2" fill="#bbbbbb"/>
<rect x="1410.17" y="2134.4" width="20.41" height="16.2" fill="#000000"/>
<rect x="1431.94" y="2134.4" width="5.44" height="16.2" fill="#cccccc"/>
<rect x="1458.62" y="2134.4" width="3.81" height="16.2" fill="#888888"/>
<rect x="1474.13" y="2134.4" width="6.26" height="16.2" fill="#333333"/>
<rect x="1489.1" y="2134.4" width="2.72" height="16.2" fill="#dddddd"/>
<rect x="1494" y="2134.4" width="5.99" height="16.2" fill="#cccccc"/>
<rect x="1460" y="2134.4" width="2.72" height="16.2" fill="#808080"/>
<rect x="1474.15" y="2134.4" width="6.26" height="16.2" fill="#333333"/>
<rect x="1489.94" y="2134.4" width="2.18" height="16.2" fill="#dddddd"/>
<rect x="1494.02" y="2134.4" width="2.72" height="16.2" fill="#cccccc"/>
<rect x="1498.92" y="2134.4" width="4.63" height="16.2" fill="#999999"/>
<rect x="1515.8" y="2134.4" width="4.08" height="16.2" fill="#bbbbbb"/>
<rect x="1544.38" y="2134.4" width="7.35" height="16.2" fill="#000000"/>
<rect x="1553.36" y="2134.4" width="1.91" height="16.2" fill="#888888"/>
<rect x="1560.71" y="2134.4" width="5.99" height="16.2" fill="#bbbbbb"/>
<rect x="1577.58" y="2134.4" width="2.18" height="16.2" fill="#e0e0e0"/>
<rect x="1608.88" y="2134.4" width="1.36" height="16.2" fill="#cccccc"/>
<rect x="1615.14" y="2134.4" width="8.98" height="16.2" fill="#c0c0c0"/>
<rect x="1627.94" y="2134.4" width="1.91" height="16.2" fill="#cccccc"/>
<rect x="1635.01" y="2134.4" width="1.91" height="16.2" fill="#dddddd"/>
<rect x="1638.82" y="2134.4" width="2.18" height="16.2" fill="#cccccc"/>
<rect x="1645.08" y="2134.4" width="2.18" height="16.2" fill="#bbbbbb"/>
<rect x="1658.15" y="2134.4" width="2.18" height="16.2" fill="#999999"/>
<rect x="1664.68" y="2134.4" width="1.36" height="16.2" fill="#e0e0e0"/>
<rect x="1693.26" y="2134.4" width="1.91" height="16.2" fill="#bbbbbb"/>
<rect x="1749.33" y="2134.4" width="1.91" height="16.2" fill="#aaaaaa"/>
<rect x="1765.39" y="2134.4" width="1.36" height="16.2" fill="#cccccc"/>
<rect x="1788.52" y="2134.4" width="1.63" height="16.2" fill="#dddddd"/>
<rect x="1792.61" y="2134.4" width="1.63" height="16.2" fill="#cccccc"/>
<rect x="1799.68" y="2134.4" width="3.27" height="16.2" fill="#999999"/>
<rect x="1814.38" y="2134.4" width="3.81" height="16.2" fill="#aaaaaa"/>
<rect x="1821.46" y="2134.4" width="1.91" height="16.2" fill="#cccccc"/>
<rect x="1865.01" y="2134.4" width="1.63" height="16.2" fill="#bbbbbb"/>
<rect x="1292.3" y="2152.5" width="3.7" height="23" fill="#ff0000"/>
<rect x="1298.7" y="2152.5" width="4" height="23" fill="#ff0000"/>
<rect x="1305.4" y="2152.5" width="3.6" height="23" fill="#ff0000"/>
<line x1="1294.5" y1="2180.5" x2="1258.6" y2="2250.5" stroke="#000" stroke-width="1.2" stroke-dasharray="5.5 3.2"/>
<line x1="1307" y1="2180" x2="1534.8" y2="2253" stroke="#000" stroke-width="1.2" stroke-dasharray="5.5 3.2"/>
<text x="1041.8" y="2250.5" font-size="28.2" >CpG methylation</text>
<text x="1152.9" y="2296.7" font-size="27.85" >H3122</text>
<text x="1152.9" y="2385.4" font-size="27.85" >LR</text>
<circle cx="1289.8" cy="2287.1" r="31" fill="#fff" stroke="#000" stroke-width="2"/><path d="M1289.8 2287.1L1289.8 2256.1A31 31 0 1 1 1259.77 2294.81Z" fill="#000" stroke="#000" stroke-width="0.8" stroke-linejoin="round"/>
<circle cx="1398.8" cy="2287.1" r="31" fill="#fff" stroke="#000" stroke-width="2"/><path d="M1398.8 2287.1L1398.8 2256.1A31 31 0 1 1 1396.85 2318.04Z" fill="#000" stroke="#000" stroke-width="0.8" stroke-linejoin="round"/>
<circle cx="1505.3" cy="2287.1" r="31" fill="#fff" stroke="#000" stroke-width="2"/><path d="M1505.3 2287.1L1505.3 2256.1A31 31 0 1 1 1475.82 2277.52Z" fill="#000" stroke="#000" stroke-width="0.8" stroke-linejoin="round"/>
<circle cx="1289.8" cy="2375.5" r="31" fill="#fff" stroke="#000" stroke-width="2"/><path d="M1289.8 2375.5L1289.8 2344.5A31 31 0 0 1 1319.83 2383.21Z" fill="#000" stroke="#000" stroke-width="0.8" stroke-linejoin="round"/>
<circle cx="1398.8" cy="2375.5" r="31" fill="#fff" stroke="#000" stroke-width="2"/><path d="M1398.8 2375.5L1398.8 2344.5A31 31 0 0 1 1412 2347.45Z" fill="#000" stroke="#000" stroke-width="0.8" stroke-linejoin="round"/>
<circle cx="1505.3" cy="2375.5" r="31" fill="#fff" stroke="#000" stroke-width="2"/><path d="M1505.3 2375.5L1505.3 2344.5A31 31 0 0 1 1525.06 2351.61Z" fill="#000" stroke="#000" stroke-width="0.8" stroke-linejoin="round"/>
<text x="1315.3" y="2343.9" font-size="27.85" >0.71</text>
<text x="1429.6" y="2343.9" font-size="27.85" >0.51</text>
<text x="1542.2" y="2343.9" font-size="27.85" >0.80</text>
<text x="1315.3" y="2431.6" font-size="27.85" >0.29</text>
<text x="1429.6" y="2431.6" font-size="27.85" >0.07</text>
<text x="1542.2" y="2431.6" font-size="27.85" >0.11</text>
<rect x="1736.6" y="2458.73" width="35.7" height="45.27" fill="#fff" stroke="#000" stroke-width="1.8"/>
<path d="M1754.45 2454.21V2463.26M1748.45 2454.21h12M1748.45 2463.26h12" fill="none" stroke="#505050" stroke-width="1.6"/>
<rect x="1847.2" y="2279.93" width="36" height="224.07" fill="#000" stroke="#000" stroke-width="1.8"/>
<path d="M1865.2 2264.09V2295.77M1859.2 2264.09h12M1859.2 2295.77h12" fill="none" stroke="#505050" stroke-width="1.6"/>
<path d="M1698.8 2232.4V2504H1920.7" fill="none" stroke="#000" stroke-width="1.9"/>
<line x1="1689.8" y1="2504" x2="1698.8" y2="2504" stroke="#000" stroke-width="1.9" />
<text x="1665.8" y="2514" font-size="27.85" text-anchor="end">0</text>
<line x1="1689.8" y1="2458.73" x2="1698.8" y2="2458.73" stroke="#000" stroke-width="1.9" />
<text x="1665.8" y="2468.73" font-size="27.85" text-anchor="end">1</text>
<line x1="1689.8" y1="2413.47" x2="1698.8" y2="2413.47" stroke="#000" stroke-width="1.9" />
<text x="1665.8" y="2423.47" font-size="27.85" text-anchor="end">2</text>
<line x1="1689.8" y1="2368.2" x2="1698.8" y2="2368.2" stroke="#000" stroke-width="1.9" />
<text x="1665.8" y="2378.2" font-size="27.85" text-anchor="end">3</text>
<line x1="1689.8" y1="2322.93" x2="1698.8" y2="2322.93" stroke="#000" stroke-width="1.9" />
<text x="1665.8" y="2332.93" font-size="27.85" text-anchor="end">4</text>
<line x1="1689.8" y1="2277.67" x2="1698.8" y2="2277.67" stroke="#000" stroke-width="1.9" />
<text x="1665.8" y="2287.67" font-size="27.85" text-anchor="end">5</text>
<line x1="1689.8" y1="2232.4" x2="1698.8" y2="2232.4" stroke="#000" stroke-width="1.9" />
<text x="1665.8" y="2242.4" font-size="27.85" text-anchor="end">6</text>
<line x1="1698.8" y1="2504" x2="1698.8" y2="2513.5" stroke="#000" stroke-width="1.9" />
<line x1="1809.75" y1="2504" x2="1809.75" y2="2513.5" stroke="#000" stroke-width="1.9" />
<line x1="1920.7" y1="2504" x2="1920.7" y2="2513.5" stroke="#000" stroke-width="1.9" />
<text x="1754.28" y="2545.5" font-size="27.85" text-anchor="middle">H3122</text>
<text x="1865.22" y="2545.5" font-size="27.85" text-anchor="middle">LR</text>
<text x="1801.5" y="2209" font-size="27.85" text-anchor="middle" font-style="italic">AXL</text>
<text font-size="27.85" text-anchor="middle" transform="translate(1635.5 2354.5) rotate(-90)">Relative mRNA expression</text>
<text x="1865.2" y="2266.2" font-size="38.5" text-anchor="middle">*</text>
</svg>
</body></html>
